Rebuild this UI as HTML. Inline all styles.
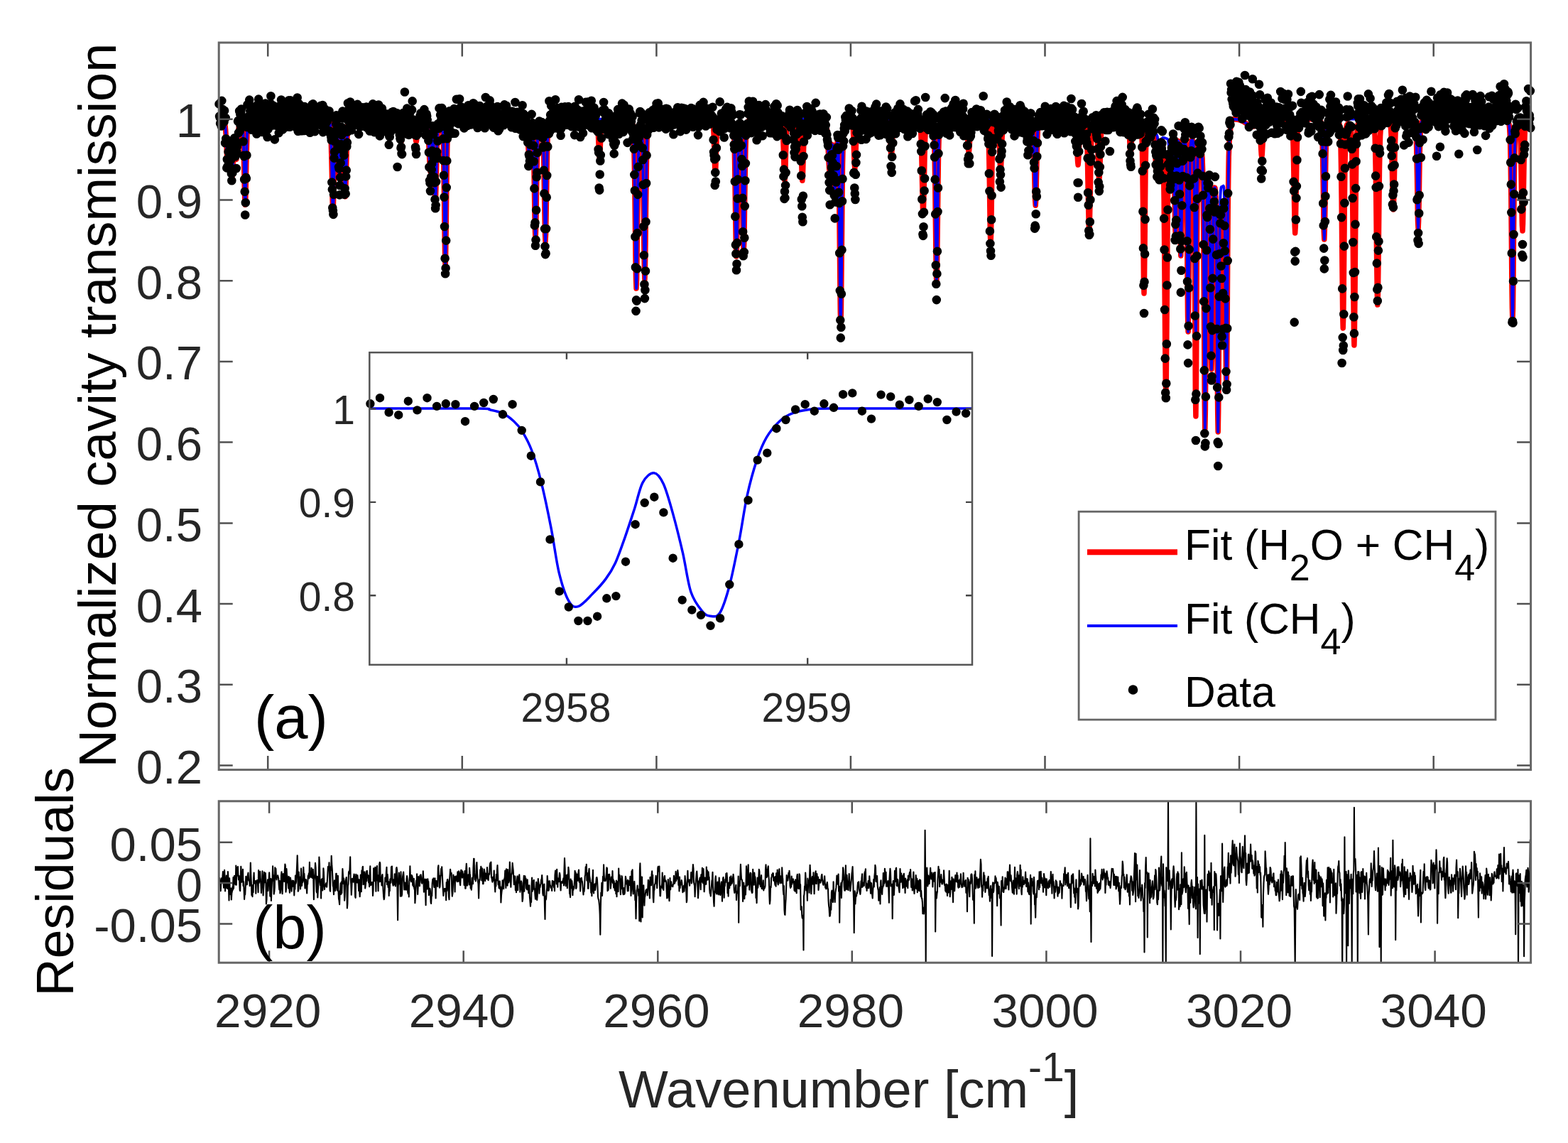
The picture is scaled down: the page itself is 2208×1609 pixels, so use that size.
<!DOCTYPE html><html><head><meta charset="utf-8"><title>Spectrum fit</title><style>html,body{margin:0;padding:0;background:#fff}svg{display:block}</style></head><body>
<svg width="2208" height="1609" viewBox="0 0 2208 1609" font-family="'Liberation Sans', Arial, Helvetica, sans-serif">
<rect width="2208" height="1609" fill="#fff"/>
<defs><clipPath id="cm"><rect x="308.2" y="60.0" width="1847.4" height="1023.6"/></clipPath><clipPath id="cr"><rect x="308.2" y="1127.8" width="1847.4" height="227.4"/></clipPath><clipPath id="ci"><rect x="520.3" y="496.2" width="848.7" height="439.6"/></clipPath></defs>
<g clip-path="url(#cm)">
<polyline fill="none" stroke="#f00" stroke-width="7.5" stroke-linejoin="round" points="308.5,168.1 309,168.1 309.6,168.2 310.1,168.2 310.7,168.3 311.2,168.3 311.7,168.4 312.3,168.5 312.8,168.6 313.4,169 313.9,169.2 314.4,169.5 315,169.8 315.5,170.5 316.1,171.7 316.6,173.8 317.1,177.4 317.7,183 318.2,190.9 318.8,201 319.3,212.6 319.8,223.1 320.4,230.9 320.9,233.9 321.5,231.6 322,224.9 322.5,216 323.1,207.9 323.6,203.2 324.2,204 324.7,210.7 325.2,222.1 325.8,235 326.3,245.3 326.9,249.2 327.4,245.1 327.9,234.6 328.5,221.4 329,209.4 329.6,201.8 330.1,199.9 330.6,202.9 331.2,209.3 331.7,216.9 332.3,222.5 332.8,224.4 333.3,221.9 333.9,215.3 334.4,206.4 335,196.6 335.5,188.2 336,181.5 336.6,176.9 337.1,174 337.7,172.3 338.2,171.5 338.7,171.1 339.3,171.1 339.8,171.2 340.4,171.7 340.9,172.4 341.4,174.9 342,180.2 342.5,190.6 343.1,207.9 343.6,231.8 344.1,258.4 344.7,280 345.2,288.3 345.8,279.9 346.3,258.3 346.8,231.4 347.4,207.4 347.9,190.1 348.5,179.7 349,174.2 349.5,171.7 350.1,170.5 350.6,169.9 351.2,169.5 351.7,169.3 352.2,169 352.8,168.9 353.3,168.7 353.9,168.6 354.4,168.5 354.9,168.4 355.5,168.4 356,168.3 356.6,168.3 357.1,168.2 357.6,168.2 358.2,168.1 358.7,168.1 359.3,167.7 454.8,167.7 455.4,168.2 455.9,168.2 456.5,168.3 457,168.3 457.5,168.4 458.1,168.4 458.6,168.5 459.2,168.6 459.7,168.7 460.2,168.8 460.8,169 461.3,169.1 461.9,169.3 462.4,169.6 462.9,169.9 463.5,170.4 464,171.3 464.6,173.4 465.1,177.2 465.6,184.5 466.2,197.2 466.7,216.6 467.3,241.7 467.8,268.1 468.3,288.7 468.9,296.6 469.4,288.8 470,268.4 470.5,242.1 471,217.2 471.6,198 472.1,185.4 472.7,178.9 473.2,175.7 473.7,175.1 474.3,176.4 474.8,180.4 475.4,187.7 475.9,199.2 476.4,214.2 477,230 477.5,242.3 478.1,247 478.6,242.4 479.1,230.1 479.7,214.3 480.2,199.5 480.8,188.2 481.3,181.2 481.8,178.3 482.4,179.2 482.9,183.7 483.5,193.9 484,210 484.5,230.9 485.1,253 485.6,270.2 486.2,276.7 486.7,270.1 487.2,252.6 487.8,230.4 488.3,209.2 488.9,192.7 489.4,182 489.9,175.8 490.5,172.6 491,171.1 491.6,170.3 492.1,169.6 492.6,169.3 493.2,169.1 493.7,168.9 494.3,168.8 494.8,168.6 495.3,168.5 495.9,168.5 496.4,168.4 497,168.3 497.5,168.3 498,168.2 498.6,168.2 499.1,168.1 499.7,168.1 500.2,167.7 534.2,167.7 534.8,167.8 535.3,167.8 535.8,167.8 536.4,167.8 536.9,167.8 537.5,167.8 538,167.8 538.5,167.9 539.1,167.9 539.6,167.9 540.2,167.9 540.7,167.9 541.2,168 541.8,168 542.3,168.1 542.9,168.2 543.4,168.3 543.9,168.5 544.5,169 545,170.1 545.6,172.2 546.1,175.7 546.6,180.6 547.2,185.9 547.7,190.3 548.3,192 548.8,190.3 549.3,185.9 549.9,180.6 550.4,175.7 551,172.2 551.5,170.2 552,169.1 552.6,168.6 553.1,168.4 553.7,168.3 554.2,168.2 554.7,168.2 555.3,168.2 555.8,168.2 556.4,168.2 556.9,168.2 557.4,168.2 558,168.2 558.5,168.3 559.1,168.3 559.6,168.4 560.1,168.6 560.7,168.9 561.2,169.5 561.8,171 562.3,173.7 562.8,178.4 563.4,184.8 563.9,192 564.5,197.8 565,200 565.5,197.8 566.1,192 566.6,184.8 567.2,178.4 567.7,173.7 568.2,170.9 568.8,169.5 569.3,168.8 569.9,168.5 570.4,168.3 570.9,168.2 571.5,168.1 572,168.1 572.6,168.1 573.1,168.1 573.6,168.1 574.2,168.1 574.7,168.1 575.3,168 575.8,168 576.3,168.1 576.9,168.1 577.4,168.1 578,168.1 578.5,168.1 579,168.1 579.6,168.1 580.1,168.2 580.7,168.3 581.2,168.5 581.7,168.8 582.3,169.5 582.8,170.9 583.4,173.7 583.9,178.4 584.4,184.8 585,192 585.5,197.8 586.1,200 586.6,197.8 587.1,192 587.7,184.8 588.2,178.4 588.8,173.7 589.3,170.9 589.8,169.5 590.4,168.8 590.9,168.5 591.5,168.3 592,168.2 592.5,168.5 593.1,168.5 593.6,168.5 594.2,168.5 594.7,168.5 595.2,168.5 595.8,168.5 596.3,168.6 596.9,168.6 597.4,168.7 597.9,168.8 598.5,168.9 599,169.1 599.6,169.8 600.1,170.1 600.6,170.8 601.2,172.2 601.7,174.5 602.3,178.5 602.8,184.8 603.3,193.8 603.9,205.1 604.4,217.7 605,229.5 605.5,238.2 606,241.4 606.6,238.6 607.1,230.4 607.7,219.1 608.2,207.4 608.7,197.8 609.3,192.2 609.8,192.4 610.4,199.7 610.9,214.5 611.4,235.3 612,257.9 612.5,275.6 613.1,282.3 613.6,275.9 614.1,257.6 614.7,234.3 615.2,212.2 615.8,195.1 616.3,183.9 616.8,177.5 617.4,174.3 617.9,172.8 618.5,172.1 619,171.8 619.5,171.7 620.1,171.4 620.6,171.6 621.2,171.9 621.7,172.4 622.2,173.4 622.8,175.3 623.3,179.6 623.9,188.8 624.4,206.7 624.9,236.3 625.5,277.4 626,323.1 626.6,360 627.1,374 627.6,359.6 628.2,322.6 628.7,276.9 629.3,235.8 629.8,206.1 630.3,188.2 630.9,178.9 631.4,174.5 632,172.5 632.5,171.5 633,170.8 633.6,170.4 634.1,170 634.7,169.7 635.2,169.5 635.7,169.3 636.3,169.1 636.8,169 637.4,168.8 637.9,168.7 638.4,168.6 639,168.6 639.5,168.5 640.1,168.4 640.6,168.4 641.1,167.7 730.8,167.7 731.3,167.9 731.9,167.9 732.4,167.9 732.9,167.9 733.5,168 734,168 734.6,168 735.1,168 735.6,168.1 736.2,168.1 736.7,168.2 737.3,168.2 737.8,168.3 738.3,168.4 738.9,168.5 739.4,168.7 740,169 740.5,170.3 741,171.7 741.6,174.5 742.1,179.2 742.7,186.5 743.2,195.8 743.7,205.6 744.3,213.3 744.8,216.3 745.4,213.6 745.9,206.2 746.4,196.7 747,187.7 747.5,180.9 748.1,176.7 748.6,174.6 749.1,174.4 749.7,176.1 750.2,180.7 750.8,190 751.3,206.6 751.8,232 752.4,264.8 752.9,299.2 753.5,326.1 754,336.4 754.5,326.7 755.1,299.8 755.6,265.2 756.2,232.4 756.7,207 757.2,190.4 757.8,181 758.3,176.2 758.9,173.8 759.4,172.7 759.9,172.3 760.5,172.1 761,172 761.6,172.1 762.1,172.3 762.6,172.8 763.2,173.9 763.7,176.1 764.3,181 764.8,190.7 765.3,207.7 765.9,233.7 766.4,267.3 767,302.6 767.5,330.1 768,340 768.6,329.5 769.1,301.9 769.7,266.5 770.2,232.9 770.7,206.8 771.3,189.7 771.8,180 772.4,175 772.9,172.6 773.4,171.4 774,170.7 774.5,170.2 775.1,169.9 775.6,169.6 776.1,169.4 776.7,169.2 777.2,169 777.8,168.9 778.3,168.8 778.8,168.7 779.4,168.6 779.9,168.5 780.5,168.5 781,168.4 781.5,168.3 782.1,167.7 830.1,167.7 830.7,167.9 831.2,167.9 831.8,167.9 832.3,167.9 832.8,167.9 833.4,167.9 833.9,168 834.5,168 835,168 835.5,168.1 836.1,168.1 836.6,168.2 837.2,168.2 837.7,168.3 838.2,168.4 838.8,168.6 839.3,168.8 839.9,169.1 840.4,169.9 840.9,171.8 841.5,175.7 842,182.9 842.6,193.7 843.1,206.7 843.6,217.6 844.2,222 844.7,217.6 845.3,206.7 845.8,193.7 846.3,182.9 846.9,175.7 847.4,171.8 848,169.9 848.5,169.1 849,168.8 849.6,168.6 850.1,168.4 850.7,168.3 851.2,168.2 851.7,168.3 852.3,168.2 852.8,168.2 853.4,168.2 853.9,168.2 854.4,168.2 855,168.1 855.5,168.1 856.1,168.2 856.6,168.2 857.1,168.2 857.7,168.2 858.2,168.1 858.8,168.2 859.3,168.3 859.8,168.4 860.4,168.6 860.9,168.9 861.5,169.7 862,171.4 862.5,174.6 863.1,180 863.6,187.4 864.2,195.7 864.7,202.4 865.2,205 865.8,202.4 866.3,195.7 866.9,187.4 867.4,180 867.9,174.6 868.5,171.4 869,169.7 869.6,168.9 870.1,168.6 870.6,168.4 871.2,168.3 871.7,168.2 872.3,168.1 872.8,168.1 873.3,168 873.9,168 874.4,168 875,167.9 875.5,167.9 876,167.9 876.6,167.9 877.1,167.9 877.7,167.9 878.2,167.8 878.7,167.8 879.3,167.7 882,167.7 882.5,168.7 883.1,168.8 883.6,168.9 884.1,169 884.7,169.1 885.2,169.2 885.8,169.4 886.3,169.6 886.8,169.8 887.4,170 887.9,170.3 888.5,170.6 889,171.1 889.5,171.6 890.1,172.4 890.6,173.6 891.2,176 891.7,180.6 892.2,189.5 892.8,205.5 893.3,231.5 893.9,268.3 894.4,313.9 894.9,359 895.5,393.2 896,406.1 896.6,393.4 897.1,359.4 897.6,314.5 898.2,269.8 898.7,233.2 899.3,207.5 899.8,191.7 900.3,183 900.9,178.8 901.4,176.9 902,176.2 902.5,176.4 903,177.4 903.6,180.1 904.1,186.3 904.7,198.7 905.2,220.7 905.7,254.4 906.3,298 906.8,343.9 907.4,379.7 907.9,393.3 908.4,379.5 909,343.5 909.5,297.3 910.1,252.6 910.6,218.6 911.1,196.4 911.7,183.7 912.2,177.2 912.8,174 913.3,172.5 913.8,171.6 914.4,171 914.9,170.5 915.5,170.2 916,169.9 916.5,169.6 917.1,169.4 917.6,169.3 918.2,169.1 918.7,169 919.2,168.9 919.8,168.8 920.3,168.7 920.9,168.6 921.4,168.5 921.9,167.7 993.2,167.7 993.8,167.9 994.3,167.9 994.8,168 995.4,168 995.9,168 996.5,168 997,168.1 997.5,168.1 998.1,168.2 998.6,168.2 999.2,168.3 999.7,168.4 1000.2,168.4 1000.8,168.6 1001.3,168.7 1001.9,168.9 1002.4,169.2 1002.9,169.7 1003.5,170.8 1004,173.4 1004.6,178.9 1005.1,189 1005.6,204.3 1006.2,222.5 1006.7,237.9 1007.3,244 1007.8,237.9 1008.3,222.5 1008.9,204.3 1009.4,189 1010,178.9 1010.5,173.4 1011,170.8 1011.6,169.7 1012.1,169.2 1012.7,168.9 1013.2,168.7 1013.7,168.6 1014.3,168.4 1014.8,168.4 1015.4,168.3 1015.9,168.2 1016.4,168.2 1017,168.1 1017.5,168.1 1018.1,168 1018.6,168 1019.1,168 1019.7,168 1020.2,167.9 1020.8,167.9 1021.3,167.7 1022.9,167.7 1023.5,168.4 1024,168.5 1024.5,168.5 1025.1,168.6 1025.6,168.7 1026.2,168.8 1026.7,168.9 1027.2,169 1027.8,169.2 1028.3,169.4 1028.9,169.6 1029.4,169.8 1029.9,170.1 1030.5,170.5 1031,171 1031.6,171.8 1032.1,173.1 1032.6,175.8 1033.2,181.4 1033.7,193 1034.3,212.1 1034.8,241.3 1035.3,278.9 1035.9,318.4 1036.4,349.3 1037,361.1 1037.5,349.5 1038,318.9 1038.6,279.6 1039.1,242.2 1039.7,213.4 1040.2,194.6 1040.7,184.1 1041.3,179 1041.8,177 1042.4,177 1042.9,178.8 1043.4,183.6 1044,193.7 1044.5,211.7 1045.1,239.3 1045.6,275.1 1046.1,312.7 1046.7,342.1 1047.2,353.2 1047.8,341.8 1048.3,312.2 1048.8,274.3 1049.4,238.3 1049.9,210.3 1050.5,192 1051,180.8 1051.5,175.5 1052.1,172.9 1052.6,171.6 1053.2,170.9 1053.7,170.4 1054.2,170 1054.8,169.7 1055.3,169.5 1055.9,169.3 1056.4,169.1 1056.9,169 1057.5,168.9 1058,168.8 1058.6,168.7 1059.1,168.6 1059.6,168.5 1060.2,168.4 1060.7,168.4 1061.3,167.7 1091,167.7 1091.5,168 1092,168 1092.6,168 1093.1,168.1 1093.7,168.1 1094.2,168.1 1094.7,168.2 1095.3,168.2 1095.8,168.3 1096.4,168.4 1096.9,168.4 1097.4,168.5 1098,168.7 1098.5,168.8 1099.1,169 1099.6,169.3 1100.1,169.7 1100.7,170.6 1101.2,172.4 1101.8,176.3 1102.3,183.8 1102.8,196.2 1103.4,213.4 1103.9,232.5 1104.5,248 1105,254 1105.5,248 1106.1,232.5 1106.6,213.5 1107.2,196.3 1107.7,183.9 1108.2,176.5 1108.8,172.6 1109.3,170.8 1109.9,170 1110.4,169.6 1110.9,169.3 1111.5,169.2 1112,169.1 1112.6,169 1113.1,169 1113.6,169 1114.2,169 1114.7,169.1 1115.3,169.3 1115.8,169.7 1116.3,170.9 1116.9,173.1 1117.4,177.2 1118,184 1118.5,193.4 1119,203.6 1119.6,212.2 1120.1,215.5 1120.7,212.3 1121.2,203.9 1121.7,193.5 1122.3,184.1 1122.8,177.5 1123.4,173.5 1123.9,171.6 1124.4,170.8 1125,170.8 1125.5,171.4 1126.1,173.1 1126.6,176.9 1127.1,184.3 1127.7,196.6 1128.2,213.8 1128.8,232.9 1129.3,248.3 1129.8,254.3 1130.4,248.2 1130.9,232.7 1131.5,213.6 1132,196.4 1132.5,183.9 1133.1,176.4 1133.6,172.5 1134.2,170.6 1134.7,169.7 1135.2,169.3 1135.8,169 1136.3,168.8 1136.9,168.7 1137.4,168.5 1137.9,168.4 1138.5,168.4 1139,168.3 1139.6,168.2 1140.1,168.2 1140.6,168.1 1141.2,168.1 1141.7,168.1 1142.3,168 1142.8,168 1143.3,168 1143.9,167.7 1154.1,167.7 1154.7,168.1 1155.2,168.1 1155.8,168.2 1156.3,168.2 1156.8,168.3 1157.4,168.4 1157.9,168.5 1158.5,168.7 1159,168.9 1159.5,169.1 1160.1,169.4 1160.6,169.7 1161.2,170.1 1161.7,170.7 1162.2,171.9 1162.8,173 1163.3,174.7 1163.9,177.3 1164.4,181.5 1164.9,187.6 1165.5,196 1166,206.6 1166.6,218.3 1167.1,229.3 1167.6,237.6 1168.2,241.3 1168.7,239.7 1169.3,233.5 1169.8,224.6 1170.3,216.3 1170.9,208.7 1171.4,204.1 1172,203.6 1172.5,207.5 1173,215.6 1173.6,227.3 1174.1,240.9 1174.7,253.7 1175.2,262.8 1175.7,265.7 1176.3,261.5 1176.8,251.2 1177.4,237.2 1177.9,222.5 1178.4,209.7 1179,200.6 1179.5,196.6 1180.1,199.6 1180.6,212.4 1181.1,238.8 1181.7,280.8 1182.2,335.5 1182.8,393.7 1183.3,439.1 1183.8,456.1 1184.4,438.3 1184.9,392.2 1185.5,333.2 1186,277.1 1186.5,233.6 1187.1,205.1 1187.6,188.8 1188.2,180.4 1188.7,176.3 1189.2,174.2 1189.8,172.7 1190.3,172.1 1190.9,171.6 1191.4,171.1 1191.9,170.8 1192.5,170.5 1193,170.3 1193.6,170.1 1194.1,169.9 1194.6,169.8 1195.2,169.7 1195.7,169.6 1196.3,169.6 1196.8,169.6 1197.3,169.7 1197.9,168.8 1198.4,169 1199,169.3 1199.5,170 1200,171.5 1200.6,174.6 1201.1,180.6 1201.7,190.6 1202.2,204.4 1202.7,219.7 1203.3,232.2 1203.8,237 1204.4,232.2 1204.9,219.7 1205.4,204.4 1206,190.6 1206.5,180.6 1207.1,174.6 1207.6,171.5 1208.1,170 1208.7,169.3 1209.2,169 1209.8,168.8 1210.3,168.6 1210.8,168.5 1211.4,168.4 1211.9,168.3 1212.5,168.2 1213,168.2 1213.5,168.1 1214.1,168.1 1214.6,168.1 1215.2,168 1215.7,168 1216.2,168 1216.8,168 1217.3,167.9 1217.9,167.7 1241.1,167.7 1241.6,167.9 1242.2,167.9 1242.7,167.9 1243.2,167.9 1243.8,167.9 1244.3,168 1244.9,168 1245.4,168 1245.9,168.1 1246.5,168.1 1247,168.2 1247.6,168.2 1248.1,168.3 1248.6,168.4 1249.2,168.5 1249.7,168.7 1250.3,168.9 1250.8,169.4 1251.3,170.5 1251.9,172.9 1252.4,177.4 1253,185 1253.5,195.4 1254,207 1254.6,216.4 1255.1,220 1255.7,216.4 1256.2,207 1256.7,195.4 1257.3,185 1257.8,177.4 1258.4,172.9 1258.9,170.5 1259.4,169.4 1260,168.9 1260.5,168.7 1261.1,168.5 1261.6,168.4 1262.1,168.3 1262.7,168.2 1263.2,168.2 1263.8,168.1 1264.3,168.1 1264.8,168 1265.4,168 1265.9,168 1266.5,167.9 1267,167.9 1267.5,167.9 1268.1,167.9 1268.6,167.9 1269.2,167.7 1285.9,167.7 1286.4,168.2 1287,168.2 1287.5,168.3 1288.1,168.3 1288.6,168.4 1289.1,168.5 1289.7,168.5 1290.2,168.6 1290.8,168.7 1291.3,168.9 1291.8,169 1292.4,169.2 1292.9,169.4 1293.5,169.6 1294,170 1294.5,170.5 1295.1,171.5 1295.6,173.3 1296.2,177.2 1296.7,184.8 1297.2,198 1297.8,218.1 1298.3,244.2 1298.9,271.5 1299.4,292.9 1299.9,301 1300.5,292.9 1301,271.5 1301.6,244.2 1302.1,218.1 1302.6,198 1303.2,184.8 1303.7,177.2 1304.3,173.3 1304.8,171.5 1305.3,171.4 1305.9,170.9 1306.4,170.6 1307,170.5 1307.5,170.4 1308,170.3 1308.6,170.3 1309.1,170.3 1309.7,170.4 1310.2,170.5 1310.7,170.7 1311.3,170.9 1311.8,171.2 1312.4,171.6 1312.9,172.2 1313.4,173.1 1314,174.2 1314.5,177.4 1315.1,184.1 1315.6,197.2 1316.1,220 1316.7,254.8 1317.2,299.8 1317.8,347.1 1318.3,384 1318.8,398 1319.4,384 1319.9,347.1 1320.5,299.8 1321,254.8 1321.5,220 1322.1,197.2 1322.6,184.1 1323.2,177.4 1323.7,174.2 1324.2,172.6 1324.8,171.7 1325.3,171.1 1325.9,170.6 1326.4,170.2 1326.9,169.9 1327.5,169.7 1328,169.5 1328.6,169.3 1329.1,169.1 1329.6,169 1330.2,168.9 1330.7,168.8 1331.3,168.7 1331.8,168.6 1332.3,168.6 1332.9,167.7 1350.2,167.7 1350.7,167.9 1351.2,167.9 1351.8,167.9 1352.3,167.9 1352.9,167.9 1353.4,167.9 1353.9,168 1354.5,168 1355,168 1355.6,168.1 1356.1,168.1 1356.6,168.2 1357.2,168.2 1357.7,168.3 1358.3,168.4 1358.8,168.6 1359.3,168.8 1359.9,169.3 1360.4,170.3 1361,172.4 1361.5,176.5 1362,183.3 1362.6,192.7 1363.1,203.2 1363.7,211.7 1364.2,215 1364.7,211.7 1365.3,203.2 1365.8,192.7 1366.4,183.3 1366.9,176.5 1367.4,172.4 1368,170.3 1368.5,169.3 1369.1,168.8 1369.6,168.6 1370.1,168.4 1370.7,168.3 1371.2,168.2 1371.8,168.2 1372.3,168.1 1372.8,168.1 1373.4,168 1373.9,168 1374.5,168 1375,167.9 1375.5,167.9 1376.1,167.9 1376.6,167.9 1377.2,167.9 1377.7,167.9 1378.2,167.7 1380.9,167.7 1381.5,168.3 1382,168.3 1382.6,168.4 1383.1,168.4 1383.6,168.5 1384.2,168.6 1384.7,168.7 1385.3,168.8 1385.8,168.9 1386.3,169 1386.9,169.2 1387.4,169.4 1388,169.7 1388.5,170 1389,170.3 1389.6,170.9 1390.1,171.8 1390.7,173.5 1391.2,177.2 1391.7,185.1 1392.3,200.3 1392.8,225.5 1393.4,260.5 1393.9,299.3 1394.4,330.8 1395,343 1395.5,331 1396.1,299.6 1396.6,260.8 1397.1,225.8 1397.7,200.6 1398.2,185.5 1398.8,177.6 1399.3,173.9 1399.8,172.3 1400.4,171.4 1400.9,171 1401.5,170.7 1402,170.5 1402.5,170.3 1403.1,170.3 1403.6,170.3 1404.2,170.6 1404.7,171.2 1405.2,172.6 1405.8,175.8 1406.3,181.9 1406.9,192.3 1407.4,206.6 1407.9,222.6 1408.5,235.5 1409,240 1409.6,235 1410.1,222 1410.6,206 1411.2,191.6 1411.7,181.2 1412.3,174.9 1412.8,171.6 1413.3,170.1 1413.9,169.4 1414.4,169 1415,168.8 1415.5,168.6 1416,168.5 1416.6,168.4 1417.1,168.3 1417.7,168.3 1418.2,168.2 1418.7,168.1 1419.3,168.1 1419.8,168.1 1420.4,168 1420.9,168 1421.4,168 1422,168 1422.5,167.9 1423.1,167.7 1433.9,167.7 1434.4,167.8 1434.9,167.8 1435.5,167.8 1436,167.9 1436.6,167.9 1437.1,167.9 1437.6,167.9 1438.2,167.9 1438.7,168 1439.3,168 1439.8,168 1440.3,168.1 1440.9,168.1 1441.4,168.2 1442,168.3 1442.5,168.4 1443,168.6 1443.6,169.1 1444.1,170 1444.7,172.3 1445.2,175.5 1445.7,180.5 1446.3,186.8 1446.8,193.5 1447.4,198.7 1447.9,200.8 1448.4,198.9 1449,193.8 1449.5,187.3 1450.1,181.1 1450.6,176.4 1451.1,173.4 1451.7,171.8 1452.2,171.2 1452.8,171.2 1453.3,171.8 1453.8,173.4 1454.4,176.8 1454.9,183.6 1455.5,195.6 1456,213.9 1456.5,237.6 1457.1,262.4 1457.6,281.8 1458.2,289.2 1458.7,281.8 1459.2,262.3 1459.8,237.4 1460.3,213.7 1460.9,195.4 1461.4,183.3 1461.9,176.4 1462.5,172.8 1463,171.1 1463.6,170.3 1464.1,169.8 1464.6,169.5 1465.2,169.2 1465.7,169 1466.3,168.9 1466.8,168.8 1467.3,168.6 1467.9,168.5 1468.4,168.5 1469,168.4 1469.5,168.3 1470,168.3 1470.6,168.2 1471.1,168.2 1471.7,168.2 1472.2,167.7 1504.1,167.7 1504.6,167.9 1505.1,167.9 1505.7,168 1506.2,168 1506.8,168 1507.3,168 1507.8,168.1 1508.4,168.1 1508.9,168.1 1509.5,168.2 1510,168.3 1510.5,168.3 1511.1,168.4 1511.6,168.5 1512.2,168.7 1512.7,168.9 1513.2,169.2 1513.8,169.8 1514.3,171.2 1514.9,174.1 1515.4,179.7 1515.9,188.9 1516.5,201.7 1517,216 1517.6,227.5 1518.1,232 1518.6,227.5 1519.2,216 1519.7,201.7 1520.3,189.6 1520.8,180.4 1521.3,174.9 1521.9,172 1522.4,170.7 1523,170.2 1523.5,170 1524,169.9 1524.6,169.9 1525.1,169.9 1525.7,170 1526.2,170.2 1526.7,170.4 1527.3,170.7 1527.8,171.2 1528.4,172 1528.9,173.5 1529.4,176.5 1530,182.4 1530.5,193 1531.1,210.2 1531.6,234.6 1532.1,264.1 1532.7,293.9 1533.2,316.5 1533.8,325 1534.3,316.9 1534.8,294.3 1535.4,264.5 1535.9,234.8 1536.5,210.5 1537,193.3 1537.5,182.7 1538.1,176.9 1538.6,173.9 1539.2,172.5 1539.7,171.7 1540.2,171.4 1540.8,171.1 1541.3,171.1 1541.9,171.1 1542.4,171.4 1542.9,172 1543.5,173.6 1544,176.6 1544.6,182.3 1545.1,191.5 1545.6,204.7 1546.2,220.7 1546.7,236.9 1547.3,249.1 1547.8,253 1548.3,248.4 1548.9,236.2 1549.4,220 1550,203.9 1550.5,190.6 1551,181.3 1551.6,175.5 1552.1,172.3 1552.7,170.7 1553.2,169.8 1553.7,169.4 1554.3,169.1 1554.8,168.9 1555.4,168.8 1555.9,168.6 1556.4,168.5 1557,168.4 1557.5,168.4 1558.1,168.3 1558.6,168.3 1559.1,168.2 1559.7,168.2 1560.2,168.1 1560.8,168.1 1561.3,168.1 1561.8,167.7 1578,167.7 1578.6,167.9 1579.1,167.9 1579.7,167.9 1580.2,167.9 1580.7,167.9 1581.3,167.9 1581.8,168 1582.4,168 1582.9,168 1583.4,168.1 1584,168.1 1584.5,168.2 1585.1,168.2 1585.6,168.3 1586.1,168.4 1586.7,168.6 1587.2,168.8 1587.8,169.3 1588.3,170.3 1588.8,172.4 1589.4,176.5 1589.9,183.3 1590.5,192.7 1591,203.2 1591.5,211.7 1592.1,215 1592.6,211.7 1593.2,203.2 1593.7,192.7 1594.2,183.3 1594.8,176.5 1595.3,172.4 1595.9,170.3 1596.4,169.3 1596.9,168.8 1597.5,169.2 1598,169.1 1598.6,169 1599.1,169 1599.6,169 1600.2,169.2 1600.7,169.5 1601.3,169.9 1601.8,170.3 1602.3,170.7 1602.9,171.1 1603.4,171.6 1604,172.2 1604.5,172.8 1605,173.5 1605.6,174.3 1606.1,175.2 1606.7,176.9 1607.2,180 1607.7,187.1 1608.3,202.7 1608.8,233 1609.4,281 1609.9,340.3 1610.4,392 1611,413 1611.5,392.6 1612.1,341.5 1612.6,282.8 1613.1,235.3 1613.7,205.6 1614.2,190.5 1614.8,184.2 1615.3,181.8 1615.8,180.9 1616.4,180.7 1616.9,180.6 1617.5,180.7 1618,180.9 1618.5,181.2 1619.1,181.5 1619.6,181.9 1620.2,182.3 1620.7,182.8 1621.2,183.2 1621.8,183.7 1622.3,184.3 1622.9,184.9 1623.4,185.5 1623.9,186.3 1624.5,187.6 1625,189.3 1625.6,193.5 1626.1,201 1626.6,212 1627.2,224.9 1627.7,236 1628.3,240.9 1628.8,237.5 1629.3,228.1 1629.9,217.8 1630.4,210.8 1631,210 1631.5,215.3 1632,224.2 1632.6,232.6 1633.1,236 1633.7,232.5 1634.2,223.7 1634.7,213.3 1635.3,204.7 1635.8,199.3 1636.4,197.1 1636.9,198.2 1637.4,203.5 1638,216 1638.5,240.2 1639.1,280.5 1639.6,338.4 1640.1,409.2 1640.7,480.1 1641.2,533.4 1641.8,553.4 1642.3,533.6 1642.8,480.6 1643.4,410.1 1643.9,339.7 1644.5,282.5 1645,243.7 1645.5,223 1646.1,218 1646.6,225.2 1647.2,239.8 1647.7,254.2 1648.2,260.1 1648.8,253.9 1649.3,238.7 1649.9,221.7 1650.4,208.7 1650.9,201.3 1651.5,198.6 1652,200 1652.6,206.8 1653.1,222.6 1653.6,249.9 1654.2,285.4 1654.7,317.1 1655.3,330 1655.8,317.1 1656.3,285.5 1656.9,250 1657.4,222.8 1658,207 1658.5,200.1 1659,198.4 1659.6,200.8 1660.1,209.4 1660.7,228.8 1661.2,262.2 1661.7,305.5 1662.3,344.2 1662.8,360 1663.4,344.3 1663.9,305.6 1664.4,262.3 1665,229 1665.5,209.6 1666.1,200.9 1666.6,197.8 1667.1,197 1667.7,196.8 1668.2,197 1668.8,197.8 1669.3,200.7 1669.8,208.9 1670.4,228.1 1670.9,264.8 1671.5,321.1 1672,388.1 1672.5,444.7 1673.1,467 1673.6,444.7 1674.2,388.2 1674.7,321.3 1675.2,265 1675.8,228.3 1676.3,209.2 1676.9,201.1 1677.4,198.2 1677.9,197.4 1678.5,197.3 1679,197.3 1679.6,197.8 1680.1,200 1680.6,207.4 1681.2,228.2 1681.7,274.2 1682.3,353.6 1682.8,456.6 1683.3,548.6 1683.9,586 1684.4,548.6 1685,456.6 1685.5,353.7 1686,274.4 1686.6,228.5 1687.1,207.7 1687.7,200.3 1688.2,198.2 1688.7,197.8 1689.3,197.7 1689.8,197.7 1690.4,200.1 1690.9,203.7 1691.4,207.4 1692,211.2 1692.5,216 1693.1,223.4 1693.6,238 1694.1,267.3 1694.7,320.1 1695.2,399.4 1695.8,493 1696.3,571.8 1696.8,604 1697.4,576.3 1697.9,502.6 1698.5,414.9 1699,341.4 1699.5,294.4 1700.1,271 1700.6,262.3 1701.2,260.9 1701.7,262.8 1702.2,266.5 1702.8,274.2 1703.3,292.5 1703.9,327.4 1704.4,381.1 1704.9,444.9 1705.5,498.7 1706,520 1706.6,498.7 1707.1,444.9 1707.6,381.1 1708.2,327.4 1708.7,292.5 1709.3,274.2 1709.8,266.5 1710.3,264.1 1710.9,264.3 1711.4,267.8 1712,278.2 1712.5,302.7 1713,349.5 1713.6,421.6 1714.1,507.2 1714.7,579.5 1715.2,608 1715.7,579.5 1716.3,507.3 1716.8,421.9 1717.4,351 1717.9,308.1 1718.4,294.7 1719,308.8 1719.5,347.4 1720.1,401.3 1720.6,450.1 1721.1,470 1721.7,450.1 1722.2,400.6 1722.8,345 1723.3,304.2 1723.8,287.2 1724.4,296 1724.9,331.4 1725.5,391.7 1726,464.8 1726.5,526.4 1727.1,549 1727.6,517.3 1728.2,447.3 1728.7,365.5 1729.2,295.7 1729.8,247.9 1730.3,219.8 1730.9,203.9 1731.4,194.9 1731.9,188.6 1732.5,183 1733,177.5 1733.6,172.1 1734.1,167.8 1734.6,167.8 1735.2,167.8 1735.7,167.8 1736.3,167.8 1736.8,167.8 1737.3,167.8 1737.9,167.9 1738.4,167.9 1739,167.9 1739.5,168 1740,168 1740.6,168 1741.1,168.1 1741.7,168.2 1742.2,168.2 1742.7,168.3 1743.3,168.4 1743.8,168.5 1744.4,168.6 1744.9,168.8 1745.4,168.9 1746,169.1 1746.5,169.2 1747.1,169.4 1747.6,169.6 1748.1,169.8 1748.7,170.1 1749.2,170.3 1749.8,170.6 1750.3,170.8 1750.8,171.1 1751.4,171.5 1751.9,171.8 1752.5,172.1 1753,172.4 1753.5,172.8 1754.1,173.2 1754.6,173.5 1755.2,173.9 1755.7,174.2 1756.2,174.6 1756.8,175 1757.3,175.3 1757.9,175.6 1758.4,176 1758.9,176.2 1759.5,176.5 1760,176.8 1760.6,177 1761.1,177.2 1761.6,177.4 1762.2,177.5 1762.7,177.6 1763.3,177.8 1763.8,177.9 1764.3,177.9 1764.9,177.9 1765.4,177.8 1766,177.7 1766.5,177.6 1767,177.5 1767.6,177.3 1768.1,177.1 1768.7,176.9 1769.2,176.7 1769.7,176.4 1770.3,176.2 1770.8,176 1771.4,175.8 1771.9,175.7 1772.4,175.8 1773,176.5 1773.5,178.4 1774.1,182.3 1774.6,189.1 1775.1,198.6 1775.7,209.3 1776.2,217.9 1776.8,221 1777.3,217.2 1777.8,208 1778.4,196.8 1778.9,186.6 1779.5,179.2 1780,174.7 1780.5,172.2 1781.1,171 1781.6,170.3 1782.2,169.9 1782.7,169.6 1783.2,169.4 1783.8,169.2 1784.3,169 1784.9,168.8 1785.4,168.7 1785.9,168.6 1786.5,168.5 1787,168.4 1787.6,168.3 1788.1,168.2 1788.6,168.2 1789.2,168.1 1789.7,168.1 1790.3,168 1790.8,167.8 1791.3,167.8 1791.9,167.8 1792.4,167.8 1793,167.8 1793.5,167.8 1809.7,167.7 1810.2,168.3 1810.8,168.3 1811.3,168.4 1811.9,168.5 1812.4,168.5 1812.9,168.6 1813.5,168.7 1814,168.8 1814.6,168.9 1815.1,169.1 1815.6,169.3 1816.2,169.5 1816.7,169.7 1817.3,170 1817.8,170.5 1818.3,171.1 1818.9,172.2 1819.4,174.5 1820,179.1 1820.5,188.2 1821,204.1 1821.6,228.4 1822.1,259.6 1822.7,292.6 1823.2,318.2 1823.7,328 1824.3,318.2 1824.8,292.6 1825.4,259.6 1825.9,228.4 1826.4,204.1 1827,188.2 1827.5,179.1 1828.1,174.5 1828.6,172.2 1829.1,171.1 1829.7,170.5 1830.2,170 1830.8,169.7 1831.3,169.5 1831.8,169.3 1832.4,169.1 1832.9,168.9 1833.5,168.8 1834,168.7 1834.5,168.6 1835.1,168.5 1835.6,168.5 1836.2,168.4 1836.7,168.3 1837.2,168.3 1837.8,167.7 1850.7,167.7 1851.3,168.3 1851.8,168.3 1852.4,168.3 1852.9,168.4 1853.4,168.5 1854,168.5 1854.5,168.6 1855.1,168.7 1855.6,168.9 1856.1,169 1856.7,169.2 1857.2,169.3 1857.8,169.6 1858.3,169.9 1858.8,170.3 1859.4,170.8 1859.9,171.6 1860.5,173.3 1861,176.9 1861.5,184.5 1862.1,199.2 1862.6,223.5 1863.2,257.3 1863.7,294.8 1864.2,325.2 1864.8,337 1865.3,325.2 1865.9,294.8 1866.4,257.3 1866.9,223.5 1867.5,199.2 1868,184.5 1868.6,176.9 1869.1,173.3 1869.6,171.6 1870.2,170.8 1870.7,170.3 1871.3,169.9 1871.8,169.6 1872.3,169.3 1872.9,169.2 1873.4,169 1874,168.9 1874.5,168.7 1875,168.6 1875.6,168.5 1876.1,168.5 1876.7,168.4 1877.2,168.3 1877.7,169.4 1878.3,169.4 1878.8,169 1879.4,169.1 1879.9,169.2 1880.4,169.4 1881,169.5 1881.5,169.7 1882.1,170 1882.6,170.2 1883.1,170.6 1883.7,170.9 1884.2,171.4 1884.8,172 1885.3,172.8 1885.8,173.9 1886.4,176 1886.9,180.1 1887.5,188.7 1888,205.3 1888.5,234.5 1889.1,279.1 1889.6,336.5 1890.2,396.9 1890.7,444 1891.2,462 1891.8,444 1892.3,396.9 1892.9,336.5 1893.4,280.2 1893.9,235.8 1894.5,206.7 1895,190.2 1895.6,181.8 1896.1,177.8 1896.6,175.9 1897.2,175 1897.7,174.4 1898.3,174.1 1898.8,174 1899.3,174.1 1899.9,174.2 1900.4,174.6 1901,175.2 1901.5,176.3 1902,178.3 1902.6,182.7 1903.1,191.8 1903.7,209.7 1904.2,241.2 1904.7,289.2 1905.3,350.3 1905.8,415.6 1906.4,466.6 1906.9,486 1907.4,466.6 1908,415.6 1908.5,350.3 1909.1,288.1 1909.6,240 1910.1,208.4 1910.7,190.4 1911.2,181.1 1911.8,176.7 1912.3,174.4 1912.8,173.2 1913.4,172.3 1913.9,171.7 1914.5,171.2 1915,170.8 1915.5,170.4 1916.1,170.2 1916.6,169.9 1917.2,169.7 1917.7,169.5 1918.2,169.3 1918.8,169.2 1919.3,169.1 1919.9,169 1920.4,168.9 1920.9,167.7 1925.8,167.7 1926.3,168.8 1926.9,168.9 1927.4,169 1928,169.1 1928.5,169.2 1929,169.4 1929.6,169.5 1930.1,169.7 1930.7,170 1931.2,170.2 1931.7,170.6 1932.3,170.9 1932.8,171.4 1933.4,172 1933.9,172.9 1934.4,174.2 1935,176.8 1935.5,181.9 1936.1,191.7 1936.6,209.4 1937.1,237.9 1937.7,278.5 1938.2,327.8 1938.8,377.4 1939.3,414.9 1939.8,429 1940.4,414.9 1940.9,377.4 1941.5,327.8 1942,278.5 1942.5,237.9 1943.1,209.4 1943.6,191.7 1944.2,181.9 1944.7,176.8 1945.2,174.2 1945.8,172.9 1946.3,172 1946.9,171.4 1947.4,170.9 1947.9,170.6 1948.5,170.7 1949,170.5 1949.6,170.3 1950.1,170.1 1950.6,170 1951.2,169.9 1951.7,169.9 1952.3,169.9 1952.8,169.9 1953.3,169.9 1953.9,168.9 1954.4,169.1 1955,169.3 1955.5,169.6 1956,169.9 1956.6,170.4 1957.1,171.3 1957.7,173.1 1958.2,176.8 1958.7,184 1959.3,196.6 1959.8,215.9 1960.4,240.7 1960.9,266.9 1961.4,287.2 1962,295 1962.5,287.2 1963.1,266.9 1963.6,240.7 1964.1,215.9 1964.7,196.6 1965.2,184 1965.8,176.8 1966.3,173.1 1966.8,171.3 1967.4,170.4 1967.9,169.9 1968.5,169.6 1969,169.3 1969.5,169.1 1970.1,168.9 1970.6,168.8 1971.2,168.7 1971.7,168.6 1972.2,168.5 1972.8,168.4 1973.3,168.4 1973.9,168.3 1974.4,168.3 1974.9,168.2 1975.5,168.2 1976,167.7 1983,167.7 1983.6,168.2 1984.1,168.2 1984.7,168.3 1985.2,168.3 1985.7,168.4 1986.3,168.5 1986.8,168.6 1987.4,168.6 1987.9,168.8 1988.4,168.9 1989,169 1989.5,169.2 1990.1,169.4 1990.6,169.7 1991.1,170 1991.7,170.5 1992.2,171.3 1992.8,172.8 1993.3,176.1 1993.8,183 1994.4,196.4 1994.9,218.6 1995.5,249.4 1996,283.6 1996.5,311.2 1997.1,322 1997.6,311.2 1998.2,283.6 1998.7,249.4 1999.2,218.6 1999.8,196.4 2000.3,183 2000.9,176.1 2001.4,172.8 2001.9,171.3 2002.5,170.5 2003,170 2003.6,169.7 2004.1,169.4 2004.6,169.2 2005.2,169 2005.7,168.9 2006.3,168.8 2006.8,168.6 2007.3,168.6 2007.9,168.5 2008.4,168.4 2009,168.3 2009.5,168.3 2010,168.2 2010.6,168.2 2011.1,167.7 2115.9,167.7 2116.4,168.8 2117,168.8 2117.5,168.9 2118,169 2118.6,169.2 2119.1,169.3 2119.7,169.5 2120.2,169.7 2120.7,169.9 2121.3,170.1 2121.8,170.5 2122.4,170.8 2122.9,171.3 2123.4,171.8 2124,172.6 2124.5,173.7 2125.1,175.7 2125.6,179.7 2126.1,187.9 2126.7,203.9 2127.2,232 2127.8,274.9 2128.3,330.2 2128.8,388.4 2129.4,433.7 2129.9,451 2130.5,434.3 2131,389 2131.5,330.9 2132.1,275.6 2132.6,232.9 2133.2,204.8 2133.7,188.9 2134.2,180.8 2134.8,176.9 2135.3,175.1 2135.9,174.1 2136.4,173.6 2136.9,173.2 2137.5,173.1 2138,173.2 2138.6,173.5 2139.1,174.3 2139.6,176.3 2140.2,180.7 2140.7,189.4 2141.3,204.9 2141.8,228.6 2142.3,259.2 2142.9,291.3 2143.4,316.4 2144,325 2144.5,315.4 2145,290.2 2145.6,257.9 2146.1,227.2 2146.7,203.4 2147.2,187.8 2147.7,178.9 2148.3,174.3 2148.8,172.1 2149.4,171 2149.9,170.4 2150.4,170 2151,169.7 2151.5,169.4 2152.1,169.2 2152.6,169.1 2153.1,168.9 2153.7,168.8 2154.2,168.7 2154.8,168.6 2155.3,168.5"/>
<polyline fill="none" stroke="#00f" stroke-width="3.8" stroke-linejoin="round" points="308.5,168.1 309,168.1 309.6,168.2 310.1,168.2 310.7,168.3 311.2,168.3 311.7,168.4 312.3,168.5 312.8,168.6 313.4,169 313.9,169.2 314.4,169.5 315,169.8 315.5,170.5 316.1,171.7 316.6,173.8 317.1,177.4 317.7,183 318.2,190.9 318.8,201 319.3,212.6 319.8,223.1 320.4,230.9 320.9,233.9 321.5,231.6 322,224.9 322.5,216 323.1,207.9 323.6,203.2 324.2,204 324.7,210.7 325.2,222.1 325.8,235 326.3,245.3 326.9,249.2 327.4,245.1 327.9,234.6 328.5,221.4 329,209.4 329.6,201.8 330.1,199.9 330.6,202.9 331.2,209.3 331.7,216.9 332.3,222.5 332.8,224.4 333.3,221.9 333.9,215.3 334.4,206.4 335,196.6 335.5,188.2 336,181.5 336.6,176.9 337.1,174 337.7,172.3 338.2,171.5 338.7,171.1 339.3,171.1 339.8,171.2 340.4,171.7 340.9,172.4 341.4,174.9 342,180.2 342.5,190.6 343.1,207.9 343.6,231.8 344.1,258.4 344.7,280 345.2,288.3 345.8,279.9 346.3,258.3 346.8,231.4 347.4,207.4 347.9,190.1 348.5,179.7 349,174.2 349.5,171.7 350.1,170.5 350.6,169.9 351.2,169.5 351.7,169.3 352.2,169 352.8,168.9 353.3,168.7 353.9,168.6 354.4,168.5 354.9,168.4 355.5,168.4 356,168.3 356.6,168.3 357.1,168.2 357.6,168.2 358.2,168.1 358.7,168.1 359.3,167.7 454.8,167.7 455.4,168.2 455.9,168.2 456.5,168.3 457,168.3 457.5,168.4 458.1,168.4 458.6,168.5 459.2,168.6 459.7,168.7 460.2,168.8 460.8,169 461.3,169.1 461.9,169.3 462.4,169.6 462.9,169.9 463.5,170.4 464,171.3 464.6,173.4 465.1,177.2 465.6,184.5 466.2,197.2 466.7,216.6 467.3,241.7 467.8,268.1 468.3,288.7 468.9,296.6 469.4,288.8 470,268.4 470.5,242.1 471,217.2 471.6,198 472.1,185.4 472.7,178.9 473.2,175.7 473.7,175.1 474.3,176.4 474.8,180.4 475.4,187.7 475.9,199.2 476.4,214.2 477,230 477.5,242.3 478.1,247 478.6,242.4 479.1,230.1 479.7,214.3 480.2,199.5 480.8,188.2 481.3,181.2 481.8,178.3 482.4,179.2 482.9,183.7 483.5,193.9 484,210 484.5,230.9 485.1,253 485.6,270.2 486.2,276.7 486.7,270.1 487.2,252.6 487.8,230.4 488.3,209.2 488.9,192.7 489.4,182 489.9,175.8 490.5,172.6 491,171.1 491.6,170.3 492.1,169.6 492.6,169.3 493.2,169.1 493.7,168.9 494.3,168.8 494.8,168.6 495.3,168.5 495.9,168.5 496.4,168.4 497,168.3 497.5,168.3 498,168.2 498.6,168.2 499.1,168.1 499.7,168.1 500.2,167.7 592,167.7 592.5,168.1 593.1,168.1 593.6,168.2 594.2,168.2 594.7,168.2 595.2,168.3 595.8,168.3 596.3,168.4 596.9,168.5 597.4,168.6 597.9,168.7 598.5,168.8 599,169 599.6,169.7 600.1,170.1 600.6,170.8 601.2,172.2 601.7,174.5 602.3,178.5 602.8,184.8 603.3,193.8 603.9,205.1 604.4,217.7 605,229.5 605.5,238.2 606,241.4 606.6,238.6 607.1,230.4 607.7,219.1 608.2,207.4 608.7,197.8 609.3,192.2 609.8,192.4 610.4,199.7 610.9,214.5 611.4,235.3 612,257.9 612.5,275.6 613.1,282.3 613.6,275.9 614.1,257.6 614.7,234.3 615.2,212.2 615.8,195.1 616.3,183.9 616.8,177.5 617.4,174.3 617.9,172.8 618.5,172.1 619,171.8 619.5,171.7 620.1,171.4 620.6,171.6 621.2,171.9 621.7,172.4 622.2,173.4 622.8,175.3 623.3,179.6 623.9,188.8 624.4,206.7 624.9,236.3 625.5,277.4 626,323.1 626.6,360 627.1,374 627.6,359.6 628.2,322.6 628.7,276.9 629.3,235.8 629.8,206.1 630.3,188.2 630.9,178.9 631.4,174.5 632,172.5 632.5,171.5 633,170.8 633.6,170.4 634.1,170 634.7,169.7 635.2,169.5 635.7,169.3 636.3,169.1 636.8,169 637.4,168.8 637.9,168.7 638.4,168.6 639,168.6 639.5,168.5 640.1,168.4 640.6,168.4 641.1,167.7 730.8,167.7 731.3,167.9 731.9,167.9 732.4,167.9 732.9,167.9 733.5,168 734,168 734.6,168 735.1,168 735.6,168.1 736.2,168.1 736.7,168.2 737.3,168.2 737.8,168.3 738.3,168.4 738.9,168.5 739.4,168.7 740,169 740.5,170.3 741,171.7 741.6,174.5 742.1,179.2 742.7,186.5 743.2,195.8 743.7,205.6 744.3,213.3 744.8,216.3 745.4,213.6 745.9,206.2 746.4,196.7 747,187.7 747.5,180.9 748.1,176.7 748.6,174.6 749.1,174.4 749.7,176.1 750.2,180.7 750.8,190 751.3,206.6 751.8,232 752.4,264.8 752.9,299.2 753.5,326.1 754,336.4 754.5,326.7 755.1,299.8 755.6,265.2 756.2,232.4 756.7,207 757.2,190.4 757.8,181 758.3,176.2 758.9,173.8 759.4,172.7 759.9,172.3 760.5,172.1 761,172 761.6,172.1 762.1,172.3 762.6,172.8 763.2,173.9 763.7,176.1 764.3,181 764.8,190.7 765.3,207.7 765.9,233.7 766.4,267.3 767,302.6 767.5,330.1 768,340 768.6,329.5 769.1,301.9 769.7,266.5 770.2,232.9 770.7,206.8 771.3,189.7 771.8,180 772.4,175 772.9,172.6 773.4,171.4 774,170.7 774.5,170.2 775.1,169.9 775.6,169.6 776.1,169.4 776.7,169.2 777.2,169 777.8,168.9 778.3,168.8 778.8,168.7 779.4,168.6 779.9,168.5 780.5,168.5 781,168.4 781.5,168.3 782.1,167.7 882,167.7 882.5,168.7 883.1,168.8 883.6,168.9 884.1,169 884.7,169.1 885.2,169.2 885.8,169.4 886.3,169.6 886.8,169.8 887.4,170 887.9,170.3 888.5,170.6 889,171.1 889.5,171.6 890.1,172.4 890.6,173.6 891.2,176 891.7,180.6 892.2,189.5 892.8,205.5 893.3,231.5 893.9,268.3 894.4,313.9 894.9,359 895.5,393.2 896,406.1 896.6,393.4 897.1,359.4 897.6,314.5 898.2,269.8 898.7,233.2 899.3,207.5 899.8,191.7 900.3,183 900.9,178.8 901.4,176.9 902,176.2 902.5,176.4 903,177.4 903.6,180.1 904.1,186.3 904.7,198.7 905.2,220.7 905.7,254.4 906.3,298 906.8,343.9 907.4,379.7 907.9,393.3 908.4,379.5 909,343.5 909.5,297.3 910.1,252.6 910.6,218.6 911.1,196.4 911.7,183.7 912.2,177.2 912.8,174 913.3,172.5 913.8,171.6 914.4,171 914.9,170.5 915.5,170.2 916,169.9 916.5,169.6 917.1,169.4 917.6,169.3 918.2,169.1 918.7,169 919.2,168.9 919.8,168.8 920.3,168.7 920.9,168.6 921.4,168.5 921.9,167.7 1022.9,167.7 1023.5,168.4 1024,168.5 1024.5,168.5 1025.1,168.6 1025.6,168.7 1026.2,168.8 1026.7,168.9 1027.2,169 1027.8,169.2 1028.3,169.4 1028.9,169.6 1029.4,169.8 1029.9,170.1 1030.5,170.5 1031,171 1031.6,171.8 1032.1,173.1 1032.6,175.8 1033.2,181.4 1033.7,193 1034.3,212.1 1034.8,241.3 1035.3,278.9 1035.9,318.4 1036.4,349.3 1037,361.1 1037.5,349.5 1038,318.9 1038.6,279.6 1039.1,242.2 1039.7,213.4 1040.2,194.6 1040.7,184.1 1041.3,179 1041.8,177 1042.4,177 1042.9,178.8 1043.4,183.6 1044,193.7 1044.5,211.7 1045.1,239.3 1045.6,275.1 1046.1,312.7 1046.7,342.1 1047.2,353.2 1047.8,341.8 1048.3,312.2 1048.8,274.3 1049.4,238.3 1049.9,210.3 1050.5,192 1051,180.8 1051.5,175.5 1052.1,172.9 1052.6,171.6 1053.2,170.9 1053.7,170.4 1054.2,170 1054.8,169.7 1055.3,169.5 1055.9,169.3 1056.4,169.1 1056.9,169 1057.5,168.9 1058,168.8 1058.6,168.7 1059.1,168.6 1059.6,168.5 1060.2,168.4 1060.7,168.4 1061.3,167.7 1154.1,167.7 1154.7,168.1 1155.2,168.1 1155.8,168.2 1156.3,168.2 1156.8,168.3 1157.4,168.4 1157.9,168.5 1158.5,168.7 1159,168.9 1159.5,169.1 1160.1,169.4 1160.6,169.7 1161.2,170.1 1161.7,170.7 1162.2,171.9 1162.8,173 1163.3,174.7 1163.9,177.3 1164.4,181.5 1164.9,187.6 1165.5,196 1166,206.6 1166.6,218.3 1167.1,229.3 1167.6,237.6 1168.2,241.3 1168.7,239.7 1169.3,233.5 1169.8,224.6 1170.3,216.3 1170.9,208.7 1171.4,204.1 1172,203.6 1172.5,207.5 1173,215.6 1173.6,227.3 1174.1,240.9 1174.7,253.7 1175.2,262.8 1175.7,265.7 1176.3,261.5 1176.8,251.2 1177.4,237.2 1177.9,222.5 1178.4,209.7 1179,200.6 1179.5,196.6 1180.1,199.6 1180.6,212.4 1181.1,238.8 1181.7,280.8 1182.2,335.5 1182.8,393.7 1183.3,439.1 1183.8,456.1 1184.4,438.3 1184.9,392.2 1185.5,333.2 1186,277.1 1186.5,233.6 1187.1,205.1 1187.6,188.8 1188.2,180.4 1188.7,176.3 1189.2,174.2 1189.8,172.7 1190.3,171.9 1190.9,171.3 1191.4,170.9 1191.9,170.5 1192.5,170.2 1193,169.9 1193.6,169.7 1194.1,169.5 1194.6,169.3 1195.2,169.2 1195.7,169.1 1196.3,168.9 1196.8,168.8 1197.3,168.8 1197.9,167.7 1304.8,167.7 1305.3,168.6 1305.9,168.6 1306.4,168.7 1307,168.8 1307.5,168.9 1308,169 1308.6,169.1 1309.1,169.3 1309.7,169.5 1310.2,169.7 1310.7,169.9 1311.3,170.2 1311.8,170.6 1312.4,171.1 1312.9,171.7 1313.4,172.6 1314,174.2 1314.5,177.4 1315.1,184.1 1315.6,197.2 1316.1,220 1316.7,254.8 1317.2,299.8 1317.8,347.1 1318.3,384 1318.8,398 1319.4,384 1319.9,347.1 1320.5,299.8 1321,254.8 1321.5,220 1322.1,197.2 1322.6,184.1 1323.2,177.4 1323.7,174.2 1324.2,172.6 1324.8,171.7 1325.3,171.1 1325.9,170.6 1326.4,170.2 1326.9,169.9 1327.5,169.7 1328,169.5 1328.6,169.3 1329.1,169.1 1329.6,169 1330.2,168.9 1330.7,168.8 1331.3,168.7 1331.8,168.6 1332.3,168.6 1332.9,167.7 1433.9,167.7 1434.4,167.8 1434.9,167.8 1435.5,167.8 1436,167.9 1436.6,167.9 1437.1,167.9 1437.6,167.9 1438.2,167.9 1438.7,168 1439.3,168 1439.8,168 1440.3,168.1 1440.9,168.1 1441.4,168.2 1442,168.3 1442.5,168.4 1443,168.6 1443.6,169.1 1444.1,170 1444.7,172.3 1445.2,175.5 1445.7,180.5 1446.3,186.8 1446.8,193.5 1447.4,198.7 1447.9,200.8 1448.4,198.9 1449,193.8 1449.5,187.3 1450.1,181.1 1450.6,176.4 1451.1,173.4 1451.7,171.8 1452.2,171.2 1452.8,171.2 1453.3,171.8 1453.8,173.4 1454.4,176.8 1454.9,183.6 1455.5,195.6 1456,213.9 1456.5,237.6 1457.1,262.4 1457.6,281.8 1458.2,289.2 1458.7,281.8 1459.2,262.3 1459.8,237.4 1460.3,213.7 1460.9,195.4 1461.4,183.3 1461.9,176.4 1462.5,172.8 1463,171.1 1463.6,170.3 1464.1,169.8 1464.6,169.5 1465.2,169.2 1465.7,169 1466.3,168.9 1466.8,168.8 1467.3,168.6 1467.9,168.5 1468.4,168.5 1469,168.4 1469.5,168.3 1470,168.3 1470.6,168.2 1471.1,168.2 1471.7,168.2 1472.2,167.7 1599.6,167.7 1600.2,167.8 1600.7,168.1 1601.3,168.4 1601.8,168.7 1602.3,169 1602.9,169.2 1603.4,169.5 1604,169.8 1604.5,170.1 1605,170.4 1605.6,170.7 1606.1,171 1606.7,171.3 1607.2,171.6 1607.7,171.8 1608.3,172.1 1608.8,172.4 1609.4,172.7 1609.9,173 1610.4,173.3 1611,173.6 1611.5,173.9 1612.1,174.1 1612.6,174.4 1613.1,174.7 1613.7,175 1614.2,175.3 1614.8,175.6 1615.3,176 1615.8,176.5 1616.4,177 1616.9,177.5 1617.5,178 1618,178.5 1618.5,179 1619.1,179.5 1619.6,180.1 1620.2,180.7 1620.7,181.2 1621.2,181.7 1621.8,182.2 1622.3,182.7 1622.9,183.3 1623.4,183.8 1623.9,184.3 1624.5,184.8 1625,185.4 1625.6,185.9 1626.1,186.5 1626.6,187.1 1627.2,187.7 1627.7,188.3 1628.3,188.9 1628.8,189.7 1629.3,190.9 1629.9,192.9 1630.4,196.3 1631,202.4 1631.5,211.4 1632,222.1 1632.6,231.2 1633.1,235 1633.7,231.7 1634.2,223 1634.7,212.7 1635.3,204.1 1635.8,198.5 1636.4,195.5 1636.9,194.3 1637.4,193.8 1638,193.8 1638.5,193.8 1639.1,193.9 1639.6,194 1640.1,194.2 1640.7,194.4 1641.2,194.5 1641.8,194.7 1642.3,194.9 1642.8,195.1 1643.4,195.3 1643.9,195.6 1644.5,196.1 1645,197.5 1645.5,201 1646.1,208.6 1646.6,221.7 1647.2,238.6 1647.7,253.8 1648.2,260 1648.8,253.8 1649.3,238.7 1649.9,221.7 1650.4,208.7 1650.9,201.3 1651.5,198.6 1652,200 1652.6,206.8 1653.1,222.6 1653.6,249.9 1654.2,285.4 1654.7,317.1 1655.3,330 1655.8,317.1 1656.3,285.5 1656.9,250 1657.4,222.8 1658,207 1658.5,200.1 1659,198.4 1659.6,200.8 1660.1,209.4 1660.7,228.8 1661.2,262.2 1661.7,305.5 1662.3,344.2 1662.8,360 1663.4,344.3 1663.9,305.6 1664.4,262.3 1665,229 1665.5,209.6 1666.1,200.9 1666.6,197.8 1667.1,197 1667.7,196.8 1668.2,197 1668.8,197.8 1669.3,200.7 1669.8,208.9 1670.4,228.1 1670.9,264.8 1671.5,321.1 1672,388.1 1672.5,444.7 1673.1,467 1673.6,444.7 1674.2,388.2 1674.7,321.3 1675.2,265 1675.8,228.3 1676.3,209.2 1676.9,201.1 1677.4,198.2 1677.9,197.4 1678.5,197.3 1679,197.3 1679.6,197.7 1680.1,199.2 1680.6,204.4 1681.2,219 1681.7,251.3 1682.3,306.9 1682.8,379.2 1683.3,443.7 1683.9,470 1684.4,443.8 1685,379.3 1685.5,307.1 1686,251.5 1686.6,219.2 1687.1,204.7 1687.7,199.5 1688.2,198 1688.7,197.7 1689.3,197.7 1689.8,197.7 1690.4,200.1 1690.9,203.7 1691.4,207.4 1692,211.2 1692.5,216 1693.1,223.4 1693.6,238 1694.1,267.3 1694.7,320.1 1695.2,399.4 1695.8,493 1696.3,571.8 1696.8,604 1697.4,576.3 1697.9,502.6 1698.5,414.9 1699,341.4 1699.5,294.4 1700.1,271 1700.6,262.3 1701.2,260.9 1701.7,262.8 1702.2,266.5 1702.8,274.2 1703.3,292.5 1703.9,327.4 1704.4,381.1 1704.9,444.9 1705.5,498.7 1706,520 1706.6,498.7 1707.1,444.9 1707.6,381.1 1708.2,327.4 1708.7,292.5 1709.3,274.2 1709.8,266.5 1710.3,264.1 1710.9,264.3 1711.4,267.8 1712,278.2 1712.5,302.7 1713,349.5 1713.6,421.6 1714.1,507.2 1714.7,579.5 1715.2,608 1715.7,579.5 1716.3,507.2 1716.8,421.6 1717.4,349.5 1717.9,302.7 1718.4,278.2 1719,267.7 1719.5,264.1 1720.1,263 1720.6,262.8 1721.1,262.7 1721.7,262.8 1722.2,262.3 1722.8,261.6 1723.3,263.2 1723.8,270.7 1724.4,290.5 1724.9,330 1725.5,391.4 1726,464.8 1726.5,526.4 1727.1,549 1727.6,517.3 1728.2,447.3 1728.7,365.5 1729.2,295.7 1729.8,247.9 1730.3,219.8 1730.9,203.9 1731.4,194.9 1731.9,188.6 1732.5,183 1733,177.5 1733.6,172.1 1734.1,167.8 1734.6,167.8 1735.2,167.8 1735.7,167.8 1736.3,167.8 1736.8,167.8 1737.3,167.8 1737.9,167.9 1738.4,167.9 1739,167.9 1739.5,168 1740,168 1740.6,168 1741.1,168.1 1741.7,168.2 1742.2,168.2 1742.7,168.3 1743.3,168.4 1743.8,168.5 1744.4,168.6 1744.9,168.8 1745.4,168.9 1746,169.1 1746.5,169.2 1747.1,169.4 1747.6,169.6 1748.1,169.8 1748.7,170.1 1749.2,170.3 1749.8,170.6 1750.3,170.8 1750.8,171.1 1751.4,171.5 1751.9,171.8 1752.5,172.1 1753,172.4 1753.5,172.8 1754.1,173.2 1754.6,173.5 1755.2,173.9 1755.7,174.2 1756.2,174.6 1756.8,175 1757.3,175.3 1757.9,175.6 1758.4,176 1758.9,176.2 1759.5,176.5 1760,176.8 1760.6,177 1761.1,177.2 1761.6,177.4 1762.2,177.5 1762.7,177.6 1763.3,177.7 1763.8,177.7 1764.3,177.7 1764.9,177.7 1765.4,177.6 1766,177.5 1766.5,177.3 1767,177.2 1767.6,176.9 1768.1,176.7 1768.7,176.5 1769.2,176.2 1769.7,175.9 1770.3,175.5 1770.8,175.2 1771.4,174.9 1771.9,174.5 1772.4,174.2 1773,173.8 1773.5,173.4 1774.1,173.1 1774.6,172.7 1775.1,172.4 1775.7,172 1776.2,171.7 1776.8,171.4 1777.3,171.1 1777.8,170.8 1778.4,170.5 1778.9,170.2 1779.5,170 1780,169.8 1780.5,169.6 1781.1,169.4 1781.6,169.2 1782.2,169 1782.7,168.9 1783.2,168.7 1783.8,168.6 1784.3,168.5 1784.9,168.4 1785.4,168.3 1785.9,168.2 1786.5,168.2 1787,168.1 1787.6,168 1788.1,168 1788.6,167.9 1789.2,167.9 1789.7,167.9 1790.3,167.9 1790.8,167.8 1791.3,167.8 1791.9,167.8 1792.4,167.8 1793,167.8 1793.5,167.8 1850.7,167.7 1851.3,168.3 1851.8,168.3 1852.4,168.3 1852.9,168.4 1853.4,168.5 1854,168.5 1854.5,168.6 1855.1,168.7 1855.6,168.9 1856.1,169 1856.7,169.2 1857.2,169.3 1857.8,169.6 1858.3,169.9 1858.8,170.3 1859.4,170.8 1859.9,171.6 1860.5,173.3 1861,176.9 1861.5,184.5 1862.1,199.2 1862.6,223.5 1863.2,257.3 1863.7,294.8 1864.2,325.2 1864.8,337 1865.3,325.2 1865.9,294.8 1866.4,257.3 1866.9,223.5 1867.5,199.2 1868,184.5 1868.6,176.9 1869.1,173.3 1869.6,171.6 1870.2,170.8 1870.7,170.3 1871.3,169.9 1871.8,169.6 1872.3,169.3 1872.9,169.2 1873.4,169 1874,168.9 1874.5,168.7 1875,168.6 1875.6,168.5 1876.1,168.5 1876.7,168.4 1877.2,168.3 1877.7,168.3 1878.3,168.3 1878.8,167.7 1983,167.7 1983.6,168.2 1984.1,168.2 1984.7,168.3 1985.2,168.3 1985.7,168.4 1986.3,168.5 1986.8,168.6 1987.4,168.6 1987.9,168.8 1988.4,168.9 1989,169 1989.5,169.2 1990.1,169.4 1990.6,169.7 1991.1,170 1991.7,170.5 1992.2,171.3 1992.8,172.8 1993.3,176.1 1993.8,183 1994.4,196.4 1994.9,218.6 1995.5,249.4 1996,283.6 1996.5,311.2 1997.1,322 1997.6,311.2 1998.2,283.6 1998.7,249.4 1999.2,218.6 1999.8,196.4 2000.3,183 2000.9,176.1 2001.4,172.8 2001.9,171.3 2002.5,170.5 2003,170 2003.6,169.7 2004.1,169.4 2004.6,169.2 2005.2,169 2005.7,168.9 2006.3,168.8 2006.8,168.6 2007.3,168.6 2007.9,168.5 2008.4,168.4 2009,168.3 2009.5,168.3 2010,168.2 2010.6,168.2 2011.1,167.7 2115.9,167.7 2116.4,168.8 2117,168.8 2117.5,168.9 2118,169 2118.6,169.2 2119.1,169.3 2119.7,169.5 2120.2,169.7 2120.7,169.9 2121.3,170.1 2121.8,170.5 2122.4,170.8 2122.9,171.3 2123.4,171.8 2124,172.6 2124.5,173.7 2125.1,175.7 2125.6,179.7 2126.1,187.9 2126.7,203.9 2127.2,232 2127.8,274.9 2128.3,330.2 2128.8,388.4 2129.4,433.7 2129.9,451 2130.5,433.7 2131,388.4 2131.5,330.2 2132.1,274.9 2132.6,232 2133.2,203.9 2133.7,187.9 2134.2,179.7 2134.8,175.7 2135.3,173.7 2135.9,172.6 2136.4,171.8 2136.9,171.3 2137.5,170.8 2138,170.5 2138.6,170.1 2139.1,169.9 2139.6,169.7 2140.2,169.5 2140.7,169.3 2141.3,169.2 2141.8,169 2142.3,168.9 2142.9,168.8 2143.4,168.8 2144,167.7 2155.3,167.7"/>
</g>
<path fill="none" stroke="#000" stroke-width="12.6" stroke-linecap="round" d="M308.5 146.4h0M309 163.6h0M309.6 165.3h0M310.1 173.8h0M310.7 162.9h0M311.2 166.7h0M311.7 177.5h0M312.3 141.9h0M312.8 174.7h0M313.4 166.3h0M313.9 154.1h0M314.4 166.9h0M315 166h0M315.5 171.6h0M316.1 155.8h0M316.6 166.7h0M317.1 201.2h0M317.7 165.9h0M318.2 195.3h0M318.8 201.1h0M319.3 236.4h0M319.8 224.3h0M320.4 234.1h0M320.9 234h0M321.5 213.6h0M322 226.7h0M322.5 231.1h0M323.1 220.8h0M323.6 204.6h0M324.2 206.1h0M324.7 221.5h0M325.2 224.9h0M325.8 244.3h0M326.3 254.2h0M326.9 239.8h0M327.4 243.4h0M327.9 240.6h0M328.5 218.8h0M329 215.5h0M329.6 197.9h0M330.1 194.4h0M330.6 195.1h0M331.2 220.3h0M331.7 206.3h0M332.3 201.5h0M332.8 237h0M333.3 213.1h0M333.9 206.4h0M334.4 201.1h0M335 170.8h0M335.5 169.8h0M336 187h0M336.6 170.9h0M337.1 156.2h0M337.7 184.8h0M338.2 160.8h0M338.7 176.7h0M339.3 156.9h0M339.8 153.5h0M340.4 178h0M340.9 164.2h0M341.4 178.5h0M342 171.8h0M342.5 199.2h0M343.1 218.9h0M343.6 220.1h0M344.1 252.5h0M344.7 269.8h0M345.2 302.5h0M345.8 285.2h0M346.3 249.7h0M346.8 251.2h0M347.4 218.5h0M347.9 179h0M348.5 147.2h0M349 164.5h0M349.5 164.3h0M350.1 174h0M350.6 144.9h0M351.2 140.6h0M351.7 163.3h0M352.2 155.7h0M352.8 162.2h0M353.3 161.2h0M353.9 168.2h0M354.4 182.8h0M354.9 171.7h0M355.5 171.1h0M356 151.8h0M356.6 164h0M357.1 177.1h0M357.6 151.4h0M358.2 167h0M358.7 160.5h0M359.3 158.2h0M359.8 169.1h0M360.3 171h0M360.9 160.5h0M361.4 188.5h0M362 179.1h0M362.5 147.6h0M363 176.8h0M363.6 163.9h0M364.1 139.6h0M364.7 171.8h0M365.2 162.1h0M365.7 166.6h0M366.3 181.7h0M366.8 172.8h0M367.4 158.5h0M367.9 152.5h0M368.4 157.3h0M369 185.9h0M369.5 169.8h0M370.1 172.6h0M370.6 162.1h0M371.1 151.4h0M371.7 168.3h0M372.2 161.6h0M372.8 157.8h0M373.3 149.6h0M373.8 145.6h0M374.4 158.6h0M374.9 165.5h0M375.5 183.8h0M376 157.3h0M376.5 193h0M377.1 157.6h0M377.6 181.7h0M378.2 165.4h0M378.7 173.3h0M379.2 154.3h0M379.8 156.7h0M380.3 175.7h0M380.9 145.8h0M381.4 135.2h0M381.9 156.3h0M382.5 167.9h0M383 162.9h0M383.6 168.2h0M384.1 148.2h0M384.6 176.4h0M385.2 151.4h0M385.7 164.7h0M386.3 158.1h0M386.8 196.4h0M387.3 155.7h0M387.9 162.9h0M388.4 150.4h0M389 159h0M389.5 176.9h0M390 161.4h0M390.6 153h0M391.1 171h0M391.7 164.1h0M392.2 155.8h0M392.7 187.1h0M393.3 175.6h0M393.8 149.4h0M394.4 180.1h0M394.9 181.8h0M395.4 174h0M396 140.5h0M396.5 174h0M397.1 161.1h0M397.6 171h0M398.1 182.4h0M398.7 152.5h0M399.2 167.6h0M399.8 169.4h0M400.3 165.9h0M400.8 162.6h0M401.4 167.7h0M401.9 163h0M402.5 165.3h0M403 162.3h0M403.5 152.1h0M404.1 165.8h0M404.6 146.3h0M405.2 158.9h0M405.7 157.3h0M406.2 178.5h0M406.8 141.3h0M407.3 160.3h0M407.9 178.7h0M408.4 151.2h0M408.9 141.4h0M409.5 146.1h0M410 146.5h0M410.6 169.8h0M411.1 175.4h0M411.6 163.8h0M412.2 148.7h0M412.7 164.9h0M413.3 161.3h0M413.8 158.9h0M414.3 142.8h0M414.9 148.7h0M415.4 155.2h0M416 143.9h0M416.5 179.1h0M417 153.9h0M417.6 171.2h0M418.1 156.6h0M418.7 137.5h0M419.2 153.8h0M419.7 184.7h0M420.3 179.1h0M420.8 145.9h0M421.4 168.5h0M421.9 162.9h0M422.4 149.7h0M423 177.4h0M423.5 178.8h0M424.1 149h0M424.6 167h0M425.1 184.2h0M425.7 166h0M426.2 163.8h0M426.8 177.3h0M427.3 171.7h0M427.8 157.5h0M428.4 184h0M428.9 150.1h0M429.5 160.4h0M430 169.3h0M430.5 175.7h0M431.1 168.2h0M431.6 176.5h0M432.2 182.8h0M432.7 158.7h0M433.2 180.2h0M433.8 156.7h0M434.3 155.3h0M434.9 154.9h0M435.4 184.7h0M435.9 164h0M436.5 186.8h0M437 166.1h0M437.6 176h0M438.1 155.4h0M438.6 154.2h0M439.2 151.4h0M439.7 147h0M440.3 152.4h0M440.8 146.4h0M441.3 156h0M441.9 184.4h0M442.4 161.3h0M443 170.2h0M443.5 185.1h0M444 169.9h0M444.6 160.9h0M445.1 156.3h0M445.7 166.4h0M446.2 175.2h0M446.7 153.3h0M447.3 157.5h0M447.8 170.9h0M448.4 156.4h0M448.9 153.8h0M449.4 159.4h0M450 171.6h0M450.5 161.6h0M451.1 163.9h0M451.6 148.9h0M452.1 176.4h0M452.7 153.7h0M453.2 167.1h0M453.8 154.1h0M454.3 148h0M454.8 186.1h0M455.4 154.8h0M455.9 154.7h0M456.5 164h0M457 159.7h0M457.5 153.4h0M458.1 176.5h0M458.6 158.5h0M459.2 172.9h0M459.7 162.9h0M460.2 162.2h0M460.8 170.9h0M461.3 164.9h0M461.9 157.4h0M462.4 161.6h0M462.9 159.3h0M463.5 156.2h0M464 184.3h0M464.6 185.9h0M465.1 188.3h0M465.6 165.5h0M466.2 192.8h0M466.7 197.2h0M467.3 256.6h0M467.8 266.6h0M468.3 292.5h0M468.9 296.4h0M469.4 301.9h0M470 273.7h0M470.5 222.6h0M471 213.8h0M471.6 199.2h0M472.1 189.7h0M472.7 185.5h0M473.2 175h0M473.7 162.4h0M474.3 168.9h0M474.8 181.6h0M475.4 206.7h0M475.9 209.3h0M476.4 204.3h0M477 235.1h0M477.5 237.4h0M478.1 274.4h0M478.6 261h0M479.1 249.9h0M479.7 229.4h0M480.2 203.1h0M480.8 178.7h0M481.3 190.1h0M481.8 166.3h0M482.4 156.6h0M482.9 166.5h0M483.5 186.3h0M484 213.7h0M484.5 218.6h0M485.1 273.9h0M485.6 265.2h0M486.2 272.2h0M486.7 272.8h0M487.2 248.4h0M487.8 239.6h0M488.3 206.3h0M488.9 200.6h0M489.4 185.5h0M489.9 145.2h0M490.5 180.7h0M491 171.1h0M491.6 153.2h0M492.1 171.8h0M492.6 162h0M493.2 143.5h0M493.7 163.6h0M494.3 177.6h0M494.8 183.2h0M495.3 176h0M495.9 149.2h0M496.4 162.8h0M497 163.7h0M497.5 160.9h0M498 173.1h0M498.6 161.2h0M499.1 168.6h0M499.7 172.4h0M500.2 158.8h0M500.7 163.8h0M501.3 175.6h0M501.8 162.7h0M502.4 160.3h0M502.9 170.4h0M503.4 146.9h0M504 164.4h0M504.5 160.3h0M505.1 188.9h0M505.6 153.8h0M506.1 177.8h0M506.7 172h0M507.2 167.7h0M507.8 164.2h0M508.3 167.2h0M508.8 177.9h0M509.4 161.6h0M509.9 169.1h0M510.5 153.9h0M511 151.2h0M511.5 158h0M512.1 170.6h0M512.6 174.8h0M513.2 171.4h0M513.7 169.6h0M514.2 170h0M514.8 166.1h0M515.3 178.7h0M515.9 150.5h0M516.4 152.2h0M516.9 154.9h0M517.5 167.2h0M518 160.1h0M518.6 181.2h0M519.1 173h0M519.6 169.9h0M520.2 180.6h0M520.7 184.5h0M521.3 162.7h0M521.8 157.6h0M522.3 158.9h0M522.9 158.9h0M523.4 173.4h0M524 182.2h0M524.5 153.7h0M525 146.4h0M525.6 182.3h0M526.1 156.8h0M526.7 160.9h0M527.2 186.1h0M527.7 172.6h0M528.3 160.7h0M528.8 165.1h0M529.4 178.4h0M529.9 151.8h0M530.4 160.3h0M531 153h0M531.5 165.3h0M532.1 165.5h0M532.6 180.5h0M533.1 147.5h0M533.7 165.8h0M534.2 156.2h0M534.8 191.4h0M535.3 156h0M535.8 174.3h0M536.4 175.7h0M536.9 161.7h0M537.5 170.3h0M538 152.6h0M538.5 167.5h0M539.1 160.3h0M539.6 169.3h0M540.2 163.1h0M540.7 163.1h0M541.2 185h0M541.8 161.5h0M542.3 160.6h0M542.9 166.1h0M543.4 178.9h0M543.9 160.2h0M544.5 168.2h0M545 174.1h0M545.6 183.4h0M546.1 184.4h0M546.6 181.5h0M547.2 187.7h0M547.7 203.8h0M548.3 192h0M548.8 192.6h0M549.3 181.8h0M549.9 186h0M550.4 175.9h0M551 160.6h0M551.5 158.8h0M552 157.7h0M552.6 171.1h0M553.1 178.7h0M553.7 157.1h0M554.2 157.3h0M554.7 157.6h0M555.3 166.5h0M555.8 162.5h0M556.4 181.4h0M556.9 167.8h0M557.4 177.3h0M558 173.8h0M558.5 168.2h0M559.1 159.2h0M559.6 235h0M560.1 177.9h0M560.7 172.6h0M561.2 183.5h0M561.8 167.5h0M562.3 180.2h0M562.8 190h0M563.4 194.8h0M563.9 196.3h0M564.5 208.4h0M565 206.9h0M565.5 216.3h0M566.1 217.1h0M566.6 162.7h0M567.2 176h0M567.7 185.7h0M568.2 158.8h0M568.8 167.6h0M569.3 162.5h0M569.9 129.5h0M570.4 178.1h0M570.9 169.3h0M571.5 178.5h0M572 168.3h0M572.6 155.5h0M573.1 152.6h0M573.6 176.1h0M574.2 189.3h0M574.7 163.8h0M575.3 164h0M575.8 189.9h0M576.3 154.6h0M576.9 173.7h0M577.4 158.5h0M578 178.9h0M578.5 174.7h0M579 181.1h0M579.6 170.4h0M580.1 154.6h0M580.7 142.4h0M581.2 168.1h0M581.7 187.8h0M582.3 181.4h0M582.8 172.6h0M583.4 177.8h0M583.9 189.6h0M584.4 180.7h0M585 207.2h0M585.5 209.8h0M586.1 217h0M586.6 190.9h0M587.1 184.4h0M587.7 184.1h0M588.2 184.1h0M588.8 188.4h0M589.3 182h0M589.8 179.5h0M590.4 169.4h0M590.9 180h0M591.5 163.1h0M592 164.2h0M592.5 159.2h0M593.1 166.5h0M593.6 173.2h0M594.2 170h0M594.7 168.7h0M595.2 167.1h0M595.8 165.4h0M596.3 177.9h0M596.9 178.5h0M597.4 154.1h0M597.9 180.8h0M598.5 163.9h0M599 170.7h0M599.6 190.6h0M600.1 174.4h0M600.6 160.5h0M601.2 163.4h0M601.7 169h0M602.3 188.4h0M602.8 188h0M603.3 197.8h0M603.9 214.5h0M604.4 235.3h0M605 254.1h0M605.5 257.8h0M606 269h0M606.6 251.7h0M607.1 249.3h0M607.7 238.9h0M608.2 230.2h0M608.7 212.4h0M609.3 177.2h0M609.8 187.7h0M610.4 189.1h0M610.9 222.2h0M611.4 249h0M612 257.2h0M612.5 280.8h0M613.1 293.2h0M613.6 288.9h0M614.1 255.9h0M614.7 217.8h0M615.2 213.9h0M615.8 222.8h0M616.3 198.5h0M616.8 174.2h0M617.4 174.9h0M617.9 180.8h0M618.5 152.4h0M619 176.8h0M619.5 173.4h0M620.1 161.8h0M620.6 153.7h0M621.2 168.7h0M621.7 158.3h0M622.2 152h0M622.8 161.9h0M623.3 177.7h0M623.9 195.4h0M624.4 226.1h0M624.9 246.8h0M625.5 277.5h0M626 319h0M626.6 363.8h0M627.1 385.3h0M627.6 377.5h0M628.2 338.6h0M628.7 264h0M629.3 226.4h0M629.8 195.3h0M630.3 177.7h0M630.9 186.1h0M631.4 166h0M632 173.2h0M632.5 179.2h0M633 156.2h0M633.6 169.4h0M634.1 156.6h0M634.7 185.1h0M635.2 161.1h0M635.7 166.1h0M636.3 172.9h0M636.8 187.9h0M637.4 156.3h0M637.9 156.6h0M638.4 160.4h0M639 170.3h0M639.5 153h0M640.1 169.4h0M640.6 187.8h0M641.1 170.3h0M641.7 157.6h0M642.2 162.7h0M642.8 139.7h0M643.3 164.4h0M643.8 173h0M644.4 158.5h0M644.9 161h0M645.5 174.2h0M646 163.4h0M646.5 163.5h0M647.1 139.2h0M647.6 165.4h0M648.2 166.3h0M648.7 165.6h0M649.2 150.3h0M649.8 171.4h0M650.3 156.5h0M650.9 163h0M651.4 166.7h0M651.9 163.6h0M652.5 163.7h0M653 162.3h0M653.6 180.4h0M654.1 175.1h0M654.6 159.9h0M655.2 162.6h0M655.7 168.2h0M656.3 153.7h0M656.8 159.1h0M657.3 157h0M657.9 156.1h0M658.4 176.9h0M659 159.8h0M659.5 148.3h0M660 173.5h0M660.6 152.4h0M661.1 151.6h0M661.7 166.6h0M662.2 165.3h0M662.7 159h0M663.3 175.4h0M663.8 162.5h0M664.4 161.4h0M664.9 154.1h0M665.4 171.9h0M666 153.7h0M666.5 145.3h0M667.1 145.7h0M667.6 154.7h0M668.1 154.6h0M668.7 156.5h0M669.2 147.7h0M669.8 163.4h0M670.3 171.2h0M670.8 162.4h0M671.4 153.9h0M671.9 171.8h0M672.5 180h0M673 171.4h0M673.5 176.7h0M674.1 175.5h0M674.6 165h0M675.2 167.6h0M675.7 149.1h0M676.2 165.5h0M676.8 159.9h0M677.3 171.5h0M677.9 172.1h0M678.4 172.4h0M678.9 164h0M679.5 173.2h0M680 178.4h0M680.6 160.1h0M681.1 156.1h0M681.6 163.7h0M682.2 167.9h0M682.7 180.2h0M683.3 165.7h0M683.8 137h0M684.3 164.7h0M684.9 172.3h0M685.4 155.7h0M686 149.4h0M686.5 168.4h0M687 168.5h0M687.6 151.4h0M688.1 161.3h0M688.7 160.8h0M689.2 162.9h0M689.7 141.4h0M690.3 147.7h0M690.8 169.8h0M691.4 153.6h0M691.9 175.4h0M692.4 155.9h0M693 155.4h0M693.5 164.4h0M694.1 160.4h0M694.6 174.9h0M695.1 179.6h0M695.7 153h0M696.2 173.6h0M696.8 178.9h0M697.3 167h0M697.8 173.7h0M698.4 180.4h0M698.9 151.7h0M699.5 161.3h0M700 158.1h0M700.5 150h0M701.1 160.7h0M701.6 184.2h0M702.2 171h0M702.7 167.9h0M703.2 181.8h0M703.8 167.4h0M704.3 177.9h0M704.9 160.4h0M705.4 170.1h0M705.9 165.4h0M706.5 167.4h0M707 167.5h0M707.6 165.7h0M708.1 169.3h0M708.6 165.5h0M709.2 176.2h0M709.7 170.7h0M710.3 147.4h0M710.8 151h0M711.3 159.1h0M711.9 168.6h0M712.4 160.9h0M713 148.8h0M713.5 160h0M714 164.8h0M714.6 168.4h0M715.1 166.8h0M715.7 163.4h0M716.2 163.3h0M716.7 172h0M717.3 171h0M717.8 156.5h0M718.4 165.9h0M718.9 169.3h0M719.4 171.1h0M720 175.9h0M720.5 179.2h0M721.1 169h0M721.6 156.7h0M722.1 170.2h0M722.7 164.1h0M723.2 160.1h0M723.8 159.2h0M724.3 169.9h0M724.8 175.9h0M725.4 144h0M725.9 180.7h0M726.5 166.6h0M727 170.2h0M727.5 168h0M728.1 157.7h0M728.6 159.4h0M729.2 165.1h0M729.7 161.3h0M730.2 167.2h0M730.8 179.5h0M731.3 159.2h0M731.9 159.2h0M732.4 182.5h0M732.9 159.8h0M733.5 172.4h0M734 173h0M734.6 161.9h0M735.1 176.3h0M735.6 148.3h0M736.2 170h0M736.7 192.1h0M737.3 160.4h0M737.8 164.9h0M738.3 179.7h0M738.9 162.9h0M739.4 182.7h0M740 182.2h0M740.5 164h0M741 172.7h0M741.6 170.7h0M742.1 180.4h0M742.7 177.7h0M743.2 200.6h0M743.7 194.7h0M744.3 233.9h0M744.8 217.5h0M745.4 219.7h0M745.9 226.6h0M746.4 203.6h0M747 191.2h0M747.5 184.7h0M748.1 187h0M748.6 160.9h0M749.1 180.6h0M749.7 173h0M750.2 184.6h0M750.8 191.4h0M751.3 204.9h0M751.8 227.3h0M752.4 265.4h0M752.9 317.4h0M753.5 313.4h0M754 345.8h0M754.5 337.6h0M755.1 295.8h0M755.6 249.2h0M756.2 242.7h0M756.7 215.1h0M757.2 190.5h0M757.8 178.8h0M758.3 179.8h0M758.9 177h0M759.4 170.6h0M759.9 179.3h0M760.5 179.2h0M761 174.9h0M761.6 184.9h0M762.1 172.6h0M762.6 174.7h0M763.2 172.1h0M763.7 179.1h0M764.3 194.2h0M764.8 207.5h0M765.3 205.7h0M765.9 239.8h0M766.4 272.5h0M767 322.1h0M767.5 346.9h0M768 358.1h0M768.6 356.8h0M769.1 322h0M769.7 277.7h0M770.2 247h0M770.7 205.8h0M771.3 206.5h0M771.8 177.3h0M772.4 182.1h0M772.9 188.2h0M773.4 142.3h0M774 169.8h0M774.5 185.1h0M775.1 161.6h0M775.6 173h0M776.1 148.8h0M776.7 180h0M777.2 178.3h0M777.8 175.6h0M778.3 173.6h0M778.8 173.7h0M779.4 156.2h0M779.9 160.5h0M780.5 165.7h0M781 180.4h0M781.5 155.9h0M782.1 140.3h0M782.6 162.4h0M783.2 167.3h0M783.7 174h0M784.2 163.8h0M784.8 168.1h0M785.3 152.1h0M785.9 163.3h0M786.4 158.1h0M786.9 169.9h0M787.5 164.2h0M788 182.4h0M788.6 158h0M789.1 161.3h0M789.6 190.7h0M790.2 181h0M790.7 150.9h0M791.3 158.8h0M791.8 169.5h0M792.3 161.9h0M792.9 163.9h0M793.4 165.2h0M794 174h0M794.5 160.1h0M795 151.4h0M795.6 150.2h0M796.1 171.3h0M796.7 164.4h0M797.2 170.7h0M797.7 175.8h0M798.3 158.6h0M798.8 170.5h0M799.4 159.3h0M799.9 171.2h0M800.4 150.1h0M801 162.1h0M801.5 171.3h0M802.1 170.1h0M802.6 153h0M803.1 165.8h0M803.7 165.7h0M804.2 169.1h0M804.8 178.1h0M805.3 157.3h0M805.8 170.9h0M806.4 169.2h0M806.9 161.3h0M807.5 162.1h0M808 160.4h0M808.5 165.1h0M809.1 190.1h0M809.6 149.7h0M810.2 178.5h0M810.7 157.8h0M811.2 176h0M811.8 174.6h0M812.3 153.8h0M812.9 165.2h0M813.4 167.4h0M813.9 167.8h0M814.5 155.3h0M815 140.2h0M815.6 174.1h0M816.1 178.7h0M816.6 166.7h0M817.2 193h0M817.7 164.4h0M818.3 164.9h0M818.8 176.5h0M819.3 180.6h0M819.9 165.5h0M820.4 163.3h0M821 187.4h0M821.5 161.9h0M822 156.2h0M822.6 163.7h0M823.1 161.1h0M823.7 159.8h0M824.2 168.1h0M824.7 143.9h0M825.3 168h0M825.8 159.1h0M826.4 168.5h0M826.9 152.8h0M827.4 143.6h0M828 174.6h0M828.5 176.1h0M829.1 172.2h0M829.6 175.3h0M830.1 172h0M830.7 159.7h0M831.2 171.6h0M831.8 178.2h0M832.3 164.7h0M832.8 141.7h0M833.4 180.3h0M833.9 173.1h0M834.5 172.3h0M835 168.1h0M835.5 176.8h0M836.1 178.1h0M836.6 151.6h0M837.2 176.7h0M837.7 177.9h0M838.2 180.4h0M838.8 163h0M839.3 158.4h0M839.9 173.6h0M840.4 183.5h0M840.9 158.3h0M841.5 175.8h0M842 185.6h0M842.6 210.2h0M843.1 214.8h0M843.6 264.5h0M844.2 267.6h0M844.7 245.5h0M845.3 226.5h0M845.8 218.3h0M846.3 177.4h0M846.9 194.5h0M847.4 174.8h0M848 179.1h0M848.5 155.4h0M849 156.9h0M849.6 181.6h0M850.1 144h0M850.7 159.1h0M851.2 154.2h0M851.7 172.2h0M852.3 171.9h0M852.8 167.6h0M853.4 157.8h0M853.9 175.9h0M854.4 172h0M855 161.9h0M855.5 176.7h0M856.1 163.2h0M856.6 189.1h0M857.1 159.4h0M857.7 181h0M858.2 173.8h0M858.8 181.5h0M859.3 164.7h0M859.8 184.1h0M860.4 172.3h0M860.9 172.4h0M861.5 184.9h0M862 174.3h0M862.5 167.4h0M863.1 196.9h0M863.6 175.6h0M864.2 202.8h0M864.7 216.4h0M865.2 204.7h0M865.8 199.7h0M866.3 186.6h0M866.9 200.5h0M867.4 179h0M867.9 170.9h0M868.5 180.6h0M869 161.3h0M869.6 180.1h0M870.1 154.1h0M870.6 172.6h0M871.2 167.2h0M871.7 188.7h0M872.3 169h0M872.8 162.9h0M873.3 159.2h0M873.9 169h0M874.4 166.6h0M875 186.3h0M875.5 180.7h0M876 145.6h0M876.6 152.4h0M877.1 176.4h0M877.7 185.9h0M878.2 173.7h0M878.7 147.8h0M879.3 169.8h0M879.8 177.7h0M880.4 175.7h0M880.9 155.8h0M881.4 167.2h0M882 179.5h0M882.5 168h0M883.1 165.4h0M883.6 200.9h0M884.1 159.1h0M884.7 165.7h0M885.2 158.4h0M885.8 153.6h0M886.3 161.8h0M886.8 178.2h0M887.4 163.1h0M887.9 159.7h0M888.5 175.5h0M889 171.1h0M889.5 180.6h0M890.1 185.2h0M890.6 164.3h0M891.2 195.9h0M891.7 186.4h0M892.2 190.2h0M892.8 209.7h0M893.3 245.9h0M893.9 268.3h0M894.4 333.3h0M894.9 376.3h0M895.5 437.9h0M896 422.4h0M896.6 423.6h0M897.1 378.2h0M897.6 328h0M898.2 273.9h0M898.7 234.9h0M899.3 202.5h0M899.8 193.6h0M900.3 178.7h0M900.9 159.2h0M901.4 157h0M902 186.7h0M902.5 175h0M903 158.7h0M903.6 169.4h0M904.1 179.1h0M904.7 208.2h0M905.2 225h0M905.7 260h0M906.3 318.7h0M906.8 359.3h0M907.4 400.3h0M907.9 420.1h0M908.4 408.3h0M909 381.5h0M909.5 312.2h0M910.1 258h0M910.6 218.6h0M911.1 189.9h0M911.7 183.4h0M912.2 165.1h0M912.8 169h0M913.3 182.9h0M913.8 170.4h0M914.4 158.4h0M914.9 176.4h0M915.5 166.8h0M916 160h0M916.5 179.7h0M917.1 164.5h0M917.6 175.3h0M918.2 157.5h0M918.7 168.1h0M919.2 155.1h0M919.8 162.1h0M920.3 179.7h0M920.9 168.9h0M921.4 177.9h0M921.9 162.1h0M922.5 164.4h0M923 152.2h0M923.6 173h0M924.1 173.8h0M924.6 145.9h0M925.2 159.9h0M925.7 171.5h0M926.3 154.5h0M926.8 145.4h0M927.3 154.6h0M927.9 179.4h0M928.4 159.4h0M929 168.7h0M929.5 162.2h0M930 170.9h0M930.6 168.3h0M931.1 176.6h0M931.7 164.5h0M932.2 170.2h0M932.7 153.8h0M933.3 171h0M933.8 177h0M934.4 161.6h0M934.9 170.4h0M935.4 159.4h0M936 178.6h0M936.5 178.2h0M937.1 166.4h0M937.6 181.6h0M938.1 152.8h0M938.7 170.7h0M939.2 174.5h0M939.8 153.3h0M940.3 173.4h0M940.8 169.1h0M941.4 169h0M941.9 166.5h0M942.5 179.1h0M943 177.4h0M943.5 158.6h0M944.1 178h0M944.6 158.4h0M945.2 165.8h0M945.7 164.1h0M946.2 170.5h0M946.8 167h0M947.3 171.8h0M947.9 164.4h0M948.4 189.2h0M948.9 166.4h0M949.5 175.4h0M950 173.2h0M950.6 171.2h0M951.1 167.9h0M951.6 165.2h0M952.2 169.1h0M952.7 155.6h0M953.3 159.2h0M953.8 166.4h0M954.3 151.3h0M954.9 160.4h0M955.4 174.8h0M956 168.9h0M956.5 176.2h0M957 171.8h0M957.6 176.4h0M958.1 185.1h0M958.7 173.9h0M959.2 172.7h0M959.7 151.8h0M960.3 158.9h0M960.8 155.9h0M961.4 158h0M961.9 161.7h0M962.4 177.4h0M963 152.5h0M963.5 168.7h0M964.1 159.4h0M964.6 153h0M965.1 164.1h0M965.7 181.2h0M966.2 182.6h0M966.8 172.5h0M967.3 180.2h0M967.8 159.4h0M968.4 166h0M968.9 166.2h0M969.5 157.4h0M970 160.9h0M970.5 164.2h0M971.1 174.1h0M971.6 169.9h0M972.2 166.8h0M972.7 165.8h0M973.2 152.1h0M973.8 156.1h0M974.3 158.2h0M974.9 152.8h0M975.4 159.1h0M975.9 178.8h0M976.5 166.8h0M977 165.8h0M977.6 169.2h0M978.1 155.1h0M978.6 174.2h0M979.2 166.5h0M979.7 161.2h0M980.3 167.1h0M980.8 171h0M981.3 170.5h0M981.9 155.2h0M982.4 166.7h0M983 190.1h0M983.5 178.9h0M984 163.3h0M984.6 166.1h0M985.1 166.5h0M985.7 147.9h0M986.2 166.4h0M986.7 175.5h0M987.3 150h0M987.8 151.2h0M988.4 172.6h0M988.9 157.2h0M989.4 168.7h0M990 165.3h0M990.5 143.9h0M991.1 173.3h0M991.6 172.5h0M992.1 158.1h0M992.7 158.9h0M993.2 159.3h0M993.8 177.5h0M994.3 170.5h0M994.8 162.5h0M995.4 155.4h0M995.9 152.7h0M996.5 169.1h0M997 156.7h0M997.5 161.4h0M998.1 162.2h0M998.6 163.5h0M999.2 160.6h0M999.7 174.6h0M1000.2 165h0M1000.8 171.8h0M1001.3 165.1h0M1001.9 162.2h0M1002.4 169.7h0M1002.9 165.5h0M1003.5 150.7h0M1004 164.9h0M1004.6 196.8h0M1005.1 213.9h0M1005.6 219h0M1006.2 224.2h0M1006.7 260.8h0M1007.3 242.9h0M1007.8 255.5h0M1008.3 222.3h0M1008.9 208.2h0M1009.4 182.3h0M1010 179.1h0M1010.5 179.1h0M1011 172.5h0M1011.6 169.6h0M1012.1 172.5h0M1012.7 170.5h0M1013.2 184.9h0M1013.7 143.4h0M1014.3 171.7h0M1014.8 166.8h0M1015.4 169.1h0M1015.9 159.7h0M1016.4 175.4h0M1017 173.6h0M1017.5 163h0M1018.1 168.5h0M1018.6 158.5h0M1019.1 164.6h0M1019.7 193.5h0M1020.2 181h0M1020.8 160.6h0M1021.3 161.5h0M1021.8 163.3h0M1022.4 153.3h0M1022.9 176.4h0M1023.5 153.4h0M1024 150.9h0M1024.5 158.6h0M1025.1 168h0M1025.6 178.5h0M1026.2 161.2h0M1026.7 162.5h0M1027.2 169.7h0M1027.8 156h0M1028.3 159.7h0M1028.9 180.5h0M1029.4 152.2h0M1029.9 172.9h0M1030.5 157.7h0M1031 176.2h0M1031.6 162.2h0M1032.1 181.5h0M1032.6 182.1h0M1033.2 190.7h0M1033.7 203.5h0M1034.3 209.9h0M1034.8 255.5h0M1035.3 304.8h0M1035.9 344.6h0M1036.4 357.3h0M1037 380.3h0M1037.5 371.5h0M1038 341.9h0M1038.6 279.5h0M1039.1 252.6h0M1039.7 198.3h0M1040.2 207.5h0M1040.7 188.5h0M1041.3 161.4h0M1041.8 173.3h0M1042.4 175.5h0M1042.9 161.5h0M1043.4 181h0M1044 204.7h0M1044.5 224.1h0M1045.1 233.7h0M1045.6 278.7h0M1046.1 326.2h0M1046.7 360.2h0M1047.2 355.2h0M1047.8 354.9h0M1048.3 334.7h0M1048.8 290.1h0M1049.4 254.2h0M1049.9 230h0M1050.5 190.6h0M1051 179h0M1051.5 184.5h0M1052.1 185.9h0M1052.6 174h0M1053.2 159.9h0M1053.7 150.9h0M1054.2 181.7h0M1054.8 142.5h0M1055.3 176.8h0M1055.9 159.2h0M1056.4 154.9h0M1056.9 163.6h0M1057.5 164.2h0M1058 187.1h0M1058.6 162.7h0M1059.1 166.7h0M1059.6 186.1h0M1060.2 142.8h0M1060.7 166.5h0M1061.3 145.8h0M1061.8 166.4h0M1062.3 153.3h0M1062.9 149.2h0M1063.4 166.5h0M1064 172.7h0M1064.5 177.1h0M1065 160.1h0M1065.6 197.3h0M1066.1 186.2h0M1066.7 177.1h0M1067.2 176.5h0M1067.7 162h0M1068.3 176.4h0M1068.8 148.1h0M1069.4 158.6h0M1069.9 165.7h0M1070.4 153.1h0M1071 167.7h0M1071.5 166.9h0M1072.1 156.3h0M1072.6 178.8h0M1073.1 158.9h0M1073.7 191.3h0M1074.2 168h0M1074.8 157h0M1075.3 173.5h0M1075.8 171.8h0M1076.4 163.6h0M1076.9 167.6h0M1077.5 170.3h0M1078 147.1h0M1078.5 154.5h0M1079.1 157.9h0M1079.6 159.9h0M1080.2 159.2h0M1080.7 174.2h0M1081.2 167.5h0M1081.8 161.6h0M1082.3 164.8h0M1082.9 163.5h0M1083.4 179.9h0M1083.9 170.7h0M1084.5 187.2h0M1085 174.3h0M1085.6 180.9h0M1086.1 161.2h0M1086.6 165.4h0M1087.2 169.3h0M1087.7 171.1h0M1088.3 180.1h0M1088.8 187.5h0M1089.3 174.2h0M1089.9 156.4h0M1090.4 149.9h0M1091 155.6h0M1091.5 168.4h0M1092 168.3h0M1092.6 169.9h0M1093.1 146.2h0M1093.7 176.6h0M1094.2 192.1h0M1094.7 148.4h0M1095.3 158.2h0M1095.8 180.1h0M1096.4 167.8h0M1096.9 170.3h0M1097.4 176h0M1098 189.8h0M1098.5 169.9h0M1099.1 162.5h0M1099.6 167.8h0M1100.1 170.7h0M1100.7 163h0M1101.2 167.3h0M1101.8 185.1h0M1102.3 188.6h0M1102.8 218.2h0M1103.4 248.4h0M1103.9 238.6h0M1104.5 279.9h0M1105 269.5h0M1105.5 278.6h0M1106.1 260.9h0M1106.6 243h0M1107.2 194.9h0M1107.7 198h0M1108.2 168.9h0M1108.8 169.3h0M1109.3 174.6h0M1109.9 168.8h0M1110.4 164.3h0M1110.9 163.4h0M1111.5 159.8h0M1112 154.7h0M1112.6 162.2h0M1113.1 179h0M1113.6 176.2h0M1114.2 175.5h0M1114.7 177.3h0M1115.3 167.5h0M1115.8 173.7h0M1116.3 167.9h0M1116.9 158.2h0M1117.4 196.7h0M1118 187.5h0M1118.5 214.9h0M1119 206.8h0M1119.6 220.9h0M1120.1 206.5h0M1120.7 210.1h0M1121.2 189.4h0M1121.7 203.9h0M1122.3 188.9h0M1122.8 155h0M1123.4 170.6h0M1123.9 164.1h0M1124.4 157.7h0M1125 170.9h0M1125.5 174.5h0M1126.1 161.6h0M1126.6 185.3h0M1127.1 180.4h0M1127.7 226.7h0M1128.2 247.4h0M1128.8 280.5h0M1129.3 290.2h0M1129.8 305.8h0M1130.4 312.3h0M1130.9 275.8h0M1131.5 220h0M1132 199.5h0M1132.5 180.6h0M1133.1 184.2h0M1133.6 180.7h0M1134.2 158.6h0M1134.7 177.1h0M1135.2 173.1h0M1135.8 161.3h0M1136.3 150h0M1136.9 190.5h0M1137.4 161.8h0M1137.9 161.5h0M1138.5 167.1h0M1139 162.6h0M1139.6 182.9h0M1140.1 164.6h0M1140.6 159.2h0M1141.2 159.8h0M1141.7 172.6h0M1142.3 153.3h0M1142.8 163.9h0M1143.3 156.1h0M1143.9 173.3h0M1144.4 168.8h0M1145 171.9h0M1145.5 161.5h0M1146 162h0M1146.6 182.8h0M1147.1 178.5h0M1147.7 183.9h0M1148.2 162.1h0M1148.7 144.9h0M1149.3 182.8h0M1149.8 172.5h0M1150.4 162.6h0M1150.9 167.4h0M1151.4 161.6h0M1152 166.6h0M1152.5 173.4h0M1153.1 163.3h0M1153.6 171.4h0M1154.1 162.1h0M1154.7 160.6h0M1155.2 183.8h0M1155.8 160.8h0M1156.3 167.3h0M1156.8 168.4h0M1157.4 172.3h0M1157.9 174.9h0M1158.5 167.4h0M1159 170.4h0M1159.5 160.3h0M1160.1 176.6h0M1160.6 168.7h0M1161.2 171.6h0M1161.7 179.2h0M1162.2 187.8h0M1162.8 176.1h0M1163.3 186.3h0M1163.9 165.1h0M1164.4 189.4h0M1164.9 196.4h0M1165.5 199.6h0M1166 205.1h0M1166.6 221.9h0M1167.1 246.6h0M1167.6 257h0M1168.2 267.9h0M1168.7 288.3h0M1169.3 267.7h0M1169.8 246.4h0M1170.3 248.4h0M1170.9 235.7h0M1171.4 217.3h0M1172 218.8h0M1172.5 228.6h0M1173 229.8h0M1173.6 247h0M1174.1 251.2h0M1174.7 274.7h0M1175.2 275.5h0M1175.7 307.4h0M1176.3 284.4h0M1176.8 252.8h0M1177.4 256.5h0M1177.9 234h0M1178.4 210h0M1179 207.6h0M1179.5 190h0M1180.1 193.8h0M1180.6 210.8h0M1181.1 270.7h0M1181.7 286h0M1182.2 356.2h0M1182.8 409.1h0M1183.3 450.6h0M1183.8 475.6h0M1184.4 460.8h0M1184.9 413.7h0M1185.5 351.8h0M1186 283.3h0M1186.5 251.8h0M1187.1 205.9h0M1187.6 187.8h0M1188.2 198.6h0M1188.7 180.7h0M1189.2 175.9h0M1189.8 184.3h0M1190.3 165h0M1190.9 169.1h0M1191.4 178.8h0M1191.9 162.8h0M1192.5 163.4h0M1193 169.1h0M1193.6 172h0M1194.1 173.1h0M1194.6 174.2h0M1195.2 175.4h0M1195.7 152.5h0M1196.3 175.5h0M1196.8 176.1h0M1197.3 171.5h0M1197.9 169.8h0M1198.4 158h0M1199 167.4h0M1199.5 156h0M1200 173h0M1200.6 166.2h0M1201.1 176.7h0M1201.7 198.9h0M1202.2 243.9h0M1202.7 242.8h0M1203.3 264.5h0M1203.8 272.5h0M1204.4 281h0M1204.9 245.8h0M1205.4 229h0M1206 217.9h0M1206.5 186.7h0M1207.1 170.6h0M1207.6 177.8h0M1208.1 179.9h0M1208.7 189.3h0M1209.2 177.6h0M1209.8 176.5h0M1210.3 171.2h0M1210.8 174.2h0M1211.4 182.2h0M1211.9 167.1h0M1212.5 155.4h0M1213 196.7h0M1213.5 149.7h0M1214.1 164.2h0M1214.6 168.7h0M1215.2 166.7h0M1215.7 180h0M1216.2 183.3h0M1216.8 176.3h0M1217.3 175.3h0M1217.9 156h0M1218.4 159.1h0M1218.9 178.2h0M1219.5 195.9h0M1220 156.5h0M1220.6 175.4h0M1221.1 173.2h0M1221.6 171.7h0M1222.2 160.3h0M1222.7 177.5h0M1223.3 188.6h0M1223.8 175.9h0M1224.3 175.9h0M1224.9 159.4h0M1225.4 169.9h0M1226 173.1h0M1226.5 186.8h0M1227 157.4h0M1227.6 180.8h0M1228.1 164.7h0M1228.7 183.2h0M1229.2 180h0M1229.7 161.8h0M1230.3 162.6h0M1230.8 172.6h0M1231.4 163.3h0M1231.9 172.1h0M1232.4 150.6h0M1233 159.3h0M1233.5 174.4h0M1234.1 146.6h0M1234.6 180h0M1235.1 170.2h0M1235.7 174.4h0M1236.2 174.5h0M1236.8 162.3h0M1237.3 190.6h0M1237.8 165.4h0M1238.4 174.5h0M1238.9 169h0M1239.5 190.3h0M1240 164.9h0M1240.5 159.9h0M1241.1 168.6h0M1241.6 156.3h0M1242.2 182.6h0M1242.7 162.8h0M1243.2 185.3h0M1243.8 157.9h0M1244.3 159.4h0M1244.9 156.4h0M1245.4 162.9h0M1245.9 157h0M1246.5 173.6h0M1247 173.6h0M1247.6 150.5h0M1248.1 175.3h0M1248.6 189.2h0M1249.2 153h0M1249.7 183.9h0M1250.3 161.9h0M1250.8 162.4h0M1251.3 177.1h0M1251.9 189.5h0M1252.4 176.3h0M1253 179.8h0M1253.5 196.6h0M1254 208.3h0M1254.6 234h0M1255.1 235h0M1255.7 242.9h0M1256.2 220.7h0M1256.7 201.2h0M1257.3 201.2h0M1257.8 170.7h0M1258.4 173.1h0M1258.9 167.5h0M1259.4 167.4h0M1260 168.5h0M1260.5 158.1h0M1261.1 188.3h0M1261.6 160.6h0M1262.1 161h0M1262.7 178.2h0M1263.2 171.1h0M1263.8 159.7h0M1264.3 152.8h0M1264.8 178h0M1265.4 155.7h0M1265.9 170h0M1266.5 164.8h0M1267 172.3h0M1267.5 146.4h0M1268.1 161.7h0M1268.6 179.8h0M1269.2 161.4h0M1269.7 165.7h0M1270.2 169.6h0M1270.8 160.2h0M1271.3 178.3h0M1271.9 174.4h0M1272.4 154.1h0M1272.9 161.6h0M1273.5 182.1h0M1274 158.7h0M1274.6 174h0M1275.1 157.4h0M1275.6 171h0M1276.2 175.5h0M1276.7 181.1h0M1277.3 165.3h0M1277.8 156.6h0M1278.3 192.2h0M1278.9 168.6h0M1279.4 170.9h0M1280 186.6h0M1280.5 159h0M1281 162.3h0M1281.6 173.1h0M1282.1 169.9h0M1282.7 179.9h0M1283.2 162.2h0M1283.7 179.6h0M1284.3 165h0M1284.8 188h0M1285.4 162.8h0M1285.9 181.3h0M1286.4 166h0M1287 174.5h0M1287.5 162.3h0M1288.1 142.4h0M1288.6 167.2h0M1289.1 170.1h0M1289.7 141.3h0M1290.2 158.6h0M1290.8 167.5h0M1291.3 166.4h0M1291.8 168.7h0M1292.4 160.8h0M1292.9 154.1h0M1293.5 174.6h0M1294 176.4h0M1294.5 175.3h0M1295.1 167.3h0M1295.6 180.9h0M1296.2 176.2h0M1296.7 202.7h0M1297.2 213.1h0M1297.8 240.3h0M1298.3 280.5h0M1298.9 301.1h0M1299.4 329.6h0M1299.9 331.9h0M1300.5 319.3h0M1301 298.7h0M1301.6 268.5h0M1302.1 251.2h0M1302.6 205.7h0M1303.2 137h0M1303.7 167.8h0M1304.3 180.1h0M1304.8 166.1h0M1305.3 161.3h0M1305.9 174.8h0M1306.4 174.8h0M1307 177.7h0M1307.5 182.7h0M1308 160.3h0M1308.6 166.5h0M1309.1 163.6h0M1309.7 158.3h0M1310.2 157.3h0M1310.7 178.1h0M1311.3 169.4h0M1311.8 158.5h0M1312.4 168.6h0M1312.9 171.6h0M1313.4 177.8h0M1314 160.9h0M1314.5 191.3h0M1315.1 185.6h0M1315.6 204.2h0M1316.1 221.2h0M1316.7 252.6h0M1317.2 301.4h0M1317.8 373.2h0M1318.3 399.8h0M1318.8 422.1h0M1319.4 385.4h0M1319.9 353.7h0M1320.5 298h0M1321 264.5h0M1321.5 216.1h0M1322.1 189.8h0M1322.6 182.6h0M1323.2 177.8h0M1323.7 166.6h0M1324.2 168.7h0M1324.8 177.2h0M1325.3 161.6h0M1325.9 171.2h0M1326.4 183.9h0M1326.9 166.8h0M1327.5 164.8h0M1328 183.3h0M1328.6 176.4h0M1329.1 157.5h0M1329.6 161.5h0M1330.2 163.6h0M1330.7 138.1h0M1331.3 179.1h0M1331.8 156.6h0M1332.3 164.8h0M1332.9 187.8h0M1333.4 173.9h0M1334 158.1h0M1334.5 175.2h0M1335 161.7h0M1335.6 176.6h0M1336.1 167.2h0M1336.7 158.8h0M1337.2 190.4h0M1337.7 171.7h0M1338.3 180.5h0M1338.8 176.6h0M1339.4 177.8h0M1339.9 152.4h0M1340.4 151.6h0M1341 154.4h0M1341.5 164.7h0M1342.1 174.7h0M1342.6 146.4h0M1343.1 152.6h0M1343.7 166.9h0M1344.2 161h0M1344.8 165.7h0M1345.3 141h0M1345.8 179.2h0M1346.4 148.3h0M1346.9 168.9h0M1347.5 155.2h0M1348 176.4h0M1348.5 162.5h0M1349.1 166.5h0M1349.6 174.6h0M1350.2 169.2h0M1350.7 162.1h0M1351.2 173.5h0M1351.8 179.5h0M1352.3 185.7h0M1352.9 168h0M1353.4 169.9h0M1353.9 162.9h0M1354.5 182.7h0M1355 167.4h0M1355.6 163.3h0M1356.1 153.5h0M1356.6 145.8h0M1357.2 191.3h0M1357.7 168.8h0M1358.3 175.5h0M1358.8 166.5h0M1359.3 178.3h0M1359.9 175.3h0M1360.4 187.8h0M1361 169.6h0M1361.5 174.1h0M1362 204.8h0M1362.6 204.9h0M1363.1 224.3h0M1363.7 230.2h0M1364.2 219.6h0M1364.7 220.5h0M1365.3 230.3h0M1365.8 193.5h0M1366.4 182.5h0M1366.9 191.4h0M1367.4 186.2h0M1368 166.4h0M1368.5 158.1h0M1369.1 160.2h0M1369.6 170h0M1370.1 169.6h0M1370.7 168.3h0M1371.2 178.2h0M1371.8 170h0M1372.3 175.6h0M1372.8 173.2h0M1373.4 159.5h0M1373.9 165h0M1374.5 165.9h0M1375 153.5h0M1375.5 162.2h0M1376.1 178.1h0M1376.6 173.2h0M1377.2 176.8h0M1377.7 157.6h0M1378.2 158.5h0M1378.8 166.4h0M1379.3 167.2h0M1379.9 169.2h0M1380.4 169.3h0M1380.9 155.3h0M1381.5 159.2h0M1382 165.5h0M1382.6 165.1h0M1383.1 175.1h0M1383.6 164.1h0M1384.2 176.1h0M1384.7 135.3h0M1385.3 174.5h0M1385.8 183.9h0M1386.3 172.1h0M1386.9 175.3h0M1387.4 178.3h0M1388 177.5h0M1388.5 162.5h0M1389 173h0M1389.6 160.9h0M1390.1 174.3h0M1390.7 161.8h0M1391.2 195.3h0M1391.7 190.6h0M1392.3 202.6h0M1392.8 244.2h0M1393.4 269.1h0M1393.9 325.4h0M1394.4 342.9h0M1395 353.2h0M1395.5 359.8h0M1396.1 309.2h0M1396.6 275.3h0M1397.1 213.9h0M1397.7 204.5h0M1398.2 194.7h0M1398.8 197.8h0M1399.3 172h0M1399.8 168.2h0M1400.4 160.8h0M1400.9 164.7h0M1401.5 167.7h0M1402 168.5h0M1402.5 166.6h0M1403.1 163.6h0M1403.6 172.6h0M1404.2 195.9h0M1404.7 175.3h0M1405.2 172.2h0M1405.8 183.7h0M1406.3 186.1h0M1406.9 188.4h0M1407.4 223.7h0M1407.9 255.8h0M1408.5 238.6h0M1409 246h0M1409.6 263.6h0M1410.1 218.7h0M1410.6 212.7h0M1411.2 202.6h0M1411.7 175.9h0M1412.3 183.5h0M1412.8 183.3h0M1413.3 162.2h0M1413.9 177.8h0M1414.4 175.4h0M1415 155.3h0M1415.5 168.3h0M1416 159.2h0M1416.6 155.1h0M1417.1 158.1h0M1417.7 143.5h0M1418.2 156.3h0M1418.7 151.5h0M1419.3 178.6h0M1419.8 167.7h0M1420.4 178.1h0M1420.9 157.2h0M1421.4 167.9h0M1422 150.2h0M1422.5 164.8h0M1423.1 171h0M1423.6 174.1h0M1424.1 176.7h0M1424.7 182h0M1425.2 171.6h0M1425.8 180.8h0M1426.3 167.1h0M1426.8 162.5h0M1427.4 170h0M1427.9 177.1h0M1428.5 191.4h0M1429 154.1h0M1429.5 172.2h0M1430.1 162.9h0M1430.6 166.3h0M1431.2 173.2h0M1431.7 176.2h0M1432.2 159.7h0M1432.8 154h0M1433.3 180.4h0M1433.9 175.6h0M1434.4 154.2h0M1434.9 159.8h0M1435.5 152.9h0M1436 170h0M1436.6 148.2h0M1437.1 186.1h0M1437.6 151.3h0M1438.2 176.4h0M1438.7 185.1h0M1439.3 178h0M1439.8 170.4h0M1440.3 166.1h0M1440.9 187.1h0M1441.4 165.9h0M1442 177.7h0M1442.5 156.6h0M1443 161.5h0M1443.6 179.6h0M1444.1 175.3h0M1444.7 169.8h0M1445.2 175.8h0M1445.7 179.9h0M1446.3 199.2h0M1446.8 195.2h0M1447.4 218.2h0M1447.9 191.9h0M1448.4 211.9h0M1449 200.6h0M1449.5 211.6h0M1450.1 184.2h0M1450.6 186.6h0M1451.1 159.5h0M1451.7 159.6h0M1452.2 169.6h0M1452.8 182h0M1453.3 179h0M1453.8 181.3h0M1454.4 179h0M1454.9 175.3h0M1455.5 198.1h0M1456 228.5h0M1456.5 236.7h0M1457.1 321.6h0M1457.6 317.6h0M1458.2 319.6h0M1458.7 301.3h0M1459.2 269.8h0M1459.8 276.5h0M1460.3 220.3h0M1460.9 201.3h0M1461.4 173h0M1461.9 177.9h0M1462.5 170.7h0M1463 165h0M1463.6 161.4h0M1464.1 168.2h0M1464.6 165.4h0M1465.2 158h0M1465.7 170.5h0M1466.3 177.3h0M1466.8 173.8h0M1467.3 177.3h0M1467.9 166.5h0M1468.4 160.3h0M1469 171.9h0M1469.5 167h0M1470 165.3h0M1470.6 162h0M1471.1 164.9h0M1471.7 149.7h0M1472.2 163.9h0M1472.7 163.3h0M1473.3 163.1h0M1473.8 153.4h0M1474.4 189.1h0M1474.9 155h0M1475.4 179.6h0M1476 170.8h0M1476.5 176.5h0M1477.1 175.1h0M1477.6 181.6h0M1478.1 180.1h0M1478.7 177.4h0M1479.2 170.4h0M1479.8 153h0M1480.3 162.2h0M1480.8 165.1h0M1481.4 165.8h0M1481.9 168h0M1482.5 173.7h0M1483 182.9h0M1483.5 168.6h0M1484.1 167h0M1484.6 170.1h0M1485.2 155h0M1485.7 172.6h0M1486.2 165.9h0M1486.8 150h0M1487.3 169.6h0M1487.9 175.6h0M1488.4 188.3h0M1488.9 188.8h0M1489.5 186h0M1490 158.1h0M1490.6 174.2h0M1491.1 167h0M1491.6 168.3h0M1492.2 173.1h0M1492.7 153.9h0M1493.3 177.2h0M1493.8 164.4h0M1494.3 177.5h0M1494.9 159.9h0M1495.4 180.6h0M1496 176.8h0M1496.5 185.1h0M1497 174.1h0M1497.6 161.1h0M1498.1 148.9h0M1498.7 187.3h0M1499.2 156.8h0M1499.7 172.5h0M1500.3 180.1h0M1500.8 172.4h0M1501.4 160.9h0M1501.9 171.9h0M1502.4 150.2h0M1503 178.6h0M1503.5 165.3h0M1504.1 170.5h0M1504.6 174.6h0M1505.1 160.4h0M1505.7 162h0M1506.2 163.1h0M1506.8 177.8h0M1507.3 159.7h0M1507.8 185.3h0M1508.4 139h0M1508.9 152.6h0M1509.5 162.3h0M1510 154.3h0M1510.5 168.6h0M1511.1 184.8h0M1511.6 180.8h0M1512.2 172.7h0M1512.7 164.2h0M1513.2 176.3h0M1513.8 171.5h0M1514.3 199h0M1514.9 182h0M1515.4 189.4h0M1515.9 206h0M1516.5 205.9h0M1517 214.6h0M1517.6 257.3h0M1518.1 277.8h0M1518.6 257.3h0M1519.2 213.2h0M1519.7 192.3h0M1520.3 185.1h0M1520.8 198.4h0M1521.3 181.5h0M1521.9 165.5h0M1522.4 174.5h0M1523 146h0M1523.5 163.5h0M1524 177.6h0M1524.6 163.6h0M1525.1 157.9h0M1525.7 156.8h0M1526.2 171h0M1526.7 168h0M1527.3 172.8h0M1527.8 174.3h0M1528.4 167.9h0M1528.9 171.9h0M1529.4 196.3h0M1530 188.8h0M1530.5 201h0M1531.1 205h0M1531.6 222.8h0M1532.1 271.2h0M1532.7 288.8h0M1533.2 324.8h0M1533.8 330.8h0M1534.3 330h0M1534.8 312.3h0M1535.4 281.3h0M1535.9 227.4h0M1536.5 221.9h0M1537 210.7h0M1537.5 181.3h0M1538.1 176.4h0M1538.6 165.2h0M1539.2 180.1h0M1539.7 179.6h0M1540.2 176.8h0M1540.8 164.8h0M1541.3 181.7h0M1541.9 178.2h0M1542.4 174h0M1542.9 167.4h0M1543.5 162.2h0M1544 189.2h0M1544.6 193.2h0M1545.1 195.2h0M1545.6 209.7h0M1546.2 232.5h0M1546.7 256.6h0M1547.3 242.9h0M1547.8 269.1h0M1548.3 262.5h0M1548.9 235.1h0M1549.4 217.3h0M1550 206.3h0M1550.5 167.5h0M1551 181.8h0M1551.6 170.1h0M1552.1 161.1h0M1552.7 179.5h0M1553.2 167.4h0M1553.7 172.9h0M1554.3 169.2h0M1554.8 158.3h0M1555.4 165h0M1555.9 165.2h0M1556.4 198.7h0M1557 165.1h0M1557.5 183h0M1558.1 170.9h0M1558.6 167.8h0M1559.1 157.7h0M1559.7 168.4h0M1560.2 170.4h0M1560.8 183h0M1561.3 172.5h0M1561.8 165.2h0M1562.4 171.8h0M1562.9 213h0M1563.5 167.1h0M1564 164.1h0M1564.5 168.8h0M1565.1 157.6h0M1565.6 172.1h0M1566.2 161.5h0M1566.7 176.4h0M1567.2 165.4h0M1567.8 179.2h0M1568.3 171.6h0M1568.9 155.2h0M1569.4 171.7h0M1569.9 172.5h0M1570.5 149.8h0M1571 170.9h0M1571.6 166.8h0M1572.1 174.4h0M1572.6 142.1h0M1573.2 163h0M1573.7 160.7h0M1574.3 171.2h0M1574.8 179.2h0M1575.3 177.9h0M1575.9 158.5h0M1576.4 166.3h0M1577 170.5h0M1577.5 185.9h0M1578 171.1h0M1578.6 175.7h0M1579.1 174.4h0M1579.7 147.3h0M1580.2 151.3h0M1580.7 136.9h0M1581.3 163.9h0M1581.8 165.1h0M1582.4 170h0M1582.9 186.2h0M1583.4 163.7h0M1584 166.3h0M1584.5 154.1h0M1585.1 174.1h0M1585.6 158.5h0M1586.1 156.6h0M1586.7 179.7h0M1587.2 160.1h0M1587.8 176.7h0M1588.3 173.8h0M1588.8 189.7h0M1589.4 158.2h0M1589.9 181h0M1590.5 187.8h0M1591 216.6h0M1591.5 226.4h0M1592.1 231.9h0M1592.6 234.7h0M1593.2 206.4h0M1593.7 179.2h0M1594.2 193.6h0M1594.8 165.1h0M1595.3 160.3h0M1595.9 171.2h0M1596.4 171.6h0M1596.9 180.1h0M1597.5 172.7h0M1598 166.3h0M1598.6 165.9h0M1599.1 173.1h0M1599.6 172.8h0M1600.2 154.6h0M1600.7 189.4h0M1601.3 151.6h0M1601.8 153.4h0M1602.3 189.5h0M1602.9 169.1h0M1603.4 170.2h0M1604 186.6h0M1604.5 167.7h0M1605 186h0M1605.6 188.4h0M1606.1 160.8h0M1606.7 178.9h0M1607.2 182.9h0M1607.7 180.8h0M1608.3 207.2h0M1608.8 240.7h0M1609.4 297.8h0M1609.9 349.4h0M1610.4 401.7h0M1611 441h0M1611.5 396.7h0M1612.1 357.5h0M1612.6 308.7h0M1613.1 232.9h0M1613.7 199h0M1614.2 201.1h0M1614.8 172.4h0M1615.3 171.7h0M1615.8 197.3h0M1616.4 173.2h0M1616.9 179.9h0M1617.5 160.7h0M1618 192.9h0M1618.5 187.9h0M1619.1 179.3h0M1619.6 182h0M1620.2 193h0M1620.7 173.3h0M1621.2 185.9h0M1621.8 188.3h0M1622.3 183.3h0M1622.9 153.5h0M1623.4 177.8h0M1623.9 185.2h0M1624.5 165.7h0M1625 170.9h0M1625.6 173.8h0M1626.1 168h0M1626.6 203.9h0M1627.2 213.6h0M1627.7 232h0M1628.3 219h0M1628.8 230.6h0M1629.3 248.8h0M1629.9 240.7h0M1630.4 220h0M1631 237.3h0M1631.5 216.3h0M1632 226.6h0M1632.6 253.3h0M1633.1 245h0M1633.7 214.5h0M1634.2 234.4h0M1634.7 200.5h0M1635.3 183.3h0M1635.8 208.8h0M1636.4 202h0M1636.9 185.1h0M1637.4 214.9h0M1638 217h0M1638.5 250.7h0M1639.1 307.6h0M1639.6 351.5h0M1640.1 436h0M1640.7 504.6h0M1641.2 552.7h0M1641.8 560.3h0M1642.3 539.7h0M1642.8 484.2h0M1643.4 401.5h0M1643.9 362.5h0M1644.5 295.2h0M1645 230.9h0M1645.5 230.6h0M1646.1 216.9h0M1646.6 221h0M1647.2 236.5h0M1647.7 266.5h0M1648.2 260.7h0M1648.8 253.7h0M1649.3 246.7h0M1649.9 208.3h0M1650.4 210.9h0M1650.9 198.9h0M1651.5 198.7h0M1652 188.5h0M1652.6 196.4h0M1653.1 226.2h0M1653.6 252h0M1654.2 282.2h0M1654.7 338h0M1655.3 315.7h0M1655.8 332.6h0M1656.3 309.9h0M1656.9 247.6h0M1657.4 230h0M1658 215.6h0M1658.5 216.2h0M1659 205.2h0M1659.6 177.2h0M1660.1 206.8h0M1660.7 253.5h0M1661.2 273.2h0M1661.7 331.7h0M1662.3 350.5h0M1662.8 411.6h0M1663.4 380.8h0M1663.9 339.2h0M1664.4 289.2h0M1665 226.8h0M1665.5 248h0M1666.1 225.7h0M1666.6 179.7h0M1667.1 209.9h0M1667.7 181.2h0M1668.2 195.6h0M1668.8 172.3h0M1669.3 190h0M1669.8 217.7h0M1670.4 216h0M1670.9 250h0M1671.5 339.2h0M1672 396.2h0M1672.5 485.4h0M1673.1 511.1h0M1673.6 458.7h0M1674.2 405.2h0M1674.7 351.1h0M1675.2 261.4h0M1675.8 255.1h0M1676.3 221.5h0M1676.9 214h0M1677.4 212.3h0M1677.9 178.7h0M1678.5 182.4h0M1679 215.8h0M1679.6 189.5h0M1680.1 186.5h0M1680.6 214h0M1681.2 251.4h0M1681.7 292h0M1682.3 364h0M1682.8 444.5h0M1683.3 562.7h0M1683.9 620h0M1684.4 554.6h0M1685 473.1h0M1685.5 360.2h0M1686 279.7h0M1686.6 243.6h0M1687.1 212.9h0M1687.7 178.7h0M1688.2 200.9h0M1688.7 180.4h0M1689.3 212.8h0M1689.8 216.5h0M1690.4 191.5h0M1690.9 204.4h0M1691.4 204.6h0M1692 201.8h0M1692.5 210.1h0M1693.1 200.6h0M1693.6 247.7h0M1694.1 274.8h0M1694.7 344.2h0M1695.2 424.4h0M1695.8 521.4h0M1696.3 610.1h0M1696.8 628.4h0M1697.4 623.9h0M1697.9 558.4h0M1698.5 434.1h0M1699 352.2h0M1699.5 302.8h0M1700.1 305.9h0M1700.6 257.7h0M1701.2 264.5h0M1701.7 247.8h0M1702.2 258.9h0M1702.8 246.3h0M1703.3 293.4h0M1703.9 322.7h0M1704.4 405.3h0M1704.9 459.9h0M1705.5 500.8h0M1706 535.5h0M1706.6 530.1h0M1707.1 465.1h0M1707.6 391.9h0M1708.2 336.6h0M1708.7 295.6h0M1709.3 270.6h0M1709.8 283.7h0M1710.3 298.5h0M1710.9 248.9h0M1711.4 297.4h0M1712 296h0M1712.5 294.2h0M1713 358.7h0M1713.6 463.1h0M1714.1 545.4h0M1714.7 622.4h0M1715.2 656h0M1715.7 624.7h0M1716.3 559.4h0M1716.8 417.5h0M1717.4 357.2h0M1717.9 302h0M1718.4 314.2h0M1719 302.5h0M1719.5 374.5h0M1720.1 392h0M1720.6 473.8h0M1721.1 486.2h0M1721.7 463.4h0M1722.2 412.8h0M1722.8 342.3h0M1723.3 293.4h0M1723.8 284.7h0M1724.4 317.9h0M1724.9 353.1h0M1725.5 420.4h0M1726 461.9h0M1726.5 523.1h0M1727.1 548.7h0M1727.6 541h0M1728.2 462.3h0M1728.7 367h0M1729.2 272.1h0M1729.8 206.1h0M1730.3 192.9h0M1730.9 187.7h0M1731.4 173h0M1731.9 169.7h0M1732.5 175.5h0M1733 117.7h0M1733.6 130.4h0M1734.1 126.1h0M1734.6 139.6h0M1735.2 132h0M1735.7 142.5h0M1736.3 145.9h0M1736.8 149.8h0M1737.3 144.5h0M1737.9 142.4h0M1738.4 138.3h0M1739 123.5h0M1739.5 153.7h0M1740 135.4h0M1740.6 158.7h0M1741.1 114.9h0M1741.7 126.7h0M1742.2 132.9h0M1742.7 125h0M1743.3 123.7h0M1743.8 128.3h0M1744.4 115.8h0M1744.9 146.9h0M1745.4 148h0M1746 120.4h0M1746.5 146.9h0M1747.1 144.5h0M1747.6 130.8h0M1748.1 137.4h0M1748.7 126.9h0M1749.2 167.2h0M1749.8 138.2h0M1750.3 157.1h0M1750.8 147.7h0M1751.4 150.9h0M1751.9 138.4h0M1752.5 128.6h0M1753 106h0M1753.5 131.8h0M1754.1 126h0M1754.6 148.6h0M1755.2 149.5h0M1755.7 162.5h0M1756.2 160.9h0M1756.8 151.7h0M1757.3 154.9h0M1757.9 161.6h0M1758.4 146.3h0M1758.9 178.9h0M1759.5 158.7h0M1760 129.5h0M1760.6 136.4h0M1761.1 136.7h0M1761.6 147.3h0M1762.2 159.3h0M1762.7 135.3h0M1763.3 167.7h0M1763.8 111.2h0M1764.3 134.9h0M1764.9 146.7h0M1765.4 158.6h0M1766 154.3h0M1766.5 170.6h0M1767 175h0M1767.6 144.3h0M1768.1 154.8h0M1768.7 151.9h0M1769.2 151.6h0M1769.7 189.8h0M1770.3 144.5h0M1770.8 160.4h0M1771.4 169.1h0M1771.9 149.7h0M1772.4 174h0M1773 118.8h0M1773.5 177.9h0M1774.1 133.2h0M1774.6 197.6h0M1775.1 187.3h0M1775.7 239.6h0M1776.2 251.5h0M1776.8 239.3h0M1777.3 226.8h0M1777.8 240.9h0M1778.4 195h0M1778.9 185.5h0M1779.5 158.7h0M1780 164.2h0M1780.5 163.1h0M1781.1 173.1h0M1781.6 140.2h0M1782.2 151.2h0M1782.7 175.7h0M1783.2 166.8h0M1783.8 188.9h0M1784.3 166.9h0M1784.9 137.8h0M1785.4 160.6h0M1785.9 165.3h0M1786.5 151.2h0M1787 146.7h0M1787.6 171.8h0M1788.1 156.3h0M1788.6 145.6h0M1789.2 154.1h0M1789.7 144.5h0M1790.3 163h0M1790.8 186.8h0M1791.3 169.9h0M1791.9 163.1h0M1792.4 154.6h0M1793 152.8h0M1793.5 152.5h0M1794 152.7h0M1794.6 151.3h0M1795.1 188.3h0M1795.7 186.1h0M1796.2 170.6h0M1796.7 158.8h0M1797.3 150.5h0M1797.8 169.5h0M1798.4 176.8h0M1798.9 187.8h0M1799.4 166.2h0M1800 169h0M1800.5 163.3h0M1801.1 151.2h0M1801.6 173.5h0M1802.1 186.1h0M1802.7 170.8h0M1803.2 129h0M1803.8 157.5h0M1804.3 167.1h0M1804.8 154.9h0M1805.4 138.8h0M1805.9 161.5h0M1806.5 131.2h0M1807 157.4h0M1807.5 153.4h0M1808.1 158.6h0M1808.6 157.7h0M1809.2 140.4h0M1809.7 157.7h0M1810.2 152.7h0M1810.8 177.4h0M1811.3 182.6h0M1811.9 152.2h0M1812.4 140.3h0M1812.9 162.6h0M1813.5 165.3h0M1814 132.5h0M1814.6 149.2h0M1815.1 150h0M1815.6 179.6h0M1816.2 161.4h0M1816.7 173.8h0M1817.3 191.4h0M1817.8 169.3h0M1818.3 149.9h0M1818.9 173.7h0M1819.4 185.1h0M1820 148.8h0M1820.5 168.3h0M1821 189.2h0M1821.6 255.9h0M1822.1 268.7h0M1822.7 453.6h0M1823.2 354.6h0M1823.7 367.6h0M1824.3 353.9h0M1824.8 309.2h0M1825.4 278.9h0M1825.9 262.1h0M1826.4 225.3h0M1827 193.3h0M1827.5 176.5h0M1828.1 171.6h0M1828.6 175.1h0M1829.1 180h0M1829.7 166.1h0M1830.2 171.9h0M1830.8 172.8h0M1831.3 160.1h0M1831.8 128.9h0M1832.4 144.8h0M1832.9 159.6h0M1833.5 157.8h0M1834 162.7h0M1834.5 171.4h0M1835.1 169.4h0M1835.6 162.6h0M1836.2 157.5h0M1836.7 163.1h0M1837.2 160h0M1837.8 173.1h0M1838.3 173.4h0M1838.9 166.1h0M1839.4 148.9h0M1839.9 155.8h0M1840.5 162.6h0M1841 144.1h0M1841.6 145.7h0M1842.1 162.3h0M1842.6 187.4h0M1843.2 184.4h0M1843.7 159.4h0M1844.3 152.5h0M1844.8 149.9h0M1845.3 136.9h0M1845.9 179h0M1846.4 184.8h0M1847 163.8h0M1847.5 135.8h0M1848 149.9h0M1848.6 155.1h0M1849.1 157.1h0M1849.7 146.6h0M1850.2 148.1h0M1850.7 166.6h0M1851.3 151.2h0M1851.8 159.9h0M1852.4 161.8h0M1852.9 150.5h0M1853.4 150.5h0M1854 165.7h0M1854.5 171.2h0M1855.1 166.6h0M1855.6 168.8h0M1856.1 193h0M1856.7 154.6h0M1857.2 178.4h0M1857.8 133.1h0M1858.3 174.1h0M1858.8 163.8h0M1859.4 161.8h0M1859.9 177.2h0M1860.5 154.9h0M1861 158.9h0M1861.5 186.9h0M1862.1 199.3h0M1862.6 216.4h0M1863.2 286.2h0M1863.7 317.4h0M1864.2 349.6h0M1864.8 378.4h0M1865.3 366.5h0M1865.9 312h0M1866.4 276.2h0M1866.9 248.3h0M1867.5 199.7h0M1868 176.1h0M1868.6 189.5h0M1869.1 158.9h0M1869.6 159.4h0M1870.2 199.5h0M1870.7 169.8h0M1871.3 160.5h0M1871.8 187.4h0M1872.3 139.8h0M1872.9 185.9h0M1873.4 150.1h0M1874 133.9h0M1874.5 147.4h0M1875 159.3h0M1875.6 160.7h0M1876.1 169.6h0M1876.7 160.5h0M1877.2 180.9h0M1877.7 158.1h0M1878.3 148h0M1878.8 162.1h0M1879.4 178h0M1879.9 155.5h0M1880.4 159.8h0M1881 143.5h0M1881.5 171.2h0M1882.1 177.1h0M1882.6 164h0M1883.1 164.9h0M1883.7 169.7h0M1884.2 155.5h0M1884.8 179.2h0M1885.3 151.6h0M1885.8 189.8h0M1886.4 156h0M1886.9 165.6h0M1887.5 184.2h0M1888 202.3h0M1888.5 248.7h0M1889.1 306.1h0M1889.6 511h0M1890.2 406.4h0M1890.7 475.1h0M1891.2 493h0M1891.8 486.4h0M1892.3 442.2h0M1892.9 346.6h0M1893.4 285.9h0M1893.9 236.7h0M1894.5 203.5h0M1895 189.3h0M1895.6 189.3h0M1896.1 154.2h0M1896.6 164.8h0M1897.2 185.1h0M1897.7 135.5h0M1898.3 163.7h0M1898.8 163.4h0M1899.3 180.6h0M1899.9 179.9h0M1900.4 154.6h0M1901 176.8h0M1901.5 162.3h0M1902 199.5h0M1902.6 159.8h0M1903.1 178.5h0M1903.7 209.8h0M1904.2 231.4h0M1904.7 279h0M1905.3 341h0M1905.8 384h0M1906.4 446.3h0M1906.9 469.4h0M1907.4 418h0M1908 383h0M1908.5 315.8h0M1909.1 265.1h0M1909.6 227.2h0M1910.1 202.8h0M1910.7 162.3h0M1911.2 193h0M1911.8 145h0M1912.3 149.4h0M1912.8 139.2h0M1913.4 158.1h0M1913.9 168h0M1914.5 179.2h0M1915 139.3h0M1915.5 164.6h0M1916.1 168.8h0M1916.6 172.4h0M1917.2 172.1h0M1917.7 190.4h0M1918.2 184.5h0M1918.8 172.6h0M1919.3 165h0M1919.9 160.2h0M1920.4 172h0M1920.9 148.3h0M1921.5 154.5h0M1922 173.5h0M1922.6 150.3h0M1923.1 188.4h0M1923.6 185.3h0M1924.2 168.9h0M1924.7 155.4h0M1925.3 169.3h0M1925.8 169.5h0M1926.3 168.1h0M1926.9 132.4h0M1927.4 183.7h0M1928 179.8h0M1928.5 181.3h0M1929 167h0M1929.6 138.4h0M1930.1 167.4h0M1930.7 155.6h0M1931.2 149.1h0M1931.7 178.2h0M1932.3 175.3h0M1932.8 168h0M1933.4 151.7h0M1933.9 153.3h0M1934.4 177.3h0M1935 162.2h0M1935.5 181.2h0M1936.1 158.6h0M1936.6 208.8h0M1937.1 247.6h0M1937.7 263.9h0M1938.2 333.4h0M1938.8 370.6h0M1939.3 407.4h0M1939.8 423.5h0M1940.4 404.7h0M1940.9 352.6h0M1941.5 339.7h0M1942 262.1h0M1942.5 209.7h0M1943.1 215.6h0M1943.6 174h0M1944.2 167.5h0M1944.7 152h0M1945.2 177.3h0M1945.8 175.1h0M1946.3 164.5h0M1946.9 175.1h0M1947.4 163.1h0M1947.9 158.3h0M1948.5 152.2h0M1949 156.2h0M1949.6 168.7h0M1950.1 164.9h0M1950.6 154.6h0M1951.2 170h0M1951.7 172.3h0M1952.3 144.5h0M1952.8 144.7h0M1953.3 172.3h0M1953.9 172.9h0M1954.4 157.2h0M1955 134h0M1955.5 166.6h0M1956 132h0M1956.6 156.3h0M1957.1 159h0M1957.7 166.1h0M1958.2 145h0M1958.7 207.6h0M1959.3 197.9h0M1959.8 219.4h0M1960.4 235h0M1960.9 287.7h0M1961.4 274.5h0M1962 291.7h0M1962.5 268.7h0M1963.1 259.5h0M1963.6 232.5h0M1964.1 207.6h0M1964.7 180.2h0M1965.2 158.8h0M1965.8 170.8h0M1966.3 176.4h0M1966.8 168.5h0M1967.4 142.7h0M1967.9 145.4h0M1968.5 154.9h0M1969 170.2h0M1969.5 145.5h0M1970.1 161.2h0M1970.6 154.1h0M1971.2 170.9h0M1971.7 158.2h0M1972.2 168h0M1972.8 147.1h0M1973.3 139.7h0M1973.9 150.5h0M1974.4 159.1h0M1974.9 126.7h0M1975.5 145.2h0M1976 145.3h0M1976.6 165.5h0M1977.1 204.4h0M1977.6 158.5h0M1978.2 150.5h0M1978.7 154.3h0M1979.3 177.4h0M1979.8 138.1h0M1980.3 191.6h0M1980.9 142.2h0M1981.4 188.1h0M1982 163.3h0M1982.5 175.2h0M1983 156.9h0M1983.6 200.6h0M1984.1 169.5h0M1984.7 156.5h0M1985.2 135.5h0M1985.7 149.6h0M1986.3 166.8h0M1986.8 146h0M1987.4 162.1h0M1987.9 186.7h0M1988.4 170.4h0M1989 166h0M1989.5 150.2h0M1990.1 176.1h0M1990.6 176.7h0M1991.1 145.9h0M1991.7 153.6h0M1992.2 171.7h0M1992.8 185.7h0M1993.3 136.8h0M1993.8 182.4h0M1994.4 193h0M1994.9 223.5h0M1995.5 281.3h0M1996 279.6h0M1996.5 338.3h0M1997.1 328h0M1997.6 342.9h0M1998.2 300.2h0M1998.7 274.7h0M1999.2 201h0M1999.8 181.1h0M2000.3 153.8h0M2000.9 221.7h0M2001.4 162.4h0M2001.9 151h0M2002.5 178.3h0M2003 196.9h0M2003.6 196.5h0M2004.1 159.6h0M2004.6 156.3h0M2005.2 160.8h0M2005.7 144.6h0M2006.3 156.1h0M2006.8 166.3h0M2007.3 170.5h0M2007.9 182.1h0M2008.4 146.9h0M2009 140.9h0M2009.5 168.6h0M2010 152.9h0M2010.6 159.1h0M2011.1 157h0M2011.7 178.8h0M2012.2 144.8h0M2012.7 157.7h0M2013.3 152.8h0M2013.8 168.7h0M2014.4 151.1h0M2014.9 151.7h0M2015.4 128.8h0M2016 156.6h0M2016.5 157.4h0M2017.1 161.6h0M2017.6 158.3h0M2018.1 166.6h0M2018.7 153.6h0M2019.2 165.9h0M2019.8 150.9h0M2020.3 164.5h0M2020.8 153.6h0M2021.4 151.4h0M2021.9 172.1h0M2022.5 154.8h0M2023 219.8h0M2023.5 144.9h0M2024.1 137.8h0M2024.6 149.1h0M2025.2 173.2h0M2025.7 178.1h0M2026.2 157.5h0M2026.8 164.1h0M2027.3 152.4h0M2027.9 206.8h0M2028.4 133.3h0M2028.9 141.3h0M2029.5 146.3h0M2030 166h0M2030.6 156.3h0M2031.1 170.9h0M2031.6 149.9h0M2032.2 164.6h0M2032.7 152.8h0M2033.3 129.9h0M2033.8 158.9h0M2034.3 139h0M2034.9 177.7h0M2035.4 184.6h0M2036 138.7h0M2036.5 157.8h0M2037 151.2h0M2037.6 146.1h0M2038.1 130.5h0M2038.7 167.9h0M2039.2 167.5h0M2039.7 149.7h0M2040.3 147.7h0M2040.8 148.6h0M2041.4 166.5h0M2041.9 149.2h0M2042.4 139.2h0M2043 167.1h0M2043.5 140h0M2044.1 143.1h0M2044.6 154.7h0M2045.1 161h0M2045.7 158h0M2046.2 143.5h0M2046.8 164.9h0M2047.3 177.7h0M2047.8 142.2h0M2048.4 165h0M2048.9 164.4h0M2049.5 165.7h0M2050 184.2h0M2050.5 164h0M2051.1 170.3h0M2051.6 146.3h0M2052.2 164.5h0M2052.7 141.6h0M2053.2 173.5h0M2053.8 179.4h0M2054.3 216.7h0M2054.9 165.5h0M2055.4 147.6h0M2055.9 154.3h0M2056.5 153.5h0M2057 166.1h0M2057.6 181.6h0M2058.1 172.1h0M2058.6 142.9h0M2059.2 183.9h0M2059.7 156h0M2060.3 162.6h0M2060.8 150.8h0M2061.3 158h0M2061.9 170.1h0M2062.4 187.9h0M2063 168.8h0M2063.5 135.3h0M2064 140.5h0M2064.6 171.7h0M2065.1 133.4h0M2065.7 173.4h0M2066.2 151.7h0M2066.7 152.5h0M2067.3 164.1h0M2067.8 150.9h0M2068.4 169.1h0M2068.9 169.5h0M2069.4 174.2h0M2070 171.2h0M2070.5 151.3h0M2071.1 165.7h0M2071.6 151h0M2072.1 134.4h0M2072.7 154.9h0M2073.2 163.6h0M2073.8 133h0M2074.3 154.2h0M2074.8 159.9h0M2075.4 176.5h0M2075.9 185.7h0M2076.5 156.6h0M2077 158.1h0M2077.5 142h0M2078.1 159.2h0M2078.6 144.2h0M2079.2 164.5h0M2079.7 143.5h0M2080.2 211h0M2080.8 160.4h0M2081.3 164.8h0M2081.9 168.1h0M2082.4 162.3h0M2082.9 151.7h0M2083.5 176.3h0M2084 165.6h0M2084.6 135.1h0M2085.1 154.1h0M2085.6 171h0M2086.2 143.1h0M2086.7 155h0M2087.3 152.5h0M2087.8 157h0M2088.3 160.8h0M2088.9 157.2h0M2089.4 175.8h0M2090 166.7h0M2090.5 177.4h0M2091 170.6h0M2091.6 168.8h0M2092.1 190.9h0M2092.7 176.4h0M2093.2 152.2h0M2093.7 168.1h0M2094.3 163.3h0M2094.8 157.7h0M2095.4 164.8h0M2095.9 175.9h0M2096.4 150.6h0M2097 136.2h0M2097.5 180.7h0M2098.1 154h0M2098.6 164.3h0M2099.1 162.4h0M2099.7 162.2h0M2100.2 169.5h0M2100.8 134.7h0M2101.3 176.7h0M2101.8 168.5h0M2102.4 168.7h0M2102.9 139.7h0M2103.5 160.1h0M2104 160.8h0M2104.5 160.4h0M2105.1 164.1h0M2105.6 150.7h0M2106.2 162.1h0M2106.7 138.3h0M2107.2 170.1h0M2107.8 140.2h0M2108.3 159.4h0M2108.9 157.5h0M2109.4 143.2h0M2109.9 137.1h0M2110.5 159.3h0M2111 134.3h0M2111.6 142.4h0M2112.1 144.1h0M2112.6 121.8h0M2113.2 156.4h0M2113.7 170.9h0M2114.3 131.7h0M2114.8 167.2h0M2115.3 152.7h0M2115.9 134h0M2116.4 143.7h0M2117 137.1h0M2117.5 147.6h0M2118 118.2h0M2118.6 168.5h0M2119.1 138.9h0M2119.7 125.5h0M2120.2 146h0M2120.7 162.4h0M2121.3 141.7h0M2121.8 160.5h0M2122.4 169.9h0M2122.9 133.3h0M2123.4 129.2h0M2124 131.2h0M2124.5 149.3h0M2125.1 164.6h0M2125.6 156.1h0M2126.1 151.5h0M2126.7 196.9h0M2127.2 228.8h0M2127.8 259.6h0M2128.3 299.1h0M2128.8 356.4h0M2129.4 453.7h0M2129.9 452h0M2130.5 454.5h0M2131 395.8h0M2131.5 330h0M2132.1 273.2h0M2132.6 222.4h0M2133.2 184.8h0M2133.7 188.3h0M2134.2 146.7h0M2134.8 179.4h0M2135.3 154.1h0M2135.9 170.8h0M2136.4 152.3h0M2136.9 170.2h0M2137.5 152h0M2138 166.6h0M2138.6 169.4h0M2139.1 175.5h0M2139.6 174.3h0M2140.2 173h0M2140.7 165.5h0M2141.3 224.2h0M2141.8 225h0M2142.3 294.6h0M2142.9 277.5h0M2143.4 358.9h0M2144 344h0M2144.5 362.1h0M2145 271.4h0M2145.6 284.5h0M2146.1 217.6h0M2146.7 209.9h0M2147.2 203.9h0M2147.7 177.8h0M2148.3 150.3h0M2148.8 167.6h0M2149.4 142.2h0M2149.9 155.4h0M2150.4 154.1h0M2151 158.2h0M2151.5 162.7h0M2152.1 125h0M2152.6 163.3h0M2153.1 174.1h0M2153.7 162.3h0M2154.2 166.9h0M2154.8 128h0M2155.3 180.1h0"/>
<g clip-path="url(#cr)">
<polyline fill="none" stroke="#000" stroke-width="2.1" stroke-linejoin="round" points="308.5,1235.9 309,1236 309.6,1240 310.1,1240.6 310.7,1254.3 311.2,1244.4 311.7,1236.4 312.3,1238.5 312.8,1242.9 313.4,1234.3 313.9,1227.1 314.4,1237.8 315,1249.7 315.5,1233.4 316.1,1224.8 316.6,1235.7 317.1,1254.4 317.7,1239.2 318.2,1245.6 318.8,1232.6 319.3,1250 319.8,1239.7 320.4,1250.9 320.9,1227 321.5,1235.5 322,1250.2 322.5,1267.5 323.1,1236.2 323.6,1249.7 324.2,1255 324.7,1259.1 325.2,1250.5 325.8,1266.4 326.3,1257.6 326.9,1254.7 327.4,1248.6 327.9,1252.7 328.5,1235 329,1250.8 329.6,1237 330.1,1232.7 330.6,1233.1 331.2,1243.5 331.7,1245.4 332.3,1218.5 332.8,1245.7 333.3,1220.9 333.9,1232.6 334.4,1225.2 335,1220 335.5,1232.4 336,1238.4 336.6,1232.7 337.1,1239.3 337.7,1253.1 338.2,1254.1 338.7,1238.8 339.3,1219.8 339.8,1227 340.4,1241.7 340.9,1237.1 341.4,1240.6 342,1223.8 342.5,1247.1 343.1,1241 343.6,1253.3 344.1,1265.9 344.7,1257 345.2,1259.3 345.8,1247 346.3,1233.8 346.8,1242.5 347.4,1243.8 347.9,1245.3 348.5,1233.9 349,1231.2 349.5,1228.6 350.1,1238.3 350.6,1240 351.2,1238.6 351.7,1247.3 352.2,1240 352.8,1214.6 353.3,1230.7 353.9,1243.1 354.4,1260.1 354.9,1250.4 355.5,1262.1 356,1245.7 356.6,1256.2 357.1,1236.6 357.6,1228.5 358.2,1243 358.7,1242.2 359.3,1244.1 359.8,1240 360.3,1257.8 360.9,1240.3 361.4,1241.5 362,1239.1 362.5,1240.9 363,1243.8 363.6,1256.1 364.1,1225 364.7,1242.8 365.2,1239.8 365.7,1234.5 366.3,1226.8 366.8,1237.7 367.4,1244.6 367.9,1256.9 368.4,1247.6 369,1244.5 369.5,1226.3 370.1,1235.3 370.6,1260.5 371.1,1251.2 371.7,1243.1 372.2,1227.9 372.8,1242.3 373.3,1240 373.8,1229 374.4,1239.9 374.9,1272.4 375.5,1266.6 376,1243.4 376.5,1245.3 377.1,1238.2 377.6,1253.9 378.2,1238.4 378.7,1236.4 379.2,1228.4 379.8,1239.9 380.3,1261.6 380.9,1239.9 381.4,1237 381.9,1267.9 382.5,1250.8 383,1241.7 383.6,1237.5 384.1,1219.2 384.6,1230.9 385.2,1232.8 385.7,1258.6 386.3,1255.3 386.8,1249.4 387.3,1221.2 387.9,1233.8 388.4,1222.8 389,1235.9 389.5,1238.5 390,1234.8 390.6,1234.4 391.1,1232.3 391.7,1234.4 392.2,1236.4 392.7,1245.3 393.3,1252.3 393.8,1240.1 394.4,1257.5 394.9,1256 395.4,1250.8 396,1232.1 396.5,1227.3 397.1,1242.5 397.6,1258.1 398.1,1245.7 398.7,1230 399.2,1231.3 399.8,1232.8 400.3,1241 400.8,1226.4 401.4,1216.5 401.9,1219.2 402.5,1255.6 403,1251.2 403.5,1223 404.1,1234.1 404.6,1233.1 405.2,1242.5 405.7,1243.8 406.2,1250.5 406.8,1234 407.3,1248.6 407.9,1256.6 408.4,1249.6 408.9,1235.5 409.5,1239.5 410,1241.4 410.6,1254.7 411.1,1246.7 411.6,1239.6 412.2,1241 412.7,1247.8 413.3,1239.9 413.8,1246.5 414.3,1260.4 414.9,1241.5 415.4,1251.6 416,1232.5 416.5,1243.9 417,1241.6 417.6,1229.5 418.1,1219.9 418.7,1204.3 419.2,1219 419.7,1254.7 420.3,1253.5 420.8,1227.5 421.4,1246.1 421.9,1235.3 422.4,1234.6 423,1251.5 423.5,1246.4 424.1,1222.6 424.6,1233.9 425.1,1246.8 425.7,1238.6 426.2,1242.3 426.8,1240.3 427.3,1220.9 427.8,1231.8 428.4,1229.8 428.9,1239.4 429.5,1250.5 430,1239.9 430.5,1238.1 431.1,1238.6 431.6,1249.4 432.2,1257.5 432.7,1243.5 433.2,1244.7 433.8,1232.8 434.3,1233 434.9,1229.4 435.4,1236.4 435.9,1213.7 436.5,1234 437,1230.8 437.6,1234.8 438.1,1234.1 438.6,1221.8 439.2,1234.6 439.7,1235.9 440.3,1229.1 440.8,1223.7 441.3,1237.7 441.9,1266.3 442.4,1239.6 443,1235.3 443.5,1229 444,1214.9 444.6,1221.7 445.1,1238 445.7,1255.2 446.2,1256.5 446.7,1233.9 447.3,1263.5 447.8,1253.4 448.4,1245.9 448.9,1228.1 449.4,1206.5 450,1215.3 450.5,1240.2 451.1,1246.2 451.6,1241.5 452.1,1264.6 452.7,1237.7 453.2,1238.4 453.8,1237.1 454.3,1253.5 454.8,1246 455.4,1222.3 455.9,1227.6 456.5,1242 457,1252 457.5,1245.5 458.1,1245.5 458.6,1247.3 459.2,1243.2 459.7,1248.5 460.2,1248.6 460.8,1240.5 461.3,1232.1 461.9,1220.1 462.4,1224.6 462.9,1225.2 463.5,1214.3 464,1232.2 464.6,1253.1 465.1,1254.8 465.6,1220.1 466.2,1224.7 466.7,1204.8 467.3,1218.2 467.8,1223.9 468.3,1234.3 468.9,1247.1 469.4,1249.1 470,1259.1 470.5,1246.5 471,1239.4 471.6,1243.7 472.1,1253.9 472.7,1246.8 473.2,1229.7 473.7,1229.8 474.3,1245.6 474.8,1253 475.4,1253.7 475.9,1232.9 476.4,1252.5 477,1265.2 477.5,1267.4 478.1,1273.1 478.6,1254.4 479.1,1256.1 479.7,1243.2 480.2,1258.9 480.8,1241.3 481.3,1257.2 481.8,1239.2 482.4,1223 482.9,1231.6 483.5,1244 484,1236.3 484.5,1243.2 485.1,1267.7 485.6,1261.9 486.2,1243.1 486.7,1239.2 487.2,1237.2 487.8,1235.1 488.3,1245.6 488.9,1278.5 489.4,1271.9 489.9,1246.9 490.5,1244.4 491,1227.7 491.6,1226.4 492.1,1229.9 492.6,1220.8 493.2,1206.2 493.7,1237.7 494.3,1244.8 494.8,1259.8 495.3,1249.4 495.9,1236.8 496.4,1238.9 497,1241.1 497.5,1241.7 498,1234.5 498.6,1230.5 499.1,1232.8 499.7,1245.8 500.2,1262.4 500.7,1263.8 501.3,1230.7 501.8,1238.6 502.4,1234.5 502.9,1242.4 503.4,1232 504,1237.3 504.5,1241.1 505.1,1253.9 505.6,1238.4 506.1,1252.2 506.7,1262.2 507.2,1252.5 507.8,1231.6 508.3,1244.2 508.8,1255.2 509.4,1225.4 509.9,1234.7 510.5,1220.7 511,1219.8 511.5,1245.3 512.1,1240.4 512.6,1244.4 513.2,1227.3 513.7,1230.1 514.2,1250.5 514.8,1246.4 515.3,1241.5 515.9,1226.6 516.4,1240.2 516.9,1225.7 517.5,1235.1 518,1231.9 518.6,1232.7 519.1,1242.4 519.6,1238.3 520.2,1248.1 520.7,1228.9 521.3,1219.2 521.8,1244.8 522.3,1246 522.9,1242.3 523.4,1242.1 524,1244.6 524.5,1242.1 525,1261 525.6,1252.1 526.1,1222.2 526.7,1227.7 527.2,1240.3 527.7,1234.8 528.3,1220.8 528.8,1232.3 529.4,1254.8 529.9,1226.5 530.4,1221.8 531,1219 531.5,1239.4 532.1,1238 532.6,1254.3 533.1,1232.1 533.7,1241.7 534.2,1216.8 534.8,1213.8 535.3,1215.5 535.8,1240.9 536.4,1241.1 536.9,1235.4 537.5,1246.5 538,1232.5 538.5,1231 539.1,1241.3 539.6,1253.3 540.2,1262.2 540.7,1266.1 541.2,1264.3 541.8,1252.8 542.3,1235.6 542.9,1239.1 543.4,1240.9 543.9,1227.7 544.5,1220.9 545,1245.2 545.6,1230.7 546.1,1236.2 546.6,1248.9 547.2,1241.1 547.7,1261 548.3,1246.7 548.8,1254.2 549.3,1237.8 549.9,1237 550.4,1242.8 551,1220.3 551.5,1225.8 552,1219.6 552.6,1237.5 553.1,1244.2 553.7,1246.8 554.2,1238.2 554.7,1245.1 555.3,1245.2 555.8,1230.4 556.4,1245.3 556.9,1247.4 557.4,1239.7 558,1222.7 558.5,1221 559.1,1224.5 559.6,1260 560.1,1295.2 560.7,1248.2 561.2,1240.5 561.8,1228.6 562.3,1233.1 562.8,1244.5 563.4,1237.3 563.9,1261.7 564.5,1227.2 565,1247.4 565.5,1261.5 566.1,1258.8 566.6,1239.7 567.2,1233.2 567.7,1230.2 568.2,1227.5 568.8,1239.5 569.3,1252.5 569.9,1242.2 570.4,1252.2 570.9,1249.5 571.5,1242.6 572,1252.6 572.6,1236.3 573.1,1233.1 573.6,1236.9 574.2,1255.8 574.7,1258.1 575.3,1247.1 575.8,1262.5 576.3,1240.7 576.9,1235.2 577.4,1219.4 578,1238.5 578.5,1238.4 579,1241.1 579.6,1232.1 580.1,1232.6 580.7,1234.4 581.2,1246.1 581.7,1243.1 582.3,1248.2 582.8,1236.7 583.4,1251.4 583.9,1249.4 584.4,1271.2 585,1262.1 585.5,1247.7 586.1,1239.6 586.6,1243.3 587.1,1230.4 587.7,1248.2 588.2,1259 588.8,1246.6 589.3,1234 589.8,1238.2 590.4,1238.8 590.9,1247.3 591.5,1232.4 592,1234.2 592.5,1231.2 593.1,1234.9 593.6,1242.2 594.2,1243.7 594.7,1239.4 595.2,1241.1 595.8,1226.3 596.3,1237.1 596.9,1255.6 597.4,1249.2 597.9,1254.1 598.5,1237.6 599,1254.7 599.6,1274.3 600.1,1241.8 600.6,1237.9 601.2,1243.3 601.7,1251.5 602.3,1237.2 602.8,1241.2 603.3,1241 603.9,1260.1 604.4,1250.2 605,1253.1 605.5,1251.1 606,1254.3 606.6,1269.9 607.1,1272 607.7,1259.8 608.2,1261.2 608.7,1243.4 609.3,1237.9 609.8,1241.5 610.4,1236.2 610.9,1244.2 611.4,1248.9 612,1246.9 612.5,1236.4 613.1,1250.9 613.6,1264.5 614.1,1240 614.7,1240.2 615.2,1244.9 615.8,1246.1 616.3,1248.1 616.8,1221.8 617.4,1218.2 617.9,1234.4 618.5,1232.4 619,1249.7 619.5,1248.2 620.1,1238.9 620.6,1232.3 621.2,1222.7 621.7,1232.1 622.2,1220.3 622.8,1230.3 623.3,1241.9 623.9,1253.2 624.4,1261 624.9,1254.4 625.5,1255.2 626,1250.9 626.6,1251 627.1,1252.7 627.6,1251.4 628.2,1267.2 628.7,1242.1 629.3,1253.9 629.8,1238.7 630.3,1237.8 630.9,1240.6 631.4,1249.5 632,1262.6 632.5,1266.3 633,1239.5 633.6,1231.3 634.1,1223.7 634.7,1229 635.2,1230.7 635.7,1229 636.3,1253.7 636.8,1261.6 637.4,1257.7 637.9,1247.2 638.4,1231.6 639,1239.6 639.5,1233.9 640.1,1239.5 640.6,1255.5 641.1,1234.3 641.7,1234.2 642.2,1233.3 642.8,1238.1 643.3,1240.3 643.8,1241.2 644.4,1227.3 644.9,1236.8 645.5,1240.7 646,1226.2 646.5,1227.3 647.1,1229.9 647.6,1242.5 648.2,1246.2 648.7,1234.5 649.2,1224.9 649.8,1229.4 650.3,1225.2 650.9,1235.8 651.4,1227 651.9,1234.5 652.5,1234 653,1230.6 653.6,1245.9 654.1,1233.3 654.6,1226.1 655.2,1250.8 655.7,1250.5 656.3,1223 656.8,1215.7 657.3,1223.6 657.9,1246.6 658.4,1232.2 659,1236.5 659.5,1231.3 660,1238.5 660.6,1245.4 661.1,1221.9 661.7,1229.9 662.2,1233.5 662.7,1250.5 663.3,1247.8 663.8,1252.7 664.4,1246.3 664.9,1235.8 665.4,1242.7 666,1244.2 666.5,1221.3 667.1,1208.8 667.6,1208.7 668.1,1228.9 668.7,1238.2 669.2,1235.3 669.8,1240.4 670.3,1236.3 670.8,1218.3 671.4,1214 671.9,1225.3 672.5,1235.8 673,1240.9 673.5,1244.2 674.1,1264.4 674.6,1246.4 675.2,1237.7 675.7,1239 676.2,1224.4 676.8,1225.4 677.3,1219.9 677.9,1230.2 678.4,1239.5 678.9,1222.2 679.5,1231.7 680,1244.1 680.6,1244.2 681.1,1238.3 681.6,1223.6 682.2,1225.4 682.7,1230.2 683.3,1240.3 683.8,1229.5 684.3,1232.7 684.9,1235.2 685.4,1237.1 686,1221 686.5,1228.8 687,1236.9 687.6,1239.1 688.1,1232.9 688.7,1229.6 689.2,1230.7 689.7,1218.8 690.3,1214.9 690.8,1222.3 691.4,1213.6 691.9,1235.6 692.4,1234.7 693,1239.8 693.5,1241.7 694.1,1234.9 694.6,1237 695.1,1239.5 695.7,1225.5 696.2,1237.8 696.8,1248.1 697.3,1255.5 697.8,1238.3 698.4,1247.5 698.9,1230.7 699.5,1239.5 700,1224.4 700.5,1218 701.1,1231.3 701.6,1245.2 702.2,1244.7 702.7,1250.2 703.2,1240.6 703.8,1240.6 704.3,1251.4 704.9,1248.2 705.4,1270.4 705.9,1261.2 706.5,1254.9 707,1251.9 707.6,1239.3 708.1,1240.3 708.6,1240.1 709.2,1251.3 709.7,1237.8 710.3,1237.4 710.8,1234.7 711.3,1225.6 711.9,1241 712.4,1249.9 713,1223.3 713.5,1241.3 714,1243.4 714.6,1246.6 715.1,1224 715.7,1232.9 716.2,1242.5 716.7,1240.2 717.3,1239 717.8,1213.6 718.4,1226.2 718.9,1242 719.4,1248.8 720,1232 720.5,1230.9 721.1,1228 721.6,1214.8 722.1,1219.8 722.7,1225.1 723.2,1234.4 723.8,1245.1 724.3,1239.9 724.8,1233.3 725.4,1234 725.9,1253.2 726.5,1247.9 727,1256.1 727.5,1243.6 728.1,1237.8 728.6,1233.2 729.2,1253.3 729.7,1238.6 730.2,1242.7 730.8,1234.5 731.3,1231.2 731.9,1242.4 732.4,1255.8 732.9,1244.4 733.5,1252.5 734,1240.2 734.6,1242.8 735.1,1255.3 735.6,1268.9 736.2,1264.8 736.7,1251.9 737.3,1239.7 737.8,1232.7 738.3,1254.8 738.9,1234 739.4,1233.4 740,1240.7 740.5,1236.5 741,1250.3 741.6,1251.3 742.1,1252.4 742.7,1238.3 743.2,1252.1 743.7,1248.9 744.3,1257.1 744.8,1246.5 745.4,1246.3 745.9,1262.5 746.4,1268.1 747,1275.8 747.5,1264.5 748.1,1269.9 748.6,1245.4 749.1,1235.5 749.7,1254.7 750.2,1252.8 750.8,1239.8 751.3,1244 751.8,1238.8 752.4,1252.2 752.9,1251 753.5,1260.7 754,1265.6 754.5,1255.7 755.1,1241.7 755.6,1244.4 756.2,1267 756.7,1261.2 757.2,1246.7 757.8,1237 758.3,1242 758.9,1245.7 759.4,1257.6 759.9,1249.8 760.5,1249.1 761,1245.7 761.6,1244 762.1,1238.3 762.6,1238.5 763.2,1232.1 763.7,1240.3 764.3,1257.6 764.8,1260.4 765.3,1245.8 765.9,1248.7 766.4,1244.6 767,1277.6 767.5,1293.9 768,1261.9 768.6,1266.7 769.1,1265.3 769.7,1254.3 770.2,1250.2 770.7,1233.1 771.3,1240.6 771.8,1253.8 772.4,1253.8 772.9,1252.5 773.4,1240.3 774,1240.2 774.5,1245.4 775.1,1246.5 775.6,1249.9 776.1,1250.2 776.7,1248.9 777.2,1253.9 777.8,1239.7 778.3,1246.1 778.8,1243.3 779.4,1240.7 779.9,1248.9 780.5,1244.6 781,1254.2 781.5,1231.8 782.1,1225.6 782.6,1235.9 783.2,1234.7 783.7,1244.5 784.2,1223.9 784.8,1240.6 785.3,1248.7 785.9,1236.6 786.4,1239.9 786.9,1241.2 787.5,1234.9 788,1228.7 788.6,1231.7 789.1,1246.1 789.6,1253.4 790.2,1242.9 790.7,1241.8 791.3,1240.9 791.8,1242.9 792.3,1241.4 792.9,1239.1 793.4,1236.2 794,1246.4 794.5,1224.2 795,1208.1 795.6,1222.2 796.1,1242.8 796.7,1247.2 797.2,1240.8 797.7,1232.1 798.3,1234.9 798.8,1250.1 799.4,1230.8 799.9,1237.2 800.4,1220.9 801,1226.2 801.5,1238 802.1,1257.9 802.6,1258.3 803.1,1263.1 803.7,1237.6 804.2,1240.9 804.8,1250.1 805.3,1240 805.8,1244.9 806.4,1260.2 806.9,1247.8 807.5,1252.6 808,1247.8 808.5,1250.4 809.1,1239.5 809.6,1225.9 810.2,1236.6 810.7,1228.2 811.2,1250.9 811.8,1249 812.3,1230.6 812.9,1235.3 813.4,1239.6 813.9,1232.8 814.5,1228 815,1224.6 815.6,1241.7 816.1,1240.4 816.6,1236.6 817.2,1254.4 817.7,1242.5 818.3,1238.5 818.8,1235.8 819.3,1239.7 819.9,1241 820.4,1246.3 821,1253.4 821.5,1259.5 822,1251.3 822.6,1254.8 823.1,1247.9 823.7,1233.5 824.2,1231.2 824.7,1220.4 825.3,1231.2 825.8,1216.8 826.4,1239.5 826.9,1228.7 827.4,1232.8 828,1250.7 828.5,1250.8 829.1,1226.4 829.6,1222.7 830.1,1233.3 830.7,1236.5 831.2,1242.2 831.8,1242.6 832.3,1256.6 832.8,1245.3 833.4,1261.2 833.9,1239.1 834.5,1236.1 835,1224.9 835.5,1254.1 836.1,1257.4 836.6,1245.5 837.2,1253 837.7,1244.3 838.2,1252.9 838.8,1247.8 839.3,1242.1 839.9,1235.4 840.4,1235 840.9,1237.4 841.5,1248.8 842,1262.3 842.6,1265.9 843.1,1266.1 843.6,1270.5 844.2,1276.5 844.7,1286.9 845.3,1315.8 845.8,1279.4 846.3,1256.7 846.9,1256.3 847.4,1242.7 848,1261 848.5,1249.4 849,1233.8 849.6,1239.1 850.1,1217.3 850.7,1232.1 851.2,1240.2 851.7,1238.2 852.3,1239.6 852.8,1240.1 853.4,1235.3 853.9,1230.1 854.4,1221.3 855,1222.4 855.5,1254.3 856.1,1237.6 856.6,1252.9 857.1,1231 857.7,1234.2 858.2,1230.8 858.8,1238.5 859.3,1238.5 859.8,1250.6 860.4,1244.6 860.9,1234.5 861.5,1237.9 862,1241.4 862.5,1226 863.1,1243.1 863.6,1238 864.2,1249.5 864.7,1240.3 865.2,1247.8 865.8,1253.4 866.3,1247.7 866.9,1243.2 867.4,1258.1 867.9,1239.5 868.5,1262.2 869,1242.8 869.6,1254.6 870.1,1240.7 870.6,1255.1 871.2,1222.5 871.7,1238.9 872.3,1231.6 872.8,1232.7 873.3,1246.1 873.9,1259.3 874.4,1237.4 875,1251.3 875.5,1233.1 876,1234.3 876.6,1242.4 877.1,1256.8 877.7,1259.3 878.2,1250 878.7,1255.7 879.3,1258.7 879.8,1256.7 880.4,1245.4 880.9,1233.9 881.4,1236.9 882,1243.4 882.5,1244.6 883.1,1240.3 883.6,1254.2 884.1,1238.7 884.7,1254.3 885.2,1245 885.8,1244.9 886.3,1239.8 886.8,1246 887.4,1233.8 887.9,1242.8 888.5,1260.9 889,1253 889.5,1226.4 890.1,1233.3 890.6,1224.2 891.2,1252.9 891.7,1258.5 892.2,1249.6 892.8,1246.5 893.3,1240.8 893.9,1250.9 894.4,1267.2 894.9,1263.9 895.5,1293.3 896,1272.9 896.6,1253.6 897.1,1251.9 897.6,1246.5 898.2,1253.7 898.7,1251.7 899.3,1260.9 899.8,1254 900.3,1296.5 900.9,1224.4 901.4,1215.4 902,1237.8 902.5,1297.4 903,1234.4 903.6,1235.2 904.1,1234.6 904.7,1291.5 905.2,1264 905.7,1257 906.3,1246.3 906.8,1261.9 907.4,1274.7 907.9,1263.5 908.4,1261.5 909,1257.1 909.5,1253.1 910.1,1256 910.6,1251.9 911.1,1252 911.7,1260.4 912.2,1253.2 912.8,1238.7 913.3,1240.1 913.8,1247.1 914.4,1252.5 914.9,1264.5 915.5,1234.9 916,1240.9 916.5,1238.5 917.1,1246.3 917.6,1231.3 918.2,1226.2 918.7,1239.5 919.2,1231.8 919.8,1264 920.3,1270.2 920.9,1253.6 921.4,1252.7 921.9,1245 922.5,1244.5 923,1241.2 923.6,1232.8 924.1,1241.2 924.6,1239.2 925.2,1250.1 925.7,1241 926.3,1221.8 926.8,1219.8 927.3,1221.1 927.9,1226.5 928.4,1219.5 929,1247.7 929.5,1261.3 930,1261.2 930.6,1247.7 931.1,1249.8 931.7,1247.2 932.2,1243.6 932.7,1228.5 933.3,1251 933.8,1250.9 934.4,1252.9 934.9,1239 935.4,1234.4 936,1232.9 936.5,1240.8 937.1,1240.6 937.6,1239.5 938.1,1241.5 938.7,1254.3 939.2,1264.4 939.8,1263.9 940.3,1249.6 940.8,1238.1 941.4,1260.1 941.9,1260.6 942.5,1268.1 943,1253.3 943.5,1236.1 944.1,1252.3 944.6,1246.7 945.2,1241.2 945.7,1247.1 946.2,1247.4 946.8,1247 947.3,1248.2 947.9,1244.9 948.4,1244.5 948.9,1232.7 949.5,1239.4 950,1243.6 950.6,1241.4 951.1,1240.3 951.6,1226.8 952.2,1240 952.7,1234.4 953.3,1237.2 953.8,1230.5 954.3,1225 954.9,1229.3 955.4,1246 956,1239.6 956.5,1254.5 957,1234.5 957.6,1250.2 958.1,1243.2 958.7,1245.6 959.2,1243.5 959.7,1239 960.3,1242.5 960.8,1248.6 961.4,1256.2 961.9,1253.1 962.4,1254.4 963,1246.8 963.5,1254.7 964.1,1246.8 964.6,1233.1 965.1,1238.7 965.7,1244.2 966.2,1251.5 966.8,1270.1 967.3,1267.2 967.8,1243.2 968.4,1225.7 968.9,1240.5 969.5,1238 970,1241.6 970.5,1242.3 971.1,1246.8 971.6,1238.5 972.2,1239.2 972.7,1238.3 973.2,1228.1 973.8,1243.5 974.3,1241.8 974.9,1230.6 975.4,1224.8 975.9,1217.1 976.5,1222.8 977,1242.3 977.6,1245 978.1,1246.9 978.6,1262.1 979.2,1249.5 979.7,1242 980.3,1235.3 980.8,1228.6 981.3,1226.6 981.9,1236.5 982.4,1248.5 983,1264.2 983.5,1255.7 984,1240.4 984.6,1242.3 985.1,1237.9 985.7,1235.4 986.2,1244.4 986.7,1252.2 987.3,1231.4 987.8,1241.6 988.4,1235.1 988.9,1221.8 989.4,1238 990,1243.3 990.5,1223 991.1,1236.6 991.6,1255.3 992.1,1248.6 992.7,1235.5 993.2,1244.7 993.8,1238.2 994.3,1244.7 994.8,1220.5 995.4,1239.2 995.9,1225 996.5,1236.3 997,1238.2 997.5,1227.2 998.1,1234.3 998.6,1234.7 999.2,1251.9 999.7,1257.6 1000.2,1258.1 1000.8,1261.5 1001.3,1254.9 1001.9,1247.3 1002.4,1240.2 1002.9,1237.9 1003.5,1227.8 1004,1248 1004.6,1258.6 1005.1,1270.5 1005.6,1275.8 1006.2,1254.7 1006.7,1256.8 1007.3,1237.3 1007.8,1233.4 1008.3,1242.6 1008.9,1258.4 1009.4,1253 1010,1247.3 1010.5,1241.6 1011,1258.3 1011.6,1259.3 1012.1,1248 1012.7,1235.6 1013.2,1249.9 1013.7,1258.7 1014.3,1260 1014.8,1256 1015.4,1243.4 1015.9,1241.4 1016.4,1250.9 1017,1268.7 1017.5,1250.3 1018.1,1236.1 1018.6,1234.9 1019.1,1243.8 1019.7,1263.7 1020.2,1248.2 1020.8,1247 1021.3,1237.9 1021.8,1242.3 1022.4,1229.9 1022.9,1237.1 1023.5,1229 1024,1236.2 1024.5,1257.3 1025.1,1252.3 1025.6,1261.7 1026.2,1242.6 1026.7,1245.4 1027.2,1250.2 1027.8,1234.8 1028.3,1239.1 1028.9,1246.3 1029.4,1233.3 1029.9,1237.3 1030.5,1244 1031,1242.2 1031.6,1238.3 1032.1,1235 1032.6,1230.8 1033.2,1236.4 1033.7,1252.7 1034.3,1256.9 1034.8,1253.5 1035.3,1255.5 1035.9,1249 1036.4,1245.7 1037,1266.9 1037.5,1257.4 1038,1257.6 1038.6,1255.4 1039.1,1253.1 1039.7,1233.6 1040.2,1298.7 1040.7,1248.4 1041.3,1241.1 1041.8,1247.2 1042.4,1232.4 1042.9,1216.8 1043.4,1227.3 1044,1237.8 1044.5,1237.9 1045.1,1239.7 1045.6,1251 1046.1,1269 1046.7,1253.6 1047.2,1242.5 1047.8,1250.4 1048.3,1265.3 1048.8,1252.6 1049.4,1247.3 1049.9,1259.4 1050.5,1243.5 1051,1219.2 1051.5,1238.1 1052.1,1247 1052.6,1237.6 1053.2,1225.2 1053.7,1217.4 1054.2,1245.4 1054.8,1231.1 1055.3,1252.6 1055.9,1241.2 1056.4,1228.9 1056.9,1228.6 1057.5,1229.8 1058,1253.4 1058.6,1255.7 1059.1,1257 1059.6,1256.3 1060.2,1223.8 1060.7,1236.2 1061.3,1234.1 1061.8,1245.8 1062.3,1228.6 1062.9,1236.7 1063.4,1234.4 1064,1242.2 1064.5,1264 1065,1258.3 1065.6,1271.1 1066.1,1250 1066.7,1235.6 1067.2,1249.7 1067.7,1245.4 1068.3,1237.9 1068.8,1223.9 1069.4,1226.3 1069.9,1244.6 1070.4,1243.4 1071,1248 1071.5,1237.3 1072.1,1232.1 1072.6,1251 1073.1,1248.1 1073.7,1251.2 1074.2,1246.6 1074.8,1239.3 1075.3,1253.5 1075.8,1247.9 1076.4,1250.8 1076.9,1249.6 1077.5,1247.5 1078,1223.6 1078.5,1217.4 1079.1,1227.9 1079.6,1235.1 1080.2,1233.6 1080.7,1224 1081.2,1222.5 1081.8,1219.4 1082.3,1232.7 1082.9,1237.9 1083.4,1261.2 1083.9,1272.4 1084.5,1267.7 1085,1248 1085.6,1249.4 1086.1,1235.8 1086.6,1234.9 1087.2,1230.7 1087.7,1230.8 1088.3,1229.1 1088.8,1229.6 1089.3,1239.7 1089.9,1234.7 1090.4,1234.7 1091,1242.1 1091.5,1245.8 1092,1233.9 1092.6,1247.7 1093.1,1229.4 1093.7,1234.8 1094.2,1241 1094.7,1224.6 1095.3,1243.4 1095.8,1245.4 1096.4,1237.5 1096.9,1229.5 1097.4,1223.2 1098,1237.1 1098.5,1243.5 1099.1,1233.4 1099.6,1241.2 1100.1,1233.4 1100.7,1242.9 1101.2,1221.2 1101.8,1234 1102.3,1237.5 1102.8,1252.9 1103.4,1259.2 1103.9,1247 1104.5,1280.8 1105,1287.1 1105.5,1287.8 1106.1,1273.2 1106.6,1265.4 1107.2,1247.1 1107.7,1232 1108.2,1239.7 1108.8,1239.5 1109.3,1239.5 1109.9,1235.5 1110.4,1228.7 1110.9,1232.6 1111.5,1225.7 1112,1231.9 1112.6,1247.3 1113.1,1249.9 1113.6,1243.5 1114.2,1248.5 1114.7,1233.5 1115.3,1244.7 1115.8,1238.1 1116.3,1238.4 1116.9,1237.4 1117.4,1242.5 1118,1243.4 1118.5,1253.4 1119,1240.8 1119.6,1254.8 1120.1,1238.2 1120.7,1253.3 1121.2,1251.8 1121.7,1257.3 1122.3,1233.5 1122.8,1230.9 1123.4,1250.4 1123.9,1241.4 1124.4,1239.7 1125,1251.3 1125.5,1230.2 1126.1,1232 1126.6,1248.9 1127.1,1245.1 1127.7,1280.7 1128.2,1277.1 1128.8,1276.3 1129.3,1289.1 1129.8,1292.5 1130.4,1291.5 1130.9,1288.6 1131.5,1337.5 1132,1261.5 1132.5,1258.8 1133.1,1247.5 1133.6,1248.2 1134.2,1228.6 1134.7,1236.5 1135.2,1253.4 1135.8,1245.5 1136.3,1253.1 1136.9,1267.7 1137.4,1236.5 1137.9,1246.9 1138.5,1244.9 1139,1239.1 1139.6,1256.8 1140.1,1232.2 1140.6,1217.8 1141.2,1229.9 1141.7,1241.2 1142.3,1258.3 1142.8,1247.2 1143.3,1237.8 1143.9,1234 1144.4,1234.2 1145,1244.7 1145.5,1228.2 1146,1238.5 1146.6,1258.1 1147.1,1243.8 1147.7,1242 1148.2,1228.9 1148.7,1226.2 1149.3,1243.9 1149.8,1244.1 1150.4,1230.1 1150.9,1237.3 1151.4,1235.8 1152,1234.6 1152.5,1252.9 1153.1,1246.4 1153.6,1238 1154.1,1238.2 1154.7,1240.8 1155.2,1242.8 1155.8,1240.3 1156.3,1239.5 1156.8,1232.8 1157.4,1230.9 1157.9,1236.7 1158.5,1242.2 1159,1244.8 1159.5,1245.9 1160.1,1240.2 1160.6,1240.1 1161.2,1233.3 1161.7,1242.6 1162.2,1249.6 1162.8,1245.6 1163.3,1251.4 1163.9,1251 1164.4,1243.8 1164.9,1241.9 1165.5,1249.9 1166,1251.3 1166.6,1268.3 1167.1,1275.4 1167.6,1278.6 1168.2,1289.7 1168.7,1289.5 1169.3,1285.5 1169.8,1266.2 1170.3,1280.8 1170.9,1256.3 1171.4,1253.6 1172,1254.4 1172.5,1266.9 1173,1270 1173.6,1241.3 1174.1,1257.3 1174.7,1261.1 1175.2,1263.6 1175.7,1269.9 1176.3,1256.5 1176.8,1253.5 1177.4,1249.4 1177.9,1241.8 1178.4,1232.5 1179,1241.1 1179.5,1244.7 1180.1,1241.5 1180.6,1230.5 1181.1,1254.7 1181.7,1247.7 1182.2,1298.7 1182.8,1249.7 1183.3,1253.2 1183.8,1247.5 1184.4,1242.7 1184.9,1264 1185.5,1243.9 1186,1239.7 1186.5,1238.5 1187.1,1221.2 1187.6,1224.4 1188.2,1231.9 1188.7,1247.9 1189.2,1253.2 1189.8,1253.8 1190.3,1240.4 1190.9,1218.2 1191.4,1249.3 1191.9,1252 1192.5,1231.9 1193,1239.7 1193.6,1243.7 1194.1,1252.6 1194.6,1253.1 1195.2,1240.4 1195.7,1230 1196.3,1241.3 1196.8,1243.2 1197.3,1254.2 1197.9,1247.6 1198.4,1243.2 1199,1237 1199.5,1229.7 1200,1226.3 1200.6,1220.1 1201.1,1233.9 1201.7,1255.7 1202.2,1269.1 1202.7,1313.1 1203.3,1266 1203.8,1254.3 1204.4,1272.4 1204.9,1264.1 1205.4,1261.2 1206,1261.4 1206.5,1256.3 1207.1,1257.3 1207.6,1247.3 1208.1,1242.2 1208.7,1247.1 1209.2,1241.2 1209.8,1251.7 1210.3,1253.9 1210.8,1255.9 1211.4,1258.9 1211.9,1253.8 1212.5,1240.4 1213,1249 1213.5,1236.2 1214.1,1230.4 1214.6,1248.6 1215.2,1247 1215.7,1242.8 1216.2,1246.7 1216.8,1246.8 1217.3,1229.9 1217.9,1227.1 1218.4,1227.7 1218.9,1223.2 1219.5,1249.6 1220,1243.2 1220.6,1253.9 1221.1,1244.6 1221.6,1250.4 1222.2,1247.4 1222.7,1240.1 1223.3,1250.1 1223.8,1243.9 1224.3,1233.2 1224.9,1242.1 1225.4,1241.7 1226,1257.6 1226.5,1257.1 1227,1243.1 1227.6,1257.8 1228.1,1258.9 1228.7,1264.5 1229.2,1254.1 1229.7,1246.6 1230.3,1237.8 1230.8,1248.5 1231.4,1233.3 1231.9,1228.5 1232.4,1217.9 1233,1221.1 1233.5,1240.8 1234.1,1241.2 1234.6,1233.4 1235.1,1233 1235.7,1246.3 1236.2,1250.9 1236.8,1253.6 1237.3,1267.6 1237.8,1251.7 1238.4,1252.5 1238.9,1249.1 1239.5,1272.5 1240,1242 1240.5,1239.3 1241.1,1256.3 1241.6,1251.4 1242.2,1258.9 1242.7,1247.8 1243.2,1249.5 1243.8,1229 1244.3,1247 1244.9,1233.5 1245.4,1243.7 1245.9,1222.7 1246.5,1229 1247,1241.5 1247.6,1227.9 1248.1,1247.6 1248.6,1241.9 1249.2,1247.8 1249.7,1244.7 1250.3,1240 1250.8,1245.1 1251.3,1252.4 1251.9,1270.8 1252.4,1239.1 1253,1229.1 1253.5,1222.9 1254,1228.4 1254.6,1247.4 1255.1,1245.1 1255.7,1247.6 1256.2,1244.7 1256.7,1293.3 1257.3,1251.5 1257.8,1240.1 1258.4,1259.5 1258.9,1259.8 1259.4,1248.8 1260,1225.9 1260.5,1235.4 1261.1,1241 1261.6,1222.7 1262.1,1221.7 1262.7,1246.4 1263.2,1247.2 1263.8,1237.7 1264.3,1238.5 1264.8,1244.6 1265.4,1248.4 1265.9,1251.8 1266.5,1256.1 1267,1244 1267.5,1223.1 1268.1,1234.4 1268.6,1241.8 1269.2,1229.6 1269.7,1240.1 1270.2,1232.7 1270.8,1244.7 1271.3,1250.2 1271.9,1236.6 1272.4,1231.2 1272.9,1229.8 1273.5,1249.3 1274,1242.1 1274.6,1257 1275.1,1236.6 1275.6,1245.3 1276.2,1240.4 1276.7,1247.8 1277.3,1245.5 1277.8,1238 1278.3,1250.2 1278.9,1232.7 1279.4,1239.4 1280,1238.4 1280.5,1230.9 1281,1227.8 1281.6,1233.9 1282.1,1224.1 1282.7,1235.8 1283.2,1249 1283.7,1237.1 1284.3,1243.7 1284.8,1253.4 1285.4,1244.4 1285.9,1238.1 1286.4,1227.5 1287,1252.1 1287.5,1257.9 1288.1,1248.8 1288.6,1250.9 1289.1,1246.3 1289.7,1232.1 1290.2,1238.4 1290.8,1251.5 1291.3,1236.8 1291.8,1256.2 1292.4,1247.8 1292.9,1239.7 1293.5,1246.9 1294,1253.4 1294.5,1254.2 1295.1,1238.3 1295.6,1239.4 1296.2,1239.1 1296.7,1262 1297.2,1253.9 1297.8,1264.8 1298.3,1264.4 1298.9,1270.3 1299.4,1286.3 1299.9,1283 1300.5,1277.7 1301,1286.5 1301.6,1279 1302.1,1260.7 1302.6,1168.7 1303.2,1239.9 1303.7,1362.2 1304.3,1237.4 1304.8,1230.2 1305.3,1221.6 1305.9,1234 1306.4,1247.4 1307,1232.5 1307.5,1244.6 1308,1243.6 1308.6,1243.8 1309.1,1233.6 1309.7,1230.3 1310.2,1221.7 1310.7,1232.7 1311.3,1237.5 1311.8,1231.4 1312.4,1228.6 1312.9,1234.2 1313.4,1248.5 1314,1233.2 1314.5,1231.6 1315.1,1228.6 1315.6,1240.7 1316.1,1230.7 1316.7,1228 1317.2,1311.4 1317.8,1255.2 1318.3,1263 1318.8,1264.6 1319.4,1258.1 1319.9,1255.2 1320.5,1237.5 1321,1230.1 1321.5,1219.8 1322.1,1229.8 1322.6,1223.8 1323.2,1248.1 1323.7,1236.2 1324.2,1234.6 1324.8,1241.7 1325.3,1231.1 1325.9,1239.9 1326.4,1244.4 1326.9,1238.5 1327.5,1244.1 1328,1239.2 1328.6,1241.5 1329.1,1225.3 1329.6,1235.4 1330.2,1246.2 1330.7,1244.8 1331.3,1254.1 1331.8,1249.3 1332.3,1255.7 1332.9,1244.6 1333.4,1250 1334,1260.9 1334.5,1245.8 1335,1248.7 1335.6,1256.5 1336.1,1248.3 1336.7,1225.8 1337.2,1243.7 1337.7,1262.3 1338.3,1255.5 1338.8,1240.3 1339.4,1251.4 1339.9,1251.8 1340.4,1234.7 1341,1239.8 1341.5,1254.7 1342.1,1270.1 1342.6,1237.4 1343.1,1244.2 1343.7,1245.1 1344.2,1254.2 1344.8,1240.6 1345.3,1232.1 1345.8,1241.1 1346.4,1236.8 1346.9,1239.7 1347.5,1228.6 1348,1241.9 1348.5,1232.3 1349.1,1248.2 1349.6,1249.8 1350.2,1241.3 1350.7,1239.2 1351.2,1248.8 1351.8,1237.6 1352.3,1244.2 1352.9,1230.3 1353.4,1238.3 1353.9,1245.3 1354.5,1249.1 1355,1248.1 1355.6,1248.3 1356.1,1243 1356.6,1228.9 1357.2,1243 1357.7,1241.4 1358.3,1247.8 1358.8,1245.6 1359.3,1240 1359.9,1238.9 1360.4,1256.8 1361,1254.1 1361.5,1249.6 1362,1283.3 1362.6,1235.7 1363.1,1241 1363.7,1242 1364.2,1238.5 1364.7,1254.3 1365.3,1262.1 1365.8,1246.1 1366.4,1241.3 1366.9,1243.8 1367.4,1231.3 1368,1230.4 1368.5,1231.1 1369.1,1238.9 1369.6,1253.1 1370.1,1266.6 1370.7,1262.9 1371.2,1263.8 1371.8,1299.8 1372.3,1231.2 1372.8,1239.3 1373.4,1226.3 1373.9,1250.6 1374.5,1248.8 1375,1242.4 1375.5,1235.4 1376.1,1243.4 1376.6,1238.4 1377.2,1250 1377.7,1239.6 1378.2,1237.4 1378.8,1249.3 1379.3,1246.1 1379.9,1233.6 1380.4,1225.1 1380.9,1209.9 1381.5,1216.5 1382,1248.4 1382.6,1246.3 1383.1,1262.6 1383.6,1248.4 1384.2,1254.3 1384.7,1238.6 1385.3,1228.2 1385.8,1245.5 1386.3,1232.4 1386.9,1242.2 1387.4,1255.9 1388,1250.1 1388.5,1245.8 1389,1241.5 1389.6,1246.2 1390.1,1250.5 1390.7,1236.3 1391.2,1240.1 1391.7,1233.9 1392.3,1252.6 1392.8,1260.1 1393.4,1258.3 1393.9,1268.8 1394.4,1252.3 1395,1247.1 1395.5,1263.4 1396.1,1264 1396.6,1251.9 1397.1,1345.9 1397.7,1246.2 1398.2,1242.4 1398.8,1256.3 1399.3,1254.2 1399.8,1244.9 1400.4,1242.6 1400.9,1243.2 1401.5,1233.2 1402,1241 1402.5,1235.8 1403.1,1242.3 1403.6,1250.8 1404.2,1275.1 1404.7,1241.7 1405.2,1246.2 1405.8,1257.8 1406.3,1249.1 1406.9,1247.6 1407.4,1254.5 1407.9,1264.1 1408.5,1264.7 1409,1266.4 1409.6,1302.6 1410.1,1240 1410.6,1242.7 1411.2,1249.9 1411.7,1234.3 1412.3,1255 1412.8,1255.8 1413.3,1256 1413.9,1249.3 1414.4,1251.4 1415,1241.7 1415.5,1235.6 1416,1250.3 1416.6,1250.9 1417.1,1242.7 1417.7,1236.8 1418.2,1245.4 1418.7,1227.4 1419.3,1227.4 1419.8,1243 1420.4,1252.4 1420.9,1238.4 1421.4,1230.2 1422,1217.6 1422.5,1232.1 1423.1,1240.2 1423.6,1232.4 1424.1,1239.8 1424.7,1243.4 1425.2,1250.5 1425.8,1256.7 1426.3,1256.6 1426.8,1239.5 1427.4,1240.7 1427.9,1258.6 1428.5,1243 1429,1220.7 1429.5,1250 1430.1,1236.1 1430.6,1245.8 1431.2,1243.5 1431.7,1258.6 1432.2,1231.7 1432.8,1227.1 1433.3,1230.6 1433.9,1240.2 1434.4,1248.1 1434.9,1251.1 1435.5,1232.1 1436,1247.4 1436.6,1217.9 1437.1,1232.1 1437.6,1224.4 1438.2,1254.4 1438.7,1259.1 1439.3,1242.4 1439.8,1248.7 1440.3,1234.3 1440.9,1241.2 1441.4,1244 1442,1245.1 1442.5,1239.7 1443,1243.2 1443.6,1236.8 1444.1,1227.6 1444.7,1240.2 1445.2,1248 1445.7,1240.9 1446.3,1237.1 1446.8,1237.6 1447.4,1255.2 1447.9,1242.2 1448.4,1255.5 1449,1258.6 1449.5,1259.1 1450.1,1249.8 1450.6,1242.4 1451.1,1231.9 1451.7,1300.6 1452.2,1241.2 1452.8,1237.6 1453.3,1236.6 1453.8,1246.6 1454.4,1241.3 1454.9,1255.2 1455.5,1258.5 1456,1234.8 1456.5,1242.7 1457.1,1273.5 1457.6,1273.2 1458.2,1291.6 1458.7,1266.6 1459.2,1258 1459.8,1263.1 1460.3,1251.6 1460.9,1240 1461.4,1240 1461.9,1239.5 1462.5,1240.8 1463,1252.1 1463.6,1227.4 1464.1,1249.1 1464.6,1232.6 1465.2,1227.5 1465.7,1226.9 1466.3,1243.1 1466.8,1235.2 1467.3,1236 1467.9,1246.4 1468.4,1239.3 1469,1255.6 1469.5,1245.6 1470,1230 1470.6,1235 1471.1,1249.1 1471.7,1236.5 1472.2,1249.5 1472.7,1243.6 1473.3,1260.2 1473.8,1237.3 1474.4,1247.7 1474.9,1243 1475.4,1249.3 1476,1250.3 1476.5,1240.6 1477.1,1241.6 1477.6,1239.1 1478.1,1248.8 1478.7,1243.4 1479.2,1243.1 1479.8,1227.1 1480.3,1238.1 1480.8,1238.1 1481.4,1257.8 1481.9,1238.9 1482.5,1230.9 1483,1242.6 1483.5,1241.1 1484.1,1250.3 1484.6,1264.5 1485.2,1248.2 1485.7,1256.3 1486.2,1254.4 1486.8,1239.4 1487.3,1248.6 1487.9,1241 1488.4,1246.2 1488.9,1255.1 1489.5,1261.6 1490,1248.9 1490.6,1258 1491.1,1255.4 1491.6,1256.6 1492.2,1251.1 1492.7,1240 1493.3,1244 1493.8,1246.3 1494.3,1243.8 1494.9,1244.9 1495.4,1264.6 1496,1249 1496.5,1246.5 1497,1246.4 1497.6,1247 1498.1,1230 1498.7,1238.2 1499.2,1227.2 1499.7,1221.2 1500.3,1245.4 1500.8,1231.1 1501.4,1241.4 1501.9,1242.5 1502.4,1231.4 1503,1247.2 1503.5,1232.7 1504.1,1228.7 1504.6,1240.5 1505.1,1250.2 1505.7,1244.5 1506.2,1246.1 1506.8,1244.5 1507.3,1253.5 1507.8,1277.3 1508.4,1249.4 1508.9,1232.7 1509.5,1243.4 1510,1231.2 1510.5,1239 1511.1,1230.4 1511.6,1240.6 1512.2,1257.4 1512.7,1250.3 1513.2,1262.6 1513.8,1253 1514.3,1271.1 1514.9,1249.8 1515.4,1238.3 1515.9,1255.9 1516.5,1251.5 1517,1250.7 1517.6,1265.5 1518.1,1279.5 1518.6,1275.3 1519.2,1250.4 1519.7,1225.4 1520.3,1246 1520.8,1247.3 1521.3,1244.8 1521.9,1238.3 1522.4,1244.6 1523,1229.5 1523.5,1232.1 1524,1236.7 1524.6,1239.7 1525.1,1241.8 1525.7,1234.1 1526.2,1245.7 1526.7,1238.2 1527.3,1240.2 1527.8,1237.8 1528.4,1241 1528.9,1255 1529.4,1253.3 1530,1268.1 1530.5,1260.2 1531.1,1239.4 1531.6,1231.9 1532.1,1244.5 1532.7,1247.1 1533.2,1265 1533.8,1265.7 1534.3,1257.7 1534.8,1283.3 1535.4,1180.2 1535.9,1267.1 1536.5,1325.9 1537,1248 1537.5,1241.4 1538.1,1247 1538.6,1229.7 1539.2,1236.1 1539.7,1243.7 1540.2,1235 1540.8,1233.9 1541.3,1234.7 1541.9,1247.4 1542.4,1224.5 1542.9,1233.2 1543.5,1240 1544,1250.8 1544.6,1243.6 1545.1,1241.4 1545.6,1256.9 1546.2,1251.1 1546.7,1255 1547.3,1244 1547.8,1246.4 1548.3,1253 1548.9,1242.9 1549.4,1251.2 1550,1243.6 1550.5,1231.4 1551,1235.8 1551.6,1223.9 1552.1,1233 1552.7,1238.4 1553.2,1230.3 1553.7,1236 1554.3,1223.6 1554.8,1228 1555.4,1229.5 1555.9,1229.6 1556.4,1257 1557,1240 1557.5,1245.7 1558.1,1228.9 1558.6,1226.4 1559.1,1230.2 1559.7,1236.8 1560.2,1235.5 1560.8,1245.4 1561.3,1240.2 1561.8,1246.5 1562.4,1244.9 1562.9,1241.4 1563.5,1250 1564,1246.7 1564.5,1239 1565.1,1229.7 1565.6,1222.9 1566.2,1224.8 1566.7,1225.5 1567.2,1223 1567.8,1229.3 1568.3,1246 1568.9,1230.9 1569.4,1238.3 1569.9,1245.9 1570.5,1241.7 1571,1233.7 1571.6,1251.4 1572.1,1249.2 1572.6,1234.1 1573.2,1238.5 1573.7,1247.1 1574.3,1234.6 1574.8,1247.4 1575.3,1254.4 1575.9,1242.7 1576.4,1259.8 1577,1272.7 1577.5,1265.8 1578,1251.2 1578.6,1246.9 1579.1,1249.9 1579.7,1234.6 1580.2,1230.9 1580.7,1212.6 1581.3,1217.4 1581.8,1232.1 1582.4,1230.9 1582.9,1249.6 1583.4,1234.5 1584,1248 1584.5,1252.2 1585.1,1250.4 1585.6,1245 1586.1,1240.5 1586.7,1231.2 1587.2,1240.9 1587.8,1255.7 1588.3,1253.5 1588.8,1253.9 1589.4,1244.2 1589.9,1261.5 1590.5,1257.7 1591,1273.4 1591.5,1241.5 1592.1,1238.2 1592.6,1233.4 1593.2,1234.8 1593.7,1239.1 1594.2,1253.6 1594.8,1241.4 1595.3,1259.9 1595.9,1256.4 1596.4,1251.9 1596.9,1234.2 1597.5,1218.2 1598,1201.1 1598.6,1242.8 1599.1,1269.3 1599.6,1201.7 1600.2,1238.1 1600.7,1228.4 1601.3,1217.5 1601.8,1241.9 1602.3,1261.3 1602.9,1252.4 1603.4,1264 1604,1256.6 1604.5,1247.1 1605,1225 1605.6,1248.9 1606.1,1250.2 1606.7,1267.7 1607.2,1253.2 1607.7,1257.8 1608.3,1245.5 1608.8,1252.1 1609.4,1263.7 1609.9,1266.2 1610.4,1283.2 1611,1272.9 1611.5,1340.4 1612.1,1243.1 1612.6,1249.9 1613.1,1222.6 1613.7,1207 1614.2,1229.5 1614.8,1228.9 1615.3,1228.2 1615.8,1319.5 1616.4,1233.6 1616.9,1241.7 1617.5,1229.2 1618,1243.3 1618.5,1256 1619.1,1271.2 1619.6,1238.7 1620.2,1263.9 1620.7,1251.7 1621.2,1262.6 1621.8,1249.7 1622.3,1246.3 1622.9,1240.4 1623.4,1251.2 1623.9,1265.5 1624.5,1263.6 1625,1259.1 1625.6,1244.1 1626.1,1232.4 1626.6,1251.9 1627.2,1224 1627.7,1225.5 1628.3,1237.4 1628.8,1249.7 1629.3,1270.6 1629.9,1273.2 1630.4,1253.5 1631,1266.3 1631.5,1251.6 1632,1221.6 1632.6,1248.3 1633.1,1253.4 1633.7,1246.4 1634.2,1234.7 1634.7,1217 1635.3,1205.5 1635.8,1243.2 1636.4,1247.2 1636.9,1235.7 1637.4,1358.4 1638,1216.3 1638.5,1237.6 1639.1,1263.5 1639.6,1253.5 1640.1,1259.9 1640.7,1275.5 1641.2,1273.3 1641.8,1363.5 1642.3,1221.3 1642.8,1232.9 1643.4,1233.2 1643.9,1238.8 1644.5,1240.4 1645,1124.2 1645.5,1251.7 1646.1,1242.3 1646.6,1225.4 1647.2,1238.8 1647.7,1240.5 1648.2,1249.1 1648.8,1308.4 1649.3,1265.5 1649.9,1239.3 1650.4,1237.2 1650.9,1250.2 1651.5,1245.1 1652,1226.6 1652.6,1219.3 1653.1,1225.3 1653.6,1233.7 1654.2,1265.5 1654.7,1276.8 1655.3,1265.3 1655.8,1267.4 1656.3,1263.4 1656.9,1237.1 1657.4,1230.1 1658,1252.4 1658.5,1227.3 1659,1230.5 1659.6,1229.9 1660.1,1280.2 1660.7,1268.1 1661.2,1250.8 1661.7,1276.1 1662.3,1245.2 1662.8,1269.3 1663.4,1273.1 1663.9,1200.3 1664.4,1258.9 1665,1256.5 1665.5,1253.8 1666.1,1237.9 1666.6,1236.9 1667.1,1249.1 1667.7,1220.4 1668.2,1231.2 1668.8,1229.2 1669.3,1250 1669.8,1256.2 1670.4,1241.3 1670.9,1227.7 1671.5,1242.8 1672,1247.7 1672.5,1252.5 1673.1,1279 1673.6,1246.6 1674.2,1278.9 1674.7,1301.1 1675.2,1249.6 1675.8,1258.2 1676.3,1270.8 1676.9,1258 1677.4,1243.3 1677.9,1238.8 1678.5,1247.5 1679,1264.3 1679.6,1248.3 1680.1,1271.6 1680.6,1277.5 1681.2,1274.9 1681.7,1263.8 1682.3,1248.8 1682.8,1249.4 1683.3,1263.6 1683.9,1279.4 1684.4,1129.6 1685,1259.9 1685.5,1238.6 1686,1235 1686.6,1320 1687.1,1244.5 1687.7,1269.2 1688.2,1271.5 1688.7,1256.2 1689.3,1251.4 1689.8,1343.1 1690.4,1239.8 1690.9,1245.5 1691.4,1251.5 1692,1245.8 1692.5,1238.5 1693.1,1248.4 1693.6,1252.2 1694.1,1248.2 1694.7,1274.2 1695.2,1279.5 1695.8,1285.8 1696.3,1175.9 1696.8,1286 1697.4,1269.3 1697.9,1280 1698.5,1252.5 1699,1258.5 1699.5,1297.6 1700.1,1252.8 1700.6,1230.9 1701.2,1246.5 1701.7,1233 1702.2,1226.2 1702.8,1230.8 1703.3,1253.8 1703.9,1229.2 1704.4,1249.7 1704.9,1263.9 1705.5,1214.8 1706,1249.4 1706.6,1273.6 1707.1,1253 1707.6,1255.9 1708.2,1253.3 1708.7,1249.8 1709.3,1247.7 1709.8,1309.1 1710.3,1227.1 1710.9,1233.2 1711.4,1246.4 1712,1229.7 1712.5,1231.4 1713,1243.2 1713.6,1261.2 1714.1,1309.4 1714.7,1276.3 1715.2,1272.1 1715.7,1282.5 1716.3,1288.8 1716.8,1275.5 1717.4,1265.3 1717.9,1252.4 1718.4,1321.4 1719,1233.3 1719.5,1233.2 1720.1,1247.5 1720.6,1254.1 1721.1,1187.5 1721.7,1252.5 1722.2,1270 1722.8,1244.6 1723.3,1232.1 1723.8,1223.2 1724.4,1220.5 1724.9,1247.1 1725.5,1248.6 1726,1245.7 1726.5,1246.7 1727.1,1238.6 1727.6,1246.9 1728.2,1244.1 1728.7,1220.5 1729.2,1222.3 1729.8,1200.8 1730.3,1226.4 1730.9,1235.3 1731.4,1215.8 1731.9,1229.4 1732.5,1243.6 1733,1204.2 1733.6,1228.8 1734.1,1218.4 1734.6,1215.2 1735.2,1191.9 1735.7,1183.2 1736.3,1195.4 1736.8,1216.9 1737.3,1218.5 1737.9,1211.5 1738.4,1188.6 1739,1214.3 1739.5,1233.8 1740,1231.2 1740.6,1208.5 1741.1,1192.9 1741.7,1203 1742.2,1206.3 1742.7,1209 1743.3,1212.6 1743.8,1231 1744.4,1215.1 1744.9,1242.9 1745.4,1206.9 1746,1187.2 1746.5,1204.8 1747.1,1209.1 1747.6,1219.4 1748.1,1227.1 1748.7,1228.1 1749.2,1208.8 1749.8,1191.7 1750.3,1207.4 1750.8,1216.8 1751.4,1222.1 1751.9,1207.8 1752.5,1194.4 1753,1176.3 1753.5,1205.2 1754.1,1201 1754.6,1238.9 1755.2,1246 1755.7,1236.9 1756.2,1215.6 1756.8,1220.7 1757.3,1229.5 1757.9,1203 1758.4,1202.6 1758.9,1228.8 1759.5,1212.6 1760,1213.1 1760.6,1207.6 1761.1,1188.6 1761.6,1203.1 1762.2,1212.6 1762.7,1204 1763.3,1222.6 1763.8,1211.1 1764.3,1213.9 1764.9,1220.5 1765.4,1229.7 1766,1218.8 1766.5,1232.7 1767,1231.4 1767.6,1198.3 1768.1,1200.4 1768.7,1222.1 1769.2,1222.2 1769.7,1250.4 1770.3,1219.7 1770.8,1256.5 1771.4,1211.9 1771.9,1213.5 1772.4,1228.3 1773,1216.9 1773.5,1224.5 1774.1,1220.3 1774.6,1231.7 1775.1,1228.6 1775.7,1252.7 1776.2,1291.3 1776.8,1291.8 1777.3,1274 1777.8,1279.4 1778.4,1304.6 1778.9,1261.3 1779.5,1242.8 1780,1234.8 1780.5,1232.3 1781.1,1231.4 1781.6,1198.4 1782.2,1209.2 1782.7,1221.1 1783.2,1222.3 1783.8,1239.6 1784.3,1231.9 1784.9,1231.5 1785.4,1249.5 1785.9,1258.8 1786.5,1251.7 1787,1231 1787.6,1245.2 1788.1,1240.5 1788.6,1221 1789.2,1222.4 1789.7,1228.3 1790.3,1239.7 1790.8,1241.5 1791.3,1242.5 1791.9,1235.1 1792.4,1240.8 1793,1230.2 1793.5,1229.4 1794,1248.3 1794.6,1242.9 1795.1,1240.2 1795.7,1254 1796.2,1252.1 1796.7,1260.1 1797.3,1260.1 1797.8,1241.7 1798.4,1251.4 1798.9,1246 1799.4,1255.4 1800,1238.3 1800.5,1257.3 1801.1,1261.8 1801.6,1268.3 1802.1,1264.9 1802.7,1254.6 1803.2,1230.6 1803.8,1253.7 1804.3,1226.1 1804.8,1229.4 1805.4,1231.8 1805.9,1266.3 1806.5,1239.1 1807,1242.7 1807.5,1227.6 1808.1,1223.8 1808.6,1204.9 1809.2,1222.4 1809.7,1186.1 1810.2,1224.6 1810.8,1242.3 1811.3,1260.2 1811.9,1222.3 1812.4,1230.2 1812.9,1235.4 1813.5,1256.5 1814,1227.5 1814.6,1239 1815.1,1232.6 1815.6,1261.1 1816.2,1246.2 1816.7,1250.6 1817.3,1262.1 1817.8,1237.3 1818.3,1233.7 1818.9,1243.5 1819.4,1246.7 1820,1241.1 1820.5,1233.1 1821,1233.5 1821.6,1259.2 1822.1,1275.8 1822.7,1278.5 1823.2,1320.3 1823.7,1360.5 1824.3,1280.9 1824.8,1252 1825.4,1274.5 1825.9,1276.8 1826.4,1276.9 1827,1279.8 1827.5,1270.8 1828.1,1259.3 1828.6,1262.3 1829.1,1263.3 1829.7,1257.6 1830.2,1266.9 1830.8,1207 1831.3,1246.2 1831.8,1205.2 1832.4,1218.6 1832.9,1240.9 1833.5,1251.1 1834,1235.9 1834.5,1256.7 1835.1,1259.5 1835.6,1268.8 1836.2,1249 1836.7,1242.7 1837.2,1246.8 1837.8,1262 1838.3,1254.1 1838.9,1240.3 1839.4,1219.7 1839.9,1211 1840.5,1229.5 1841,1208.1 1841.6,1235.3 1842.1,1226.6 1842.6,1245.1 1843.2,1253.1 1843.7,1252.2 1844.3,1239.4 1844.8,1258.7 1845.3,1242.5 1845.9,1267.9 1846.4,1256.3 1847,1254.8 1847.5,1231.1 1848,1217.2 1848.6,1210.6 1849.1,1219.9 1849.7,1238.9 1850.2,1232.4 1850.7,1244 1851.3,1214.1 1851.8,1242 1852.4,1237.1 1852.9,1224.4 1853.4,1224.6 1854,1263 1854.5,1256.7 1855.1,1264.7 1855.6,1239 1856.1,1264.3 1856.7,1228.1 1857.2,1252.7 1857.8,1232.2 1858.3,1248.5 1858.8,1263.3 1859.4,1242.8 1859.9,1234.5 1860.5,1245.3 1861,1248.3 1861.5,1237.3 1862.1,1242.2 1862.6,1275.1 1863.2,1243.5 1863.7,1256.3 1864.2,1289.6 1864.8,1282.2 1865.3,1282.1 1865.9,1257.3 1866.4,1295.5 1866.9,1265.6 1867.5,1263.3 1868,1238.8 1868.6,1258.7 1869.1,1245.9 1869.6,1221.3 1870.2,1257.1 1870.7,1224.7 1871.3,1221.1 1871.8,1248.7 1872.3,1224.4 1872.9,1270.4 1873.4,1222.9 1874,1226 1874.5,1226 1875,1242.6 1875.6,1228.8 1876.1,1241.3 1876.7,1240.3 1877.2,1262.5 1877.7,1251.1 1878.3,1223.9 1878.8,1246.5 1879.4,1260.4 1879.9,1256 1880.4,1248.4 1881,1243.2 1881.5,1285.7 1882.1,1272.4 1882.6,1253 1883.1,1258.2 1883.7,1230.6 1884.2,1220.1 1884.8,1218 1885.3,1212.1 1885.8,1226.8 1886.4,1228.9 1886.9,1247 1887.5,1238 1888,1253.5 1888.5,1244.4 1889.1,1267.9 1889.6,1263.6 1890.2,1370 1890.7,1270.5 1891.2,1266.9 1891.8,1265.5 1892.3,1285.9 1892.9,1273.8 1893.4,1178.4 1893.9,1257.4 1894.5,1247.4 1895,1231.4 1895.6,1227 1896.1,1364.1 1896.6,1230.9 1897.2,1258.5 1897.7,1250 1898.3,1331.2 1898.8,1225.6 1899.3,1234.6 1899.9,1272 1900.4,1249.9 1901,1250.3 1901.5,1238.2 1902,1246.7 1902.6,1230.7 1903.1,1261.8 1903.7,1357.3 1904.2,1256.9 1904.7,1237.5 1905.3,1258.2 1905.8,1230.1 1906.4,1224.9 1906.9,1136.7 1907.4,1207.6 1908,1209 1908.5,1209.1 1909.1,1223.8 1909.6,1255.5 1910.1,1253.9 1910.7,1247.3 1911.2,1231.9 1911.8,1361.9 1912.3,1227.1 1912.8,1241.8 1913.4,1227.3 1913.9,1237.2 1914.5,1257.2 1915,1235.5 1915.5,1253.9 1916.1,1264.9 1916.6,1227.9 1917.2,1227.1 1917.7,1236.9 1918.2,1255.9 1918.8,1243.5 1919.3,1223 1919.9,1237.7 1920.4,1241.4 1920.9,1233.4 1921.5,1238 1922,1265.4 1922.6,1234.2 1923.1,1242.7 1923.6,1237.7 1924.2,1228.9 1924.7,1243 1925.3,1247.7 1925.8,1257.5 1926.3,1267.7 1926.9,1315.5 1927.4,1261.5 1928,1254 1928.5,1240.1 1929,1237.3 1929.6,1240.1 1930.1,1242.3 1930.7,1215.4 1931.2,1230.6 1931.7,1247.9 1932.3,1236.9 1932.8,1239.5 1933.4,1225.1 1933.9,1222.5 1934.4,1216.6 1935,1198.1 1935.5,1216.2 1936.1,1227.8 1936.6,1249.2 1937.1,1253.1 1937.7,1235.8 1938.2,1240.6 1938.8,1229.5 1939.3,1242.7 1939.8,1254.7 1940.4,1254.4 1940.9,1193.6 1941.5,1245.4 1942,1230.4 1942.5,1333.1 1943.1,1219.1 1943.6,1249.8 1944.2,1254.7 1944.7,1360 1945.2,1250.5 1945.8,1221.1 1946.3,1260 1946.9,1259.1 1947.4,1245.6 1947.9,1222.3 1948.5,1236.7 1949,1236.8 1949.6,1245.8 1950.1,1242.6 1950.6,1253.1 1951.2,1237.3 1951.7,1247 1952.3,1242.9 1952.8,1241 1953.3,1242.8 1953.9,1224.9 1954.4,1243.4 1955,1226.6 1955.5,1246 1956,1238.9 1956.6,1237.5 1957.1,1228.4 1957.7,1230.4 1958.2,1207.7 1958.7,1260.6 1959.3,1237.7 1959.8,1226.3 1960.4,1240.2 1960.9,1250.3 1961.4,1182.8 1962,1243.8 1962.5,1222.8 1963.1,1248.4 1963.6,1240.2 1964.1,1218.3 1964.7,1223.4 1965.2,1323.1 1965.8,1243.9 1966.3,1253.4 1966.8,1235.3 1967.4,1232.2 1967.9,1220.5 1968.5,1238.8 1969,1234.9 1969.5,1220.3 1970.1,1231.4 1970.6,1232.2 1971.2,1227.6 1971.7,1231.7 1972.2,1248.1 1972.8,1235.6 1973.3,1239.7 1973.9,1216 1974.4,1229.5 1974.9,1209.9 1975.5,1241.8 1976,1246.6 1976.6,1254.9 1977.1,1262.5 1977.6,1220.2 1978.2,1232.6 1978.7,1227.9 1979.3,1259.1 1979.8,1227.4 1980.3,1240.4 1980.9,1239.6 1981.4,1249.9 1982,1224.4 1982.5,1234.9 1983,1242.9 1983.6,1254.9 1984.1,1265.9 1984.7,1235.6 1985.2,1240.3 1985.7,1229 1986.3,1231.5 1986.8,1233.3 1987.4,1233.2 1987.9,1246.5 1988.4,1255.9 1989,1249.3 1989.5,1218.8 1990.1,1229.7 1990.6,1238 1991.1,1244.8 1991.7,1228.3 1992.2,1233.2 1992.8,1232.6 1993.3,1245.4 1993.8,1258.1 1994.4,1255.6 1994.9,1247 1995.5,1252.2 1996,1244.8 1996.5,1271.6 1997.1,1289.4 1997.6,1276.4 1998.2,1251.4 1998.7,1261.1 1999.2,1246.3 1999.8,1237.1 2000.3,1224.9 2000.9,1298.4 2001.4,1260.9 2001.9,1256.5 2002.5,1257.1 2003,1257.9 2003.6,1256.6 2004.1,1236.1 2004.6,1226.8 2005.2,1236 2005.7,1216.2 2006.3,1240.9 2006.8,1249.5 2007.3,1253 2007.9,1239 2008.4,1234.8 2009,1241.3 2009.5,1234.4 2010,1234.3 2010.6,1235 2011.1,1244.6 2011.7,1250.5 2012.2,1239.2 2012.7,1239.7 2013.3,1243.8 2013.8,1252.5 2014.4,1251.9 2014.9,1228 2015.4,1210.9 2016,1215.3 2016.5,1217.2 2017.1,1226.7 2017.6,1243.4 2018.1,1241.7 2018.7,1214.5 2019.2,1240.4 2019.8,1217.7 2020.3,1250.5 2020.8,1226.1 2021.4,1221.5 2021.9,1222.1 2022.5,1196.4 2023,1210.3 2023.5,1221.9 2024.1,1299.8 2024.6,1255.2 2025.2,1252.9 2025.7,1258.1 2026.2,1227.7 2026.8,1228.5 2027.3,1212.4 2027.9,1227.6 2028.4,1224.8 2028.9,1221.7 2029.5,1228.2 2030,1238.8 2030.6,1227.1 2031.1,1229.6 2031.6,1234.2 2032.2,1232.4 2032.7,1209.5 2033.3,1206.8 2033.8,1238.6 2034.3,1229 2034.9,1253 2035.4,1264.2 2036,1251.6 2036.5,1226.4 2037,1221 2037.6,1208.2 2038.1,1214.1 2038.7,1244.9 2039.2,1252.7 2039.7,1257.7 2040.3,1239.4 2040.8,1234.8 2041.4,1245.5 2041.9,1239.3 2042.4,1248.4 2043,1256.6 2043.5,1256.5 2044.1,1231.4 2044.6,1238.7 2045.1,1246.3 2045.7,1236.4 2046.2,1254.7 2046.8,1240.2 2047.3,1245 2047.8,1236 2048.4,1231.6 2048.9,1238.8 2049.5,1235.7 2050,1252.3 2050.5,1221.7 2051.1,1210.5 2051.6,1228.5 2052.2,1233.3 2052.7,1227.3 2053.2,1292.3 2053.8,1254.6 2054.3,1257.4 2054.9,1236.6 2055.4,1237.6 2055.9,1222.7 2056.5,1228.3 2057,1238.9 2057.6,1250.7 2058.1,1261.9 2058.6,1238.5 2059.2,1234 2059.7,1219.5 2060.3,1229 2060.8,1235.9 2061.3,1249.9 2061.9,1257.5 2062.4,1265.6 2063,1260.8 2063.5,1240 2064,1219.2 2064.6,1235.6 2065.1,1227.8 2065.7,1259.8 2066.2,1234.6 2066.7,1243.6 2067.3,1245.1 2067.8,1231.6 2068.4,1244.6 2068.9,1241.2 2069.4,1229.5 2070,1237.1 2070.5,1224.6 2071.1,1236.5 2071.6,1233 2072.1,1214 2072.7,1240.8 2073.2,1257.7 2073.8,1253.5 2074.3,1248.6 2074.8,1245 2075.4,1235.8 2075.9,1198.8 2076.5,1201.6 2077,1202.8 2077.5,1212.8 2078.1,1238.9 2078.6,1216.1 2079.2,1232.7 2079.7,1222 2080.2,1230.9 2080.8,1226.9 2081.3,1249.1 2081.9,1291.6 2082.4,1239 2082.9,1247.6 2083.5,1254.1 2084,1229.4 2084.6,1234.7 2085.1,1235.4 2085.6,1249.8 2086.2,1234.4 2086.7,1257.6 2087.3,1241.6 2087.8,1242 2088.3,1244.4 2088.9,1249.8 2089.4,1265.1 2090,1249 2090.5,1259.1 2091,1240.7 2091.6,1232 2092.1,1265.5 2092.7,1253.9 2093.2,1222.5 2093.7,1227.1 2094.3,1248.6 2094.8,1259.8 2095.4,1247.1 2095.9,1230.7 2096.4,1241.8 2097,1235.9 2097.5,1260.2 2098.1,1235.3 2098.6,1244.5 2099.1,1252.6 2099.7,1267.5 2100.2,1257 2100.8,1229.9 2101.3,1231.6 2101.8,1244.5 2102.4,1244.5 2102.9,1235.6 2103.5,1242.8 2104,1230.3 2104.5,1227.4 2105.1,1233 2105.6,1233.2 2106.2,1234 2106.7,1233 2107.2,1236.4 2107.8,1223.4 2108.3,1235.6 2108.9,1234 2109.4,1218 2109.9,1219.3 2110.5,1236.8 2111,1202.6 2111.6,1217.4 2112.1,1230.6 2112.6,1208 2113.2,1201.9 2113.7,1221.7 2114.3,1218.4 2114.8,1241 2115.3,1222.4 2115.9,1224 2116.4,1254.5 2117,1232 2117.5,1211.4 2118,1193 2118.6,1227.5 2119.1,1220.7 2119.7,1228.2 2120.2,1224 2120.7,1230.4 2121.3,1223.5 2121.8,1215.6 2122.4,1221.9 2122.9,1218.3 2123.4,1220 2124,1212.9 2124.5,1224.7 2125.1,1244.4 2125.6,1232.8 2126.1,1239.9 2126.7,1244.5 2127.2,1245.6 2127.8,1255.1 2128.3,1237.4 2128.8,1233.5 2129.4,1256.8 2129.9,1231.5 2130.5,1224.6 2131,1230.7 2131.5,1256.4 2132.1,1250.6 2132.6,1240.4 2133.2,1245.8 2133.7,1260.5 2134.2,1315.2 2134.8,1230 2135.3,1229.3 2135.9,1243.3 2136.4,1241.8 2136.9,1247.3 2137.5,1224 2138,1362.8 2138.6,1232 2139.1,1254.9 2139.6,1257 2140.2,1251.4 2140.7,1230 2141.3,1268.9 2141.8,1254.1 2142.3,1275.6 2142.9,1240.8 2143.4,1266.7 2144,1262 2144.5,1275.1 2145,1245.3 2145.6,1272.9 2146.1,1346.2 2146.7,1268.9 2147.2,1257.9 2147.7,1238.3 2148.3,1233.7 2148.8,1231.3 2149.4,1224.7 2149.9,1244.6 2150.4,1248.5 2151,1233.3 2151.5,1221.9 2152.1,1226.3 2152.6,1255.6 2153.1,1249 2153.7,1246.1 2154.2,1235.1 2154.8,1182.3 2155.3,1238.4"/>
</g>
<path fill="none" stroke="#505050" stroke-width="2.5" d="M377.2 60.0v19.5M377.2 1083.6v-19.5M379.1 1127.8v17M379.1 1355.2v-17M650.8 60.0v19.5M650.8 1083.6v-19.5M652.7 1127.8v17M652.7 1355.2v-17M924.4 60.0v19.5M924.4 1083.6v-19.5M926.3 1127.8v17M926.3 1355.2v-17M1197.9 60.0v19.5M1197.9 1083.6v-19.5M1199.8 1127.8v17M1199.8 1355.2v-17M1471.5 60.0v19.5M1471.5 1083.6v-19.5M1473.4 1127.8v17M1473.4 1355.2v-17M1745.1 60.0v19.5M1745.1 1083.6v-19.5M1747.0 1127.8v17M1747.0 1355.2v-17M2018.7 60.0v19.5M2018.7 1083.6v-19.5M2020.6 1127.8v17M2020.6 1355.2v-17M308.2 1077.5h19.5M2155.6 1077.5h-19.5M308.2 963.8h19.5M2155.6 963.8h-19.5M308.2 850.1h19.5M2155.6 850.1h-19.5M308.2 736.4h19.5M2155.6 736.4h-19.5M308.2 622.6h19.5M2155.6 622.6h-19.5M308.2 508.9h19.5M2155.6 508.9h-19.5M308.2 395.2h19.5M2155.6 395.2h-19.5M308.2 281.4h19.5M2155.6 281.4h-19.5M308.2 167.7h19.5M2155.6 167.7h-19.5M308.2 1300.4h19M2155.6 1300.4h-19M308.2 1243.0h19M2155.6 1243.0h-19M308.2 1185.7h19M2155.6 1185.7h-19"/>
<rect x="308.2" y="60.0" width="1847.4" height="1023.6" fill="none" stroke="#666" stroke-width="3.0"/>
<rect x="308.2" y="1127.8" width="1847.4" height="227.4" fill="none" stroke="#666" stroke-width="3.0"/>
<g fill="#262626" font-size="67" text-anchor="end"><text x="285" y="1103.0">0.2</text><text x="285" y="989.3">0.3</text><text x="285" y="875.6">0.4</text><text x="285" y="761.9">0.5</text><text x="285" y="648.1">0.6</text><text x="285" y="534.4">0.7</text><text x="285" y="420.7">0.8</text><text x="285" y="306.9">0.9</text><text x="285" y="193.2">1</text><text x="285" y="1211.7">0.05</text><text x="285" y="1269.0">0</text><text x="285" y="1326.4">-0.05</text></g>
<g fill="#262626" font-size="67.5" text-anchor="middle"><text x="377.2" y="1446">2920</text><text x="650.8" y="1446">2940</text><text x="924.4" y="1446">2960</text><text x="1197.9" y="1446">2980</text><text x="1471.5" y="1446">3000</text><text x="1745.1" y="1446">3020</text><text x="2018.7" y="1446">3040</text></g>
<text transform="translate(163.4 570.5) rotate(-90)" text-anchor="middle" font-size="74" fill="#000">Normalized cavity transmission</text>
<text transform="translate(102.7 1241) rotate(-90)" text-anchor="middle" font-size="73.5" fill="#000">Residuals</text>
<text x="871" y="1559" font-size="74" fill="#262626">Wavenumber [cm<tspan font-size="57" dy="-37">-1</tspan><tspan dy="37">]</tspan></text>
<text x="358" y="1039" font-size="85" fill="#000">(a)</text>
<text x="356" y="1335" font-size="85" fill="#000">(b)</text>
<rect x="1519.1" y="720.2" width="586.9" height="292.9" fill="#fff" stroke="#666" stroke-width="2.8"/>
<path d="M1531 777.2H1658" stroke="#f00" stroke-width="8"/>
<path d="M1531 881.1H1658" stroke="#00f" stroke-width="4"/>
<circle cx="1595.5" cy="971" r="6.8" fill="#000"/>
<g font-size="60.5" fill="#000"><text x="1668" y="787.6">Fit (H<tspan font-size="52" dy="29">2</tspan><tspan dy="-29">O + CH</tspan><tspan font-size="52" dy="29">4</tspan><tspan dy="-29">)</tspan></text><text x="1668" y="892.4">Fit (CH<tspan font-size="52" dy="29">4</tspan><tspan dy="-29">)</tspan></text><text x="1668" y="995.4">Data</text></g>
<rect x="520.3" y="496.2" width="848.7" height="439.6" fill="#fff"/>
<g clip-path="url(#ci)">
<path fill="none" stroke="#00f" stroke-width="3.5" stroke-linejoin="round" d="M520.0 575.1C545.3 575.1 643.4 574.8 671.7 575.1C700.0 575.4 683.8 575.8 689.9 576.9C695.9 578.1 702.3 579.2 708.0 581.9C713.6 584.6 719.3 589.1 723.8 593.2C728.4 597.4 731.0 600.0 735.1 606.8C739.3 613.6 744.2 621.9 748.7 634.0C753.3 646.1 757.8 661.2 762.3 679.3C766.8 697.4 771.8 721.5 775.9 742.7C780.1 763.8 783.1 788.9 787.2 806.1C791.4 823.3 796.3 838.0 800.8 845.9C805.3 853.9 808.7 855.4 814.4 853.6C820.1 851.9 828.4 841.9 834.8 835.5C841.2 829.1 847.6 822.3 852.9 815.1C858.2 808.0 862.0 802.3 866.5 792.5C871.0 782.7 875.5 769.1 880.1 756.3C884.6 743.4 889.5 728.3 893.7 715.5C897.8 702.7 900.5 687.6 905.0 679.3C909.5 671.0 915.9 665.3 920.8 665.7C925.7 666.1 929.9 671.7 934.4 681.5C938.9 691.4 943.5 708.3 948.0 724.6C952.5 740.8 957.4 760.8 961.6 778.9C965.7 797.0 968.4 819.7 972.9 833.3C977.4 846.8 984.2 854.8 988.8 860.4C993.3 866.1 995.9 866.9 1000.1 867.2C1004.2 867.6 1009.1 869.9 1013.7 862.7C1018.2 855.5 1022.7 841.2 1027.3 824.2C1031.8 807.2 1036.7 781.9 1040.9 760.8C1045.0 739.7 1048.0 716.3 1052.2 697.4C1056.3 678.5 1061.2 661.2 1065.8 647.6C1070.3 634.0 1074.1 624.9 1079.3 615.9C1084.6 606.8 1091.4 598.9 1097.5 593.2C1103.5 587.6 1108.0 584.8 1115.6 581.9C1123.1 579.0 1133.7 577.1 1142.8 576.0C1151.8 574.9 1132.2 575.3 1169.9 575.1C1207.7 575.0 1336.0 575.1 1369.2 575.1"/>
</g>
<path fill="none" stroke="#000" stroke-width="12.4" stroke-linecap="round" d="M521.4 568.3h0M535.0 560.2h0M547.6 580.5h0M561.2 584.2h0M574.8 564.7h0M587.5 577.4h0M601.5 560.2h0M615.1 571.9h0M627.8 568.3h0M641.4 569.2h0M655.0 593.2h0M668.1 571.9h0M681.2 567.0h0M694.8 562.0h0M708.0 583.3h0M721.6 569.2h0M734.7 605.9h0M747.8 641.7h0M761.0 678.4h0M774.5 759.4h0M787.7 832.4h0M800.8 854.5h0M814.4 874.0h0M827.5 874.0h0M841.1 867.7h0M854.3 842.3h0M867.4 839.1h0M881.0 790.7h0M894.6 738.2h0M907.7 707.8h0M921.3 699.7h0M934.4 721.4h0M947.6 785.7h0M960.7 844.6h0M974.3 858.6h0M987.0 865.9h0M1000.5 880.8h0M1014.1 870.4h0M1027.3 822.8h0M1040.4 766.2h0M1053.5 704.2h0M1066.7 647.6h0M1080.3 637.6h0M1093.4 603.2h0M1106.5 591.0h0M1120.1 576.5h0M1133.7 569.2h0M1146.8 578.7h0M1160.4 568.3h0M1174.0 573.8h0M1187.1 555.2h0M1200.3 553.4h0M1213.9 578.7h0M1227.0 589.6h0M1240.6 555.6h0M1254.2 558.4h0M1266.8 569.7h0M1280.4 562.9h0M1293.6 571.9h0M1306.7 561.5h0M1319.8 566.1h0M1333.4 591.0h0M1346.6 579.6h0M1360.1 581.9h0"/>
<path fill="none" stroke="#444" stroke-width="2.4" d="M797.9 496.2v9.5M797.9 935.8v-9.5M1137.2 496.2v9.5M1137.2 935.8v-9.5M520.3 575.5h9M1369.0 575.5h-9M520.3 706.9h9M1369.0 706.9h-9M520.3 838.3h9M1369.0 838.3h-9"/>
<rect x="520.3" y="496.2" width="848.7" height="439.6" fill="none" stroke="#555" stroke-width="2.5"/>
<g fill="#262626" font-size="57" text-anchor="end"><text x="500" y="596.5">1</text><text x="500" y="728">0.9</text><text x="500" y="859.5">0.8</text></g>
<g fill="#262626" font-size="57" text-anchor="middle"><text x="797" y="1016">2958</text><text x="1136" y="1016">2959</text></g>
</svg></body></html>
